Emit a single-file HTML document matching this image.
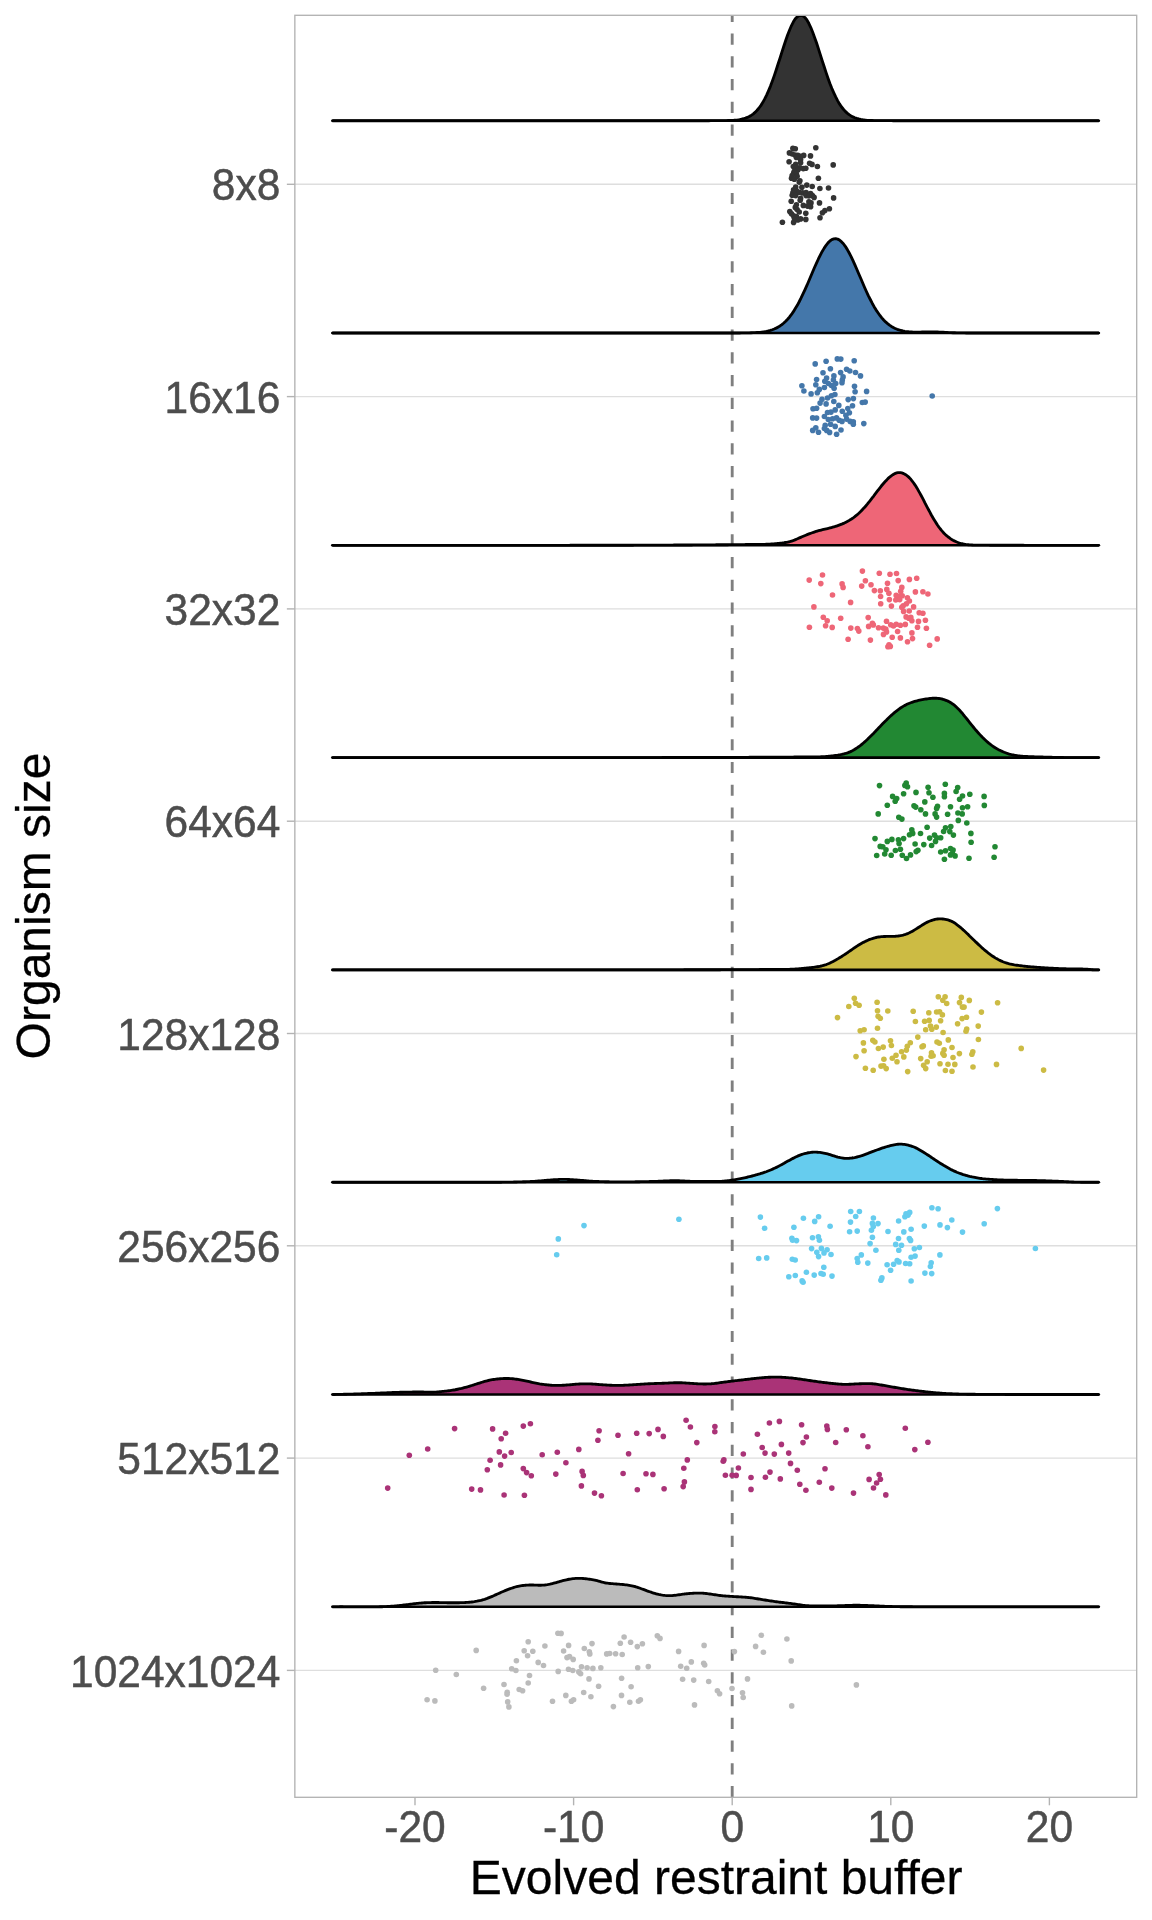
<!DOCTYPE html>
<html><head><meta charset="utf-8"><title>plot</title>
<style>
html,body{margin:0;padding:0;background:#fff;}
body{width:1152px;height:1920px;overflow:hidden;font-family:"Liberation Sans",sans-serif;}
svg{display:block;will-change:transform;}
text{font-family:"Liberation Sans",sans-serif;}
.tk{font-size:44.6px;fill:#4d4d4d;stroke:#4d4d4d;stroke-width:0.5px;}
.ti{font-size:48px;fill:#000;stroke:#000;stroke-width:0.3px;}
</style></head><body>
<svg width="1152" height="1920" viewBox="0 0 1152 1920">
<defs><clipPath id="pc"><rect x="294.85" y="15.3" width="841.85" height="1782.0"/></clipPath></defs>
<rect width="1152" height="1920" fill="#fff"/>

<g stroke="#dedede" stroke-width="1.4">
<line x1="294.85" x2="1136.7" y1="184.3" y2="184.3"/>
<line x1="294.85" x2="1136.7" y1="396.6" y2="396.6"/>
<line x1="294.85" x2="1136.7" y1="608.9" y2="608.9"/>
<line x1="294.85" x2="1136.7" y1="821.2" y2="821.2"/>
<line x1="294.85" x2="1136.7" y1="1033.5" y2="1033.5"/>
<line x1="294.85" x2="1136.7" y1="1245.8" y2="1245.8"/>
<line x1="294.85" x2="1136.7" y1="1458.1" y2="1458.1"/>
<line x1="294.85" x2="1136.7" y1="1670.4" y2="1670.4"/>
</g>
<g clip-path="url(#pc)">
<line x1="732.2" x2="732.2" y1="1797.3" y2="10.3" stroke="#7f7f7f" stroke-width="2.85" stroke-dasharray="11.2 11.56" stroke-dashoffset="0"/>
<path d="M332.3,120.70 L334.2,120.70 L336.1,120.70 L338.1,120.70 L340.0,120.70 L341.9,120.70 L343.8,120.70 L345.7,120.70 L347.7,120.70 L349.6,120.70 L351.5,120.70 L353.4,120.70 L355.4,120.70 L357.3,120.70 L359.2,120.70 L361.1,120.70 L363.0,120.70 L365.0,120.70 L366.9,120.70 L368.8,120.70 L370.7,120.70 L372.6,120.70 L374.6,120.70 L376.5,120.70 L378.4,120.70 L380.3,120.70 L382.3,120.70 L384.2,120.70 L386.1,120.70 L388.0,120.70 L389.9,120.70 L391.9,120.70 L393.8,120.70 L395.7,120.70 L397.6,120.70 L399.5,120.70 L401.5,120.70 L403.4,120.70 L405.3,120.70 L407.2,120.70 L409.2,120.70 L411.1,120.70 L413.0,120.70 L414.9,120.70 L416.8,120.70 L418.8,120.70 L420.7,120.70 L422.6,120.70 L424.5,120.70 L426.4,120.70 L428.4,120.70 L430.3,120.70 L432.2,120.70 L434.1,120.70 L436.1,120.70 L438.0,120.70 L439.9,120.70 L441.8,120.70 L443.7,120.70 L445.7,120.70 L447.6,120.70 L449.5,120.70 L451.4,120.70 L453.3,120.70 L455.3,120.70 L457.2,120.70 L459.1,120.70 L461.0,120.70 L462.9,120.70 L464.9,120.70 L466.8,120.70 L468.7,120.70 L470.6,120.70 L472.6,120.70 L474.5,120.70 L476.4,120.70 L478.3,120.70 L480.2,120.70 L482.2,120.70 L484.1,120.70 L486.0,120.70 L487.9,120.70 L489.8,120.70 L491.8,120.70 L493.7,120.70 L495.6,120.70 L497.5,120.70 L499.5,120.70 L501.4,120.70 L503.3,120.70 L505.2,120.70 L507.1,120.70 L509.1,120.70 L511.0,120.70 L512.9,120.70 L514.8,120.70 L516.7,120.70 L518.7,120.70 L520.6,120.70 L522.5,120.70 L524.4,120.70 L526.4,120.70 L528.3,120.70 L530.2,120.70 L532.1,120.70 L534.0,120.70 L536.0,120.70 L537.9,120.70 L539.8,120.70 L541.7,120.70 L543.6,120.70 L545.6,120.70 L547.5,120.70 L549.4,120.70 L551.3,120.70 L553.2,120.70 L555.2,120.70 L557.1,120.70 L559.0,120.70 L560.9,120.70 L562.9,120.70 L564.8,120.70 L566.7,120.70 L568.6,120.70 L570.5,120.70 L572.5,120.70 L574.4,120.70 L576.3,120.70 L578.2,120.70 L580.1,120.70 L582.1,120.70 L584.0,120.70 L585.9,120.70 L587.8,120.70 L589.8,120.70 L591.7,120.70 L593.6,120.70 L595.5,120.70 L597.4,120.70 L599.4,120.70 L601.3,120.70 L603.2,120.70 L605.1,120.70 L607.0,120.70 L609.0,120.70 L610.9,120.70 L612.8,120.70 L614.7,120.70 L616.7,120.70 L618.6,120.70 L620.5,120.70 L622.4,120.70 L624.3,120.70 L626.3,120.70 L628.2,120.70 L630.1,120.70 L632.0,120.70 L633.9,120.70 L635.9,120.70 L637.8,120.70 L639.7,120.70 L641.6,120.70 L643.6,120.70 L645.5,120.70 L647.4,120.70 L649.3,120.70 L651.2,120.70 L653.2,120.70 L655.1,120.70 L657.0,120.70 L658.9,120.70 L660.8,120.70 L662.8,120.70 L664.7,120.70 L666.6,120.70 L668.5,120.70 L670.4,120.70 L672.4,120.70 L674.3,120.70 L676.2,120.70 L678.1,120.70 L680.1,120.70 L682.0,120.70 L683.9,120.70 L685.8,120.70 L687.7,120.70 L689.7,120.70 L691.6,120.70 L693.5,120.70 L695.4,120.70 L697.3,120.70 L699.3,120.70 L701.2,120.70 L703.1,120.70 L705.0,120.70 L707.0,120.70 L708.9,120.70 L710.8,120.69 L712.7,120.69 L714.6,120.69 L716.6,120.68 L718.5,120.67 L720.4,120.66 L722.3,120.64 L724.2,120.62 L726.2,120.58 L728.1,120.53 L730.0,120.46 L731.9,120.37 L733.9,120.25 L735.8,120.08 L737.7,119.87 L739.6,119.58 L741.5,119.22 L743.5,118.76 L745.4,118.17 L747.3,117.44 L749.2,116.53 L751.1,115.42 L753.1,114.07 L755.0,112.45 L756.9,110.52 L758.8,108.26 L760.8,105.63 L762.7,102.61 L764.6,99.18 L766.5,95.33 L768.4,91.05 L770.4,86.37 L772.3,81.30 L774.2,75.89 L776.1,70.19 L778.0,64.28 L780.0,58.25 L781.9,52.18 L783.8,46.21 L785.7,40.43 L787.6,34.99 L789.6,29.99 L791.5,25.56 L793.4,21.81 L795.3,18.84 L797.3,16.72 L799.2,15.50 L801.1,15.22 L803.0,15.89 L804.9,17.49 L806.9,19.97 L808.8,23.28 L810.7,27.32 L812.6,32.00 L814.5,37.19 L816.5,42.79 L818.4,48.67 L820.3,54.69 L822.2,60.76 L824.2,66.75 L826.1,72.58 L828.0,78.17 L829.9,83.44 L831.8,88.36 L833.8,92.87 L835.7,96.97 L837.6,100.65 L839.5,103.91 L841.4,106.76 L843.4,109.24 L845.3,111.36 L847.2,113.15 L849.1,114.66 L851.1,115.91 L853.0,116.93 L854.9,117.76 L856.8,118.43 L858.7,118.96 L860.7,119.38 L862.6,119.71 L864.5,119.96 L866.4,120.16 L868.3,120.30 L870.3,120.41 L872.2,120.49 L874.1,120.55 L876.0,120.60 L878.0,120.63 L879.9,120.65 L881.8,120.67 L883.7,120.68 L885.6,120.68 L887.6,120.69 L889.5,120.69 L891.4,120.70 L893.3,120.70 L895.2,120.70 L897.2,120.70 L899.1,120.70 L901.0,120.70 L902.9,120.70 L904.8,120.70 L906.8,120.70 L908.7,120.70 L910.6,120.70 L912.5,120.70 L914.5,120.70 L916.4,120.70 L918.3,120.70 L920.2,120.70 L922.1,120.70 L924.1,120.70 L926.0,120.70 L927.9,120.70 L929.8,120.70 L931.7,120.70 L933.7,120.70 L935.6,120.70 L937.5,120.70 L939.4,120.70 L941.4,120.70 L943.3,120.70 L945.2,120.70 L947.1,120.70 L949.0,120.70 L951.0,120.70 L952.9,120.70 L954.8,120.70 L956.7,120.70 L958.6,120.70 L960.6,120.70 L962.5,120.70 L964.4,120.70 L966.3,120.70 L968.3,120.70 L970.2,120.70 L972.1,120.70 L974.0,120.70 L975.9,120.70 L977.9,120.70 L979.8,120.70 L981.7,120.70 L983.6,120.70 L985.5,120.70 L987.5,120.70 L989.4,120.70 L991.3,120.70 L993.2,120.70 L995.1,120.70 L997.1,120.70 L999.0,120.70 L1000.9,120.70 L1002.8,120.70 L1004.8,120.70 L1006.7,120.70 L1008.6,120.70 L1010.5,120.70 L1012.4,120.70 L1014.4,120.70 L1016.3,120.70 L1018.2,120.70 L1020.1,120.70 L1022.0,120.70 L1024.0,120.70 L1025.9,120.70 L1027.8,120.70 L1029.7,120.70 L1031.7,120.70 L1033.6,120.70 L1035.5,120.70 L1037.4,120.70 L1039.3,120.70 L1041.3,120.70 L1043.2,120.70 L1045.1,120.70 L1047.0,120.70 L1048.9,120.70 L1050.9,120.70 L1052.8,120.70 L1054.7,120.70 L1056.6,120.70 L1058.6,120.70 L1060.5,120.70 L1062.4,120.70 L1064.3,120.70 L1066.2,120.70 L1068.2,120.70 L1070.1,120.70 L1072.0,120.70 L1073.9,120.70 L1075.8,120.70 L1077.8,120.70 L1079.7,120.70 L1081.6,120.70 L1083.5,120.70 L1085.5,120.70 L1087.4,120.70 L1089.3,120.70 L1091.2,120.70 L1093.1,120.70 L1095.1,120.70 L1097.0,120.70 L1098.9,120.70 L1098.9,120.7 L332.3,120.7 Z" fill="#333333" stroke="none"/>
<path d="M332.3,120.70 L334.2,120.70 L336.1,120.70 L338.1,120.70 L340.0,120.70 L341.9,120.70 L343.8,120.70 L345.7,120.70 L347.7,120.70 L349.6,120.70 L351.5,120.70 L353.4,120.70 L355.4,120.70 L357.3,120.70 L359.2,120.70 L361.1,120.70 L363.0,120.70 L365.0,120.70 L366.9,120.70 L368.8,120.70 L370.7,120.70 L372.6,120.70 L374.6,120.70 L376.5,120.70 L378.4,120.70 L380.3,120.70 L382.3,120.70 L384.2,120.70 L386.1,120.70 L388.0,120.70 L389.9,120.70 L391.9,120.70 L393.8,120.70 L395.7,120.70 L397.6,120.70 L399.5,120.70 L401.5,120.70 L403.4,120.70 L405.3,120.70 L407.2,120.70 L409.2,120.70 L411.1,120.70 L413.0,120.70 L414.9,120.70 L416.8,120.70 L418.8,120.70 L420.7,120.70 L422.6,120.70 L424.5,120.70 L426.4,120.70 L428.4,120.70 L430.3,120.70 L432.2,120.70 L434.1,120.70 L436.1,120.70 L438.0,120.70 L439.9,120.70 L441.8,120.70 L443.7,120.70 L445.7,120.70 L447.6,120.70 L449.5,120.70 L451.4,120.70 L453.3,120.70 L455.3,120.70 L457.2,120.70 L459.1,120.70 L461.0,120.70 L462.9,120.70 L464.9,120.70 L466.8,120.70 L468.7,120.70 L470.6,120.70 L472.6,120.70 L474.5,120.70 L476.4,120.70 L478.3,120.70 L480.2,120.70 L482.2,120.70 L484.1,120.70 L486.0,120.70 L487.9,120.70 L489.8,120.70 L491.8,120.70 L493.7,120.70 L495.6,120.70 L497.5,120.70 L499.5,120.70 L501.4,120.70 L503.3,120.70 L505.2,120.70 L507.1,120.70 L509.1,120.70 L511.0,120.70 L512.9,120.70 L514.8,120.70 L516.7,120.70 L518.7,120.70 L520.6,120.70 L522.5,120.70 L524.4,120.70 L526.4,120.70 L528.3,120.70 L530.2,120.70 L532.1,120.70 L534.0,120.70 L536.0,120.70 L537.9,120.70 L539.8,120.70 L541.7,120.70 L543.6,120.70 L545.6,120.70 L547.5,120.70 L549.4,120.70 L551.3,120.70 L553.2,120.70 L555.2,120.70 L557.1,120.70 L559.0,120.70 L560.9,120.70 L562.9,120.70 L564.8,120.70 L566.7,120.70 L568.6,120.70 L570.5,120.70 L572.5,120.70 L574.4,120.70 L576.3,120.70 L578.2,120.70 L580.1,120.70 L582.1,120.70 L584.0,120.70 L585.9,120.70 L587.8,120.70 L589.8,120.70 L591.7,120.70 L593.6,120.70 L595.5,120.70 L597.4,120.70 L599.4,120.70 L601.3,120.70 L603.2,120.70 L605.1,120.70 L607.0,120.70 L609.0,120.70 L610.9,120.70 L612.8,120.70 L614.7,120.70 L616.7,120.70 L618.6,120.70 L620.5,120.70 L622.4,120.70 L624.3,120.70 L626.3,120.70 L628.2,120.70 L630.1,120.70 L632.0,120.70 L633.9,120.70 L635.9,120.70 L637.8,120.70 L639.7,120.70 L641.6,120.70 L643.6,120.70 L645.5,120.70 L647.4,120.70 L649.3,120.70 L651.2,120.70 L653.2,120.70 L655.1,120.70 L657.0,120.70 L658.9,120.70 L660.8,120.70 L662.8,120.70 L664.7,120.70 L666.6,120.70 L668.5,120.70 L670.4,120.70 L672.4,120.70 L674.3,120.70 L676.2,120.70 L678.1,120.70 L680.1,120.70 L682.0,120.70 L683.9,120.70 L685.8,120.70 L687.7,120.70 L689.7,120.70 L691.6,120.70 L693.5,120.70 L695.4,120.70 L697.3,120.70 L699.3,120.70 L701.2,120.70 L703.1,120.70 L705.0,120.70 L707.0,120.70 L708.9,120.70 L710.8,120.69 L712.7,120.69 L714.6,120.69 L716.6,120.68 L718.5,120.67 L720.4,120.66 L722.3,120.64 L724.2,120.62 L726.2,120.58 L728.1,120.53 L730.0,120.46 L731.9,120.37 L733.9,120.25 L735.8,120.08 L737.7,119.87 L739.6,119.58 L741.5,119.22 L743.5,118.76 L745.4,118.17 L747.3,117.44 L749.2,116.53 L751.1,115.42 L753.1,114.07 L755.0,112.45 L756.9,110.52 L758.8,108.26 L760.8,105.63 L762.7,102.61 L764.6,99.18 L766.5,95.33 L768.4,91.05 L770.4,86.37 L772.3,81.30 L774.2,75.89 L776.1,70.19 L778.0,64.28 L780.0,58.25 L781.9,52.18 L783.8,46.21 L785.7,40.43 L787.6,34.99 L789.6,29.99 L791.5,25.56 L793.4,21.81 L795.3,18.84 L797.3,16.72 L799.2,15.50 L801.1,15.22 L803.0,15.89 L804.9,17.49 L806.9,19.97 L808.8,23.28 L810.7,27.32 L812.6,32.00 L814.5,37.19 L816.5,42.79 L818.4,48.67 L820.3,54.69 L822.2,60.76 L824.2,66.75 L826.1,72.58 L828.0,78.17 L829.9,83.44 L831.8,88.36 L833.8,92.87 L835.7,96.97 L837.6,100.65 L839.5,103.91 L841.4,106.76 L843.4,109.24 L845.3,111.36 L847.2,113.15 L849.1,114.66 L851.1,115.91 L853.0,116.93 L854.9,117.76 L856.8,118.43 L858.7,118.96 L860.7,119.38 L862.6,119.71 L864.5,119.96 L866.4,120.16 L868.3,120.30 L870.3,120.41 L872.2,120.49 L874.1,120.55 L876.0,120.60 L878.0,120.63 L879.9,120.65 L881.8,120.67 L883.7,120.68 L885.6,120.68 L887.6,120.69 L889.5,120.69 L891.4,120.70 L893.3,120.70 L895.2,120.70 L897.2,120.70 L899.1,120.70 L901.0,120.70 L902.9,120.70 L904.8,120.70 L906.8,120.70 L908.7,120.70 L910.6,120.70 L912.5,120.70 L914.5,120.70 L916.4,120.70 L918.3,120.70 L920.2,120.70 L922.1,120.70 L924.1,120.70 L926.0,120.70 L927.9,120.70 L929.8,120.70 L931.7,120.70 L933.7,120.70 L935.6,120.70 L937.5,120.70 L939.4,120.70 L941.4,120.70 L943.3,120.70 L945.2,120.70 L947.1,120.70 L949.0,120.70 L951.0,120.70 L952.9,120.70 L954.8,120.70 L956.7,120.70 L958.6,120.70 L960.6,120.70 L962.5,120.70 L964.4,120.70 L966.3,120.70 L968.3,120.70 L970.2,120.70 L972.1,120.70 L974.0,120.70 L975.9,120.70 L977.9,120.70 L979.8,120.70 L981.7,120.70 L983.6,120.70 L985.5,120.70 L987.5,120.70 L989.4,120.70 L991.3,120.70 L993.2,120.70 L995.1,120.70 L997.1,120.70 L999.0,120.70 L1000.9,120.70 L1002.8,120.70 L1004.8,120.70 L1006.7,120.70 L1008.6,120.70 L1010.5,120.70 L1012.4,120.70 L1014.4,120.70 L1016.3,120.70 L1018.2,120.70 L1020.1,120.70 L1022.0,120.70 L1024.0,120.70 L1025.9,120.70 L1027.8,120.70 L1029.7,120.70 L1031.7,120.70 L1033.6,120.70 L1035.5,120.70 L1037.4,120.70 L1039.3,120.70 L1041.3,120.70 L1043.2,120.70 L1045.1,120.70 L1047.0,120.70 L1048.9,120.70 L1050.9,120.70 L1052.8,120.70 L1054.7,120.70 L1056.6,120.70 L1058.6,120.70 L1060.5,120.70 L1062.4,120.70 L1064.3,120.70 L1066.2,120.70 L1068.2,120.70 L1070.1,120.70 L1072.0,120.70 L1073.9,120.70 L1075.8,120.70 L1077.8,120.70 L1079.7,120.70 L1081.6,120.70 L1083.5,120.70 L1085.5,120.70 L1087.4,120.70 L1089.3,120.70 L1091.2,120.70 L1093.1,120.70 L1095.1,120.70 L1097.0,120.70 L1098.9,120.70" fill="none" stroke="#000" stroke-width="2.85" stroke-linejoin="round" stroke-linecap="butt"/>
<line x1="332.3" x2="1098.9" y1="120.7" y2="120.7" stroke="#000" stroke-width="2.6" stroke-linecap="round"/>
<g fill="#333333">
<circle cx="815.8" cy="147.7" r="2.8"/><circle cx="810.5" cy="155.9" r="2.8"/><circle cx="789.1" cy="161.8" r="2.8"/><circle cx="833.2" cy="164.9" r="2.8"/><circle cx="817.4" cy="166.5" r="2.8"/><circle cx="818.4" cy="178.3" r="2.8"/><circle cx="828.5" cy="188.0" r="2.8"/><circle cx="819.9" cy="188.5" r="2.8"/><circle cx="812.2" cy="186.5" r="2.8"/><circle cx="806.8" cy="185.1" r="2.8"/><circle cx="833.6" cy="197.9" r="2.8"/><circle cx="819.5" cy="202.9" r="2.8"/><circle cx="829.4" cy="208.7" r="2.8"/><circle cx="824.9" cy="210.6" r="2.8"/><circle cx="822.4" cy="212.7" r="2.8"/><circle cx="820.0" cy="217.7" r="2.8"/><circle cx="805.8" cy="213.3" r="2.8"/><circle cx="805.8" cy="219.4" r="2.8"/><circle cx="782.4" cy="222.2" r="2.8"/><circle cx="793.6" cy="222.4" r="2.8"/><circle cx="792.9" cy="148.4" r="2.8"/><circle cx="795.3" cy="148.8" r="2.8"/><circle cx="789.4" cy="152.9" r="2.8"/><circle cx="792.2" cy="154.0" r="2.8"/><circle cx="795.0" cy="155.0" r="2.8"/><circle cx="797.8" cy="155.4" r="2.8"/><circle cx="800.6" cy="156.4" r="2.8"/><circle cx="803.7" cy="155.4" r="2.8"/><circle cx="796.4" cy="157.4" r="2.8"/><circle cx="800.6" cy="159.5" r="2.8"/><circle cx="800.6" cy="162.7" r="2.8"/><circle cx="809.6" cy="163.3" r="2.8"/><circle cx="812.0" cy="164.4" r="2.8"/><circle cx="795.7" cy="164.4" r="2.8"/><circle cx="793.3" cy="166.5" r="2.8"/><circle cx="796.4" cy="167.2" r="2.8"/><circle cx="799.9" cy="167.9" r="2.8"/><circle cx="803.3" cy="168.6" r="2.8"/><circle cx="805.8" cy="168.2" r="2.8"/><circle cx="797.8" cy="169.9" r="2.8"/><circle cx="794.3" cy="171.3" r="2.8"/><circle cx="793.6" cy="173.4" r="2.8"/><circle cx="796.4" cy="174.1" r="2.8"/><circle cx="792.2" cy="175.5" r="2.8"/><circle cx="797.1" cy="176.2" r="2.8"/><circle cx="791.5" cy="178.3" r="2.8"/><circle cx="794.3" cy="179.3" r="2.8"/><circle cx="799.9" cy="180.7" r="2.8"/><circle cx="799.2" cy="182.1" r="2.8"/><circle cx="795.7" cy="187.0" r="2.8"/><circle cx="801.9" cy="187.3" r="2.8"/><circle cx="793.6" cy="189.7" r="2.8"/><circle cx="796.4" cy="190.8" r="2.8"/><circle cx="799.2" cy="192.2" r="2.8"/><circle cx="792.9" cy="192.9" r="2.8"/><circle cx="802.6" cy="192.9" r="2.8"/><circle cx="806.1" cy="192.5" r="2.8"/><circle cx="810.6" cy="193.6" r="2.8"/><circle cx="792.2" cy="195.3" r="2.8"/><circle cx="795.7" cy="195.6" r="2.8"/><circle cx="806.1" cy="195.6" r="2.8"/><circle cx="808.9" cy="196.0" r="2.8"/><circle cx="812.4" cy="195.6" r="2.8"/><circle cx="814.1" cy="197.4" r="2.8"/><circle cx="800.6" cy="198.4" r="2.8"/><circle cx="800.2" cy="200.2" r="2.8"/><circle cx="791.2" cy="201.2" r="2.8"/><circle cx="808.9" cy="201.9" r="2.8"/><circle cx="811.0" cy="202.9" r="2.8"/><circle cx="796.4" cy="204.7" r="2.8"/><circle cx="803.3" cy="205.4" r="2.8"/><circle cx="807.5" cy="206.1" r="2.8"/><circle cx="810.6" cy="206.8" r="2.8"/><circle cx="795.3" cy="207.4" r="2.8"/><circle cx="797.1" cy="209.5" r="2.8"/><circle cx="789.8" cy="211.6" r="2.8"/><circle cx="799.2" cy="212.0" r="2.8"/><circle cx="791.5" cy="213.7" r="2.8"/><circle cx="793.6" cy="215.8" r="2.8"/><circle cx="796.4" cy="216.5" r="2.8"/><circle cx="794.3" cy="217.9" r="2.8"/><circle cx="800.6" cy="218.9" r="2.8"/><circle cx="797.8" cy="219.9" r="2.8"/>
</g>
<path d="M332.3,333.00 L334.2,333.00 L336.1,333.00 L338.1,333.00 L340.0,333.00 L341.9,333.00 L343.8,333.00 L345.7,333.00 L347.7,333.00 L349.6,333.00 L351.5,333.00 L353.4,333.00 L355.4,333.00 L357.3,333.00 L359.2,333.00 L361.1,333.00 L363.0,333.00 L365.0,333.00 L366.9,333.00 L368.8,333.00 L370.7,333.00 L372.6,333.00 L374.6,333.00 L376.5,333.00 L378.4,333.00 L380.3,333.00 L382.3,333.00 L384.2,333.00 L386.1,333.00 L388.0,333.00 L389.9,333.00 L391.9,333.00 L393.8,333.00 L395.7,333.00 L397.6,333.00 L399.5,333.00 L401.5,333.00 L403.4,333.00 L405.3,333.00 L407.2,333.00 L409.2,333.00 L411.1,333.00 L413.0,333.00 L414.9,333.00 L416.8,333.00 L418.8,333.00 L420.7,333.00 L422.6,333.00 L424.5,333.00 L426.4,333.00 L428.4,333.00 L430.3,333.00 L432.2,333.00 L434.1,333.00 L436.1,333.00 L438.0,333.00 L439.9,333.00 L441.8,333.00 L443.7,333.00 L445.7,333.00 L447.6,333.00 L449.5,333.00 L451.4,333.00 L453.3,333.00 L455.3,333.00 L457.2,333.00 L459.1,333.00 L461.0,333.00 L462.9,333.00 L464.9,333.00 L466.8,333.00 L468.7,333.00 L470.6,333.00 L472.6,333.00 L474.5,333.00 L476.4,333.00 L478.3,333.00 L480.2,333.00 L482.2,333.00 L484.1,333.00 L486.0,333.00 L487.9,333.00 L489.8,333.00 L491.8,333.00 L493.7,333.00 L495.6,333.00 L497.5,333.00 L499.5,333.00 L501.4,333.00 L503.3,333.00 L505.2,333.00 L507.1,333.00 L509.1,333.00 L511.0,333.00 L512.9,333.00 L514.8,333.00 L516.7,333.00 L518.7,333.00 L520.6,333.00 L522.5,333.00 L524.4,333.00 L526.4,333.00 L528.3,333.00 L530.2,333.00 L532.1,333.00 L534.0,333.00 L536.0,333.00 L537.9,333.00 L539.8,333.00 L541.7,333.00 L543.6,333.00 L545.6,333.00 L547.5,333.00 L549.4,333.00 L551.3,333.00 L553.2,333.00 L555.2,333.00 L557.1,333.00 L559.0,333.00 L560.9,333.00 L562.9,333.00 L564.8,333.00 L566.7,333.00 L568.6,333.00 L570.5,333.00 L572.5,333.00 L574.4,333.00 L576.3,333.00 L578.2,333.00 L580.1,333.00 L582.1,333.00 L584.0,333.00 L585.9,333.00 L587.8,333.00 L589.8,333.00 L591.7,333.00 L593.6,333.00 L595.5,333.00 L597.4,333.00 L599.4,333.00 L601.3,333.00 L603.2,333.00 L605.1,333.00 L607.0,333.00 L609.0,333.00 L610.9,333.00 L612.8,333.00 L614.7,333.00 L616.7,333.00 L618.6,333.00 L620.5,333.00 L622.4,333.00 L624.3,333.00 L626.3,333.00 L628.2,333.00 L630.1,333.00 L632.0,333.00 L633.9,333.00 L635.9,333.00 L637.8,333.00 L639.7,333.00 L641.6,333.00 L643.6,333.00 L645.5,333.00 L647.4,333.00 L649.3,333.00 L651.2,333.00 L653.2,333.00 L655.1,333.00 L657.0,333.00 L658.9,333.00 L660.8,333.00 L662.8,333.00 L664.7,333.00 L666.6,333.00 L668.5,333.00 L670.4,333.00 L672.4,333.00 L674.3,333.00 L676.2,333.00 L678.1,333.00 L680.1,333.00 L682.0,333.00 L683.9,333.00 L685.8,333.00 L687.7,333.00 L689.7,333.00 L691.6,333.00 L693.5,333.00 L695.4,333.00 L697.3,333.00 L699.3,333.00 L701.2,333.00 L703.1,333.00 L705.0,333.00 L707.0,333.00 L708.9,333.00 L710.8,333.00 L712.7,333.00 L714.6,333.00 L716.6,333.00 L718.5,333.00 L720.4,333.00 L722.3,333.00 L724.2,333.00 L726.2,333.00 L728.1,332.99 L730.0,332.99 L731.9,332.99 L733.9,332.98 L735.8,332.98 L737.7,332.97 L739.6,332.96 L741.5,332.94 L743.5,332.93 L745.4,332.90 L747.3,332.87 L749.2,332.82 L751.1,332.77 L753.1,332.69 L755.0,332.60 L756.9,332.48 L758.8,332.33 L760.8,332.15 L762.7,331.92 L764.6,331.63 L766.5,331.28 L768.4,330.86 L770.4,330.35 L772.3,329.73 L774.2,329.00 L776.1,328.14 L778.0,327.13 L780.0,325.95 L781.9,324.58 L783.8,323.01 L785.7,321.23 L787.6,319.21 L789.6,316.95 L791.5,314.43 L793.4,311.65 L795.3,308.61 L797.3,305.31 L799.2,301.76 L801.1,297.98 L803.0,293.98 L804.9,289.79 L806.9,285.45 L808.8,281.01 L810.7,276.50 L812.6,271.98 L814.5,267.52 L816.5,263.16 L818.4,258.98 L820.3,255.04 L822.2,251.40 L824.2,248.12 L826.1,245.26 L828.0,242.86 L829.9,240.99 L831.8,239.65 L833.8,238.89 L835.7,238.71 L837.6,239.12 L839.5,240.11 L841.4,241.67 L843.4,243.76 L845.3,246.34 L847.2,249.37 L849.1,252.80 L851.1,256.57 L853.0,260.61 L854.9,264.87 L856.8,269.28 L858.7,273.77 L860.7,278.29 L862.6,282.78 L864.5,287.19 L866.4,291.47 L868.3,295.59 L870.3,299.51 L872.2,303.20 L874.1,306.66 L876.0,309.85 L878.0,312.79 L879.9,315.46 L881.8,317.88 L883.7,320.04 L885.6,321.96 L887.6,323.66 L889.5,325.14 L891.4,326.43 L893.3,327.53 L895.2,328.48 L897.2,329.28 L899.1,329.94 L901.0,330.50 L902.9,330.94 L904.8,331.30 L906.8,331.58 L908.7,331.78 L910.6,331.93 L912.5,332.03 L914.5,332.08 L916.4,332.09 L918.3,332.08 L920.2,332.05 L922.1,332.00 L924.1,331.95 L926.0,331.91 L927.9,331.88 L929.8,331.86 L931.7,331.86 L933.7,331.89 L935.6,331.93 L937.5,331.99 L939.4,332.07 L941.4,332.16 L943.3,332.26 L945.2,332.35 L947.1,332.45 L949.0,332.55 L951.0,332.63 L952.9,332.71 L954.8,332.77 L956.7,332.83 L958.6,332.87 L960.6,332.91 L962.5,332.93 L964.4,332.95 L966.3,332.97 L968.3,332.98 L970.2,332.99 L972.1,332.99 L974.0,332.99 L975.9,333.00 L977.9,333.00 L979.8,333.00 L981.7,333.00 L983.6,333.00 L985.5,333.00 L987.5,333.00 L989.4,333.00 L991.3,333.00 L993.2,333.00 L995.1,333.00 L997.1,333.00 L999.0,333.00 L1000.9,333.00 L1002.8,333.00 L1004.8,333.00 L1006.7,333.00 L1008.6,333.00 L1010.5,333.00 L1012.4,333.00 L1014.4,333.00 L1016.3,333.00 L1018.2,333.00 L1020.1,333.00 L1022.0,333.00 L1024.0,333.00 L1025.9,333.00 L1027.8,333.00 L1029.7,333.00 L1031.7,333.00 L1033.6,333.00 L1035.5,333.00 L1037.4,333.00 L1039.3,333.00 L1041.3,333.00 L1043.2,333.00 L1045.1,333.00 L1047.0,333.00 L1048.9,333.00 L1050.9,333.00 L1052.8,333.00 L1054.7,333.00 L1056.6,333.00 L1058.6,333.00 L1060.5,333.00 L1062.4,333.00 L1064.3,333.00 L1066.2,333.00 L1068.2,333.00 L1070.1,333.00 L1072.0,333.00 L1073.9,333.00 L1075.8,333.00 L1077.8,333.00 L1079.7,333.00 L1081.6,333.00 L1083.5,333.00 L1085.5,333.00 L1087.4,333.00 L1089.3,333.00 L1091.2,333.00 L1093.1,333.00 L1095.1,333.00 L1097.0,333.00 L1098.9,333.00 L1098.9,333.0 L332.3,333.0 Z" fill="#4477AA" stroke="none"/>
<path d="M332.3,333.00 L334.2,333.00 L336.1,333.00 L338.1,333.00 L340.0,333.00 L341.9,333.00 L343.8,333.00 L345.7,333.00 L347.7,333.00 L349.6,333.00 L351.5,333.00 L353.4,333.00 L355.4,333.00 L357.3,333.00 L359.2,333.00 L361.1,333.00 L363.0,333.00 L365.0,333.00 L366.9,333.00 L368.8,333.00 L370.7,333.00 L372.6,333.00 L374.6,333.00 L376.5,333.00 L378.4,333.00 L380.3,333.00 L382.3,333.00 L384.2,333.00 L386.1,333.00 L388.0,333.00 L389.9,333.00 L391.9,333.00 L393.8,333.00 L395.7,333.00 L397.6,333.00 L399.5,333.00 L401.5,333.00 L403.4,333.00 L405.3,333.00 L407.2,333.00 L409.2,333.00 L411.1,333.00 L413.0,333.00 L414.9,333.00 L416.8,333.00 L418.8,333.00 L420.7,333.00 L422.6,333.00 L424.5,333.00 L426.4,333.00 L428.4,333.00 L430.3,333.00 L432.2,333.00 L434.1,333.00 L436.1,333.00 L438.0,333.00 L439.9,333.00 L441.8,333.00 L443.7,333.00 L445.7,333.00 L447.6,333.00 L449.5,333.00 L451.4,333.00 L453.3,333.00 L455.3,333.00 L457.2,333.00 L459.1,333.00 L461.0,333.00 L462.9,333.00 L464.9,333.00 L466.8,333.00 L468.7,333.00 L470.6,333.00 L472.6,333.00 L474.5,333.00 L476.4,333.00 L478.3,333.00 L480.2,333.00 L482.2,333.00 L484.1,333.00 L486.0,333.00 L487.9,333.00 L489.8,333.00 L491.8,333.00 L493.7,333.00 L495.6,333.00 L497.5,333.00 L499.5,333.00 L501.4,333.00 L503.3,333.00 L505.2,333.00 L507.1,333.00 L509.1,333.00 L511.0,333.00 L512.9,333.00 L514.8,333.00 L516.7,333.00 L518.7,333.00 L520.6,333.00 L522.5,333.00 L524.4,333.00 L526.4,333.00 L528.3,333.00 L530.2,333.00 L532.1,333.00 L534.0,333.00 L536.0,333.00 L537.9,333.00 L539.8,333.00 L541.7,333.00 L543.6,333.00 L545.6,333.00 L547.5,333.00 L549.4,333.00 L551.3,333.00 L553.2,333.00 L555.2,333.00 L557.1,333.00 L559.0,333.00 L560.9,333.00 L562.9,333.00 L564.8,333.00 L566.7,333.00 L568.6,333.00 L570.5,333.00 L572.5,333.00 L574.4,333.00 L576.3,333.00 L578.2,333.00 L580.1,333.00 L582.1,333.00 L584.0,333.00 L585.9,333.00 L587.8,333.00 L589.8,333.00 L591.7,333.00 L593.6,333.00 L595.5,333.00 L597.4,333.00 L599.4,333.00 L601.3,333.00 L603.2,333.00 L605.1,333.00 L607.0,333.00 L609.0,333.00 L610.9,333.00 L612.8,333.00 L614.7,333.00 L616.7,333.00 L618.6,333.00 L620.5,333.00 L622.4,333.00 L624.3,333.00 L626.3,333.00 L628.2,333.00 L630.1,333.00 L632.0,333.00 L633.9,333.00 L635.9,333.00 L637.8,333.00 L639.7,333.00 L641.6,333.00 L643.6,333.00 L645.5,333.00 L647.4,333.00 L649.3,333.00 L651.2,333.00 L653.2,333.00 L655.1,333.00 L657.0,333.00 L658.9,333.00 L660.8,333.00 L662.8,333.00 L664.7,333.00 L666.6,333.00 L668.5,333.00 L670.4,333.00 L672.4,333.00 L674.3,333.00 L676.2,333.00 L678.1,333.00 L680.1,333.00 L682.0,333.00 L683.9,333.00 L685.8,333.00 L687.7,333.00 L689.7,333.00 L691.6,333.00 L693.5,333.00 L695.4,333.00 L697.3,333.00 L699.3,333.00 L701.2,333.00 L703.1,333.00 L705.0,333.00 L707.0,333.00 L708.9,333.00 L710.8,333.00 L712.7,333.00 L714.6,333.00 L716.6,333.00 L718.5,333.00 L720.4,333.00 L722.3,333.00 L724.2,333.00 L726.2,333.00 L728.1,332.99 L730.0,332.99 L731.9,332.99 L733.9,332.98 L735.8,332.98 L737.7,332.97 L739.6,332.96 L741.5,332.94 L743.5,332.93 L745.4,332.90 L747.3,332.87 L749.2,332.82 L751.1,332.77 L753.1,332.69 L755.0,332.60 L756.9,332.48 L758.8,332.33 L760.8,332.15 L762.7,331.92 L764.6,331.63 L766.5,331.28 L768.4,330.86 L770.4,330.35 L772.3,329.73 L774.2,329.00 L776.1,328.14 L778.0,327.13 L780.0,325.95 L781.9,324.58 L783.8,323.01 L785.7,321.23 L787.6,319.21 L789.6,316.95 L791.5,314.43 L793.4,311.65 L795.3,308.61 L797.3,305.31 L799.2,301.76 L801.1,297.98 L803.0,293.98 L804.9,289.79 L806.9,285.45 L808.8,281.01 L810.7,276.50 L812.6,271.98 L814.5,267.52 L816.5,263.16 L818.4,258.98 L820.3,255.04 L822.2,251.40 L824.2,248.12 L826.1,245.26 L828.0,242.86 L829.9,240.99 L831.8,239.65 L833.8,238.89 L835.7,238.71 L837.6,239.12 L839.5,240.11 L841.4,241.67 L843.4,243.76 L845.3,246.34 L847.2,249.37 L849.1,252.80 L851.1,256.57 L853.0,260.61 L854.9,264.87 L856.8,269.28 L858.7,273.77 L860.7,278.29 L862.6,282.78 L864.5,287.19 L866.4,291.47 L868.3,295.59 L870.3,299.51 L872.2,303.20 L874.1,306.66 L876.0,309.85 L878.0,312.79 L879.9,315.46 L881.8,317.88 L883.7,320.04 L885.6,321.96 L887.6,323.66 L889.5,325.14 L891.4,326.43 L893.3,327.53 L895.2,328.48 L897.2,329.28 L899.1,329.94 L901.0,330.50 L902.9,330.94 L904.8,331.30 L906.8,331.58 L908.7,331.78 L910.6,331.93 L912.5,332.03 L914.5,332.08 L916.4,332.09 L918.3,332.08 L920.2,332.05 L922.1,332.00 L924.1,331.95 L926.0,331.91 L927.9,331.88 L929.8,331.86 L931.7,331.86 L933.7,331.89 L935.6,331.93 L937.5,331.99 L939.4,332.07 L941.4,332.16 L943.3,332.26 L945.2,332.35 L947.1,332.45 L949.0,332.55 L951.0,332.63 L952.9,332.71 L954.8,332.77 L956.7,332.83 L958.6,332.87 L960.6,332.91 L962.5,332.93 L964.4,332.95 L966.3,332.97 L968.3,332.98 L970.2,332.99 L972.1,332.99 L974.0,332.99 L975.9,333.00 L977.9,333.00 L979.8,333.00 L981.7,333.00 L983.6,333.00 L985.5,333.00 L987.5,333.00 L989.4,333.00 L991.3,333.00 L993.2,333.00 L995.1,333.00 L997.1,333.00 L999.0,333.00 L1000.9,333.00 L1002.8,333.00 L1004.8,333.00 L1006.7,333.00 L1008.6,333.00 L1010.5,333.00 L1012.4,333.00 L1014.4,333.00 L1016.3,333.00 L1018.2,333.00 L1020.1,333.00 L1022.0,333.00 L1024.0,333.00 L1025.9,333.00 L1027.8,333.00 L1029.7,333.00 L1031.7,333.00 L1033.6,333.00 L1035.5,333.00 L1037.4,333.00 L1039.3,333.00 L1041.3,333.00 L1043.2,333.00 L1045.1,333.00 L1047.0,333.00 L1048.9,333.00 L1050.9,333.00 L1052.8,333.00 L1054.7,333.00 L1056.6,333.00 L1058.6,333.00 L1060.5,333.00 L1062.4,333.00 L1064.3,333.00 L1066.2,333.00 L1068.2,333.00 L1070.1,333.00 L1072.0,333.00 L1073.9,333.00 L1075.8,333.00 L1077.8,333.00 L1079.7,333.00 L1081.6,333.00 L1083.5,333.00 L1085.5,333.00 L1087.4,333.00 L1089.3,333.00 L1091.2,333.00 L1093.1,333.00 L1095.1,333.00 L1097.0,333.00 L1098.9,333.00" fill="none" stroke="#000" stroke-width="2.85" stroke-linejoin="round" stroke-linecap="butt"/>
<line x1="332.3" x2="1098.9" y1="333.0" y2="333.0" stroke="#000" stroke-width="2.6" stroke-linecap="round"/>
<g fill="#4477AA">
<circle cx="815.2" cy="363.9" r="2.8"/><circle cx="826.1" cy="361.3" r="2.8"/><circle cx="837.3" cy="358.9" r="2.8"/><circle cx="840.8" cy="359.1" r="2.8"/><circle cx="854.2" cy="360.7" r="2.8"/><circle cx="830.4" cy="368.7" r="2.8"/><circle cx="823.0" cy="372.8" r="2.8"/><circle cx="846.6" cy="369.2" r="2.8"/><circle cx="849.8" cy="371.0" r="2.8"/><circle cx="840.6" cy="372.6" r="2.8"/><circle cx="855.5" cy="372.5" r="2.8"/><circle cx="860.5" cy="375.9" r="2.8"/><circle cx="833.9" cy="375.9" r="2.8"/><circle cx="816.6" cy="379.5" r="2.8"/><circle cx="826.6" cy="378.1" r="2.8"/><circle cx="824.8" cy="381.2" r="2.8"/><circle cx="833.4" cy="380.0" r="2.8"/><circle cx="843.1" cy="376.9" r="2.8"/><circle cx="842.3" cy="380.0" r="2.8"/><circle cx="842.0" cy="382.8" r="2.8"/><circle cx="815.8" cy="384.7" r="2.8"/><circle cx="801.9" cy="385.7" r="2.8"/><circle cx="803.9" cy="391.0" r="2.8"/><circle cx="811.1" cy="393.9" r="2.8"/><circle cx="828.3" cy="383.5" r="2.8"/><circle cx="831.4" cy="385.5" r="2.8"/><circle cx="835.7" cy="383.5" r="2.8"/><circle cx="824.4" cy="387.5" r="2.8"/><circle cx="819.3" cy="389.4" r="2.8"/><circle cx="817.3" cy="392.7" r="2.8"/><circle cx="834.1" cy="388.2" r="2.8"/><circle cx="854.5" cy="386.3" r="2.8"/><circle cx="855.1" cy="391.8" r="2.8"/><circle cx="866.6" cy="391.4" r="2.8"/><circle cx="834.9" cy="394.5" r="2.8"/><circle cx="831.4" cy="395.7" r="2.8"/><circle cx="827.5" cy="398.0" r="2.8"/><circle cx="822.0" cy="399.2" r="2.8"/><circle cx="820.1" cy="403.1" r="2.8"/><circle cx="826.1" cy="403.9" r="2.8"/><circle cx="833.8" cy="401.5" r="2.8"/><circle cx="838.8" cy="405.4" r="2.8"/><circle cx="848.2" cy="399.6" r="2.8"/><circle cx="853.4" cy="398.6" r="2.8"/><circle cx="862.3" cy="402.5" r="2.8"/><circle cx="865.2" cy="402.1" r="2.8"/><circle cx="813.0" cy="408.8" r="2.8"/><circle cx="816.6" cy="408.2" r="2.8"/><circle cx="852.5" cy="405.8" r="2.8"/><circle cx="847.8" cy="408.5" r="2.8"/><circle cx="835.2" cy="409.9" r="2.8"/><circle cx="827.5" cy="412.5" r="2.8"/><circle cx="831.0" cy="412.1" r="2.8"/><circle cx="842.3" cy="411.3" r="2.8"/><circle cx="849.4" cy="412.8" r="2.8"/><circle cx="845.9" cy="415.2" r="2.8"/><circle cx="824.4" cy="416.5" r="2.8"/><circle cx="812.7" cy="417.9" r="2.8"/><circle cx="816.6" cy="418.1" r="2.8"/><circle cx="828.3" cy="419.5" r="2.8"/><circle cx="832.6" cy="418.7" r="2.8"/><circle cx="836.5" cy="417.9" r="2.8"/><circle cx="839.2" cy="420.3" r="2.8"/><circle cx="842.0" cy="421.4" r="2.8"/><circle cx="846.6" cy="419.1" r="2.8"/><circle cx="850.2" cy="421.4" r="2.8"/><circle cx="853.3" cy="421.8" r="2.8"/><circle cx="853.3" cy="424.2" r="2.8"/><circle cx="863.8" cy="423.6" r="2.8"/><circle cx="825.2" cy="425.3" r="2.8"/><circle cx="830.6" cy="424.2" r="2.8"/><circle cx="835.2" cy="426.4" r="2.8"/><circle cx="815.8" cy="427.7" r="2.8"/><circle cx="812.7" cy="430.4" r="2.8"/><circle cx="818.5" cy="432.2" r="2.8"/><circle cx="824.4" cy="428.5" r="2.8"/><circle cx="826.7" cy="430.4" r="2.8"/><circle cx="829.6" cy="432.4" r="2.8"/><circle cx="841.0" cy="430.0" r="2.8"/><circle cx="836.6" cy="434.3" r="2.8"/><circle cx="932.2" cy="396.0" r="2.8"/>
</g>
<path d="M332.3,545.30 L333.6,545.30 L334.9,545.30 L336.1,545.30 L337.4,545.30 L338.7,545.30 L340.0,545.30 L341.3,545.30 L342.5,545.30 L343.8,545.30 L345.1,545.30 L346.4,545.30 L347.7,545.30 L348.9,545.30 L350.2,545.30 L351.5,545.30 L352.8,545.30 L354.1,545.30 L355.3,545.30 L356.6,545.30 L357.9,545.30 L359.2,545.30 L360.5,545.30 L361.7,545.30 L363.0,545.30 L364.3,545.30 L365.6,545.30 L366.9,545.30 L368.1,545.30 L369.4,545.30 L370.7,545.30 L372.0,545.30 L373.3,545.30 L374.5,545.30 L375.8,545.30 L377.1,545.30 L378.4,545.30 L379.7,545.30 L380.9,545.30 L382.2,545.30 L383.5,545.30 L384.8,545.30 L386.1,545.30 L387.3,545.30 L388.6,545.30 L389.9,545.30 L391.2,545.30 L392.5,545.30 L393.7,545.30 L395.0,545.30 L396.3,545.30 L397.6,545.30 L398.8,545.30 L400.1,545.30 L401.4,545.30 L402.7,545.30 L404.0,545.30 L405.2,545.30 L406.5,545.30 L407.8,545.30 L409.1,545.30 L410.4,545.30 L411.6,545.30 L412.9,545.30 L414.2,545.30 L415.5,545.30 L416.8,545.30 L418.0,545.30 L419.3,545.30 L420.6,545.30 L421.9,545.30 L423.2,545.30 L424.4,545.30 L425.7,545.30 L427.0,545.30 L428.3,545.30 L429.6,545.30 L430.8,545.30 L432.1,545.30 L433.4,545.30 L434.7,545.30 L436.0,545.30 L437.2,545.30 L438.5,545.30 L439.8,545.30 L441.1,545.30 L442.4,545.30 L443.6,545.30 L444.9,545.30 L446.2,545.30 L447.5,545.30 L448.8,545.30 L450.0,545.30 L451.3,545.30 L452.6,545.30 L453.9,545.30 L455.2,545.30 L456.4,545.30 L457.7,545.30 L459.0,545.30 L460.3,545.30 L461.6,545.30 L462.8,545.30 L464.1,545.30 L465.4,545.30 L466.7,545.30 L468.0,545.30 L469.2,545.30 L470.5,545.30 L471.8,545.30 L473.1,545.30 L474.4,545.30 L475.6,545.30 L476.9,545.30 L478.2,545.30 L479.5,545.30 L480.8,545.30 L482.0,545.30 L483.3,545.30 L484.6,545.30 L485.9,545.30 L487.2,545.30 L488.4,545.30 L489.7,545.30 L491.0,545.30 L492.3,545.30 L493.6,545.30 L494.8,545.30 L496.1,545.30 L497.4,545.30 L498.7,545.30 L500.0,545.30 L501.2,545.30 L502.5,545.30 L503.8,545.30 L505.1,545.30 L506.4,545.30 L507.6,545.30 L508.9,545.30 L510.2,545.30 L511.5,545.30 L512.8,545.30 L514.0,545.30 L515.3,545.30 L516.6,545.30 L517.9,545.30 L519.2,545.30 L520.4,545.30 L521.7,545.30 L523.0,545.30 L524.3,545.30 L525.5,545.30 L526.8,545.30 L528.1,545.30 L529.4,545.30 L530.7,545.30 L531.9,545.30 L533.2,545.30 L534.5,545.30 L535.8,545.30 L537.1,545.30 L538.3,545.30 L539.6,545.30 L540.9,545.30 L542.2,545.30 L543.5,545.30 L544.7,545.30 L546.0,545.30 L547.3,545.30 L548.6,545.30 L549.9,545.30 L551.1,545.30 L552.4,545.30 L553.7,545.30 L555.0,545.30 L556.3,545.30 L557.5,545.30 L558.8,545.30 L560.1,545.30 L561.4,545.30 L562.7,545.30 L563.9,545.30 L565.2,545.30 L566.5,545.30 L567.8,545.30 L569.1,545.30 L570.3,545.29 L571.6,545.29 L572.9,545.29 L574.2,545.29 L575.5,545.29 L576.7,545.29 L578.0,545.29 L579.3,545.29 L580.6,545.29 L581.9,545.29 L583.1,545.29 L584.4,545.28 L585.7,545.28 L587.0,545.28 L588.3,545.28 L589.5,545.28 L590.8,545.28 L592.1,545.28 L593.4,545.28 L594.7,545.27 L595.9,545.27 L597.2,545.27 L598.5,545.27 L599.8,545.27 L601.1,545.26 L602.3,545.26 L603.6,545.26 L604.9,545.26 L606.2,545.26 L607.5,545.25 L608.7,545.25 L610.0,545.25 L611.3,545.25 L612.6,545.25 L613.9,545.24 L615.1,545.24 L616.4,545.24 L617.7,545.24 L619.0,545.23 L620.3,545.23 L621.5,545.23 L622.8,545.22 L624.1,545.22 L625.4,545.22 L626.7,545.21 L627.9,545.21 L629.2,545.21 L630.5,545.21 L631.8,545.20 L633.1,545.20 L634.3,545.19 L635.6,545.19 L636.9,545.19 L638.2,545.18 L639.5,545.18 L640.7,545.18 L642.0,545.17 L643.3,545.17 L644.6,545.16 L645.9,545.16 L647.1,545.16 L648.4,545.15 L649.7,545.15 L651.0,545.14 L652.2,545.14 L653.5,545.13 L654.8,545.13 L656.1,545.12 L657.4,545.12 L658.6,545.11 L659.9,545.11 L661.2,545.10 L662.5,545.10 L663.8,545.09 L665.0,545.09 L666.3,545.08 L667.6,545.07 L668.9,545.07 L670.2,545.06 L671.4,545.06 L672.7,545.05 L674.0,545.04 L675.3,545.04 L676.6,545.03 L677.8,545.03 L679.1,545.02 L680.4,545.01 L681.7,545.01 L683.0,545.00 L684.2,544.99 L685.5,544.99 L686.8,544.98 L688.1,544.97 L689.4,544.96 L690.6,544.96 L691.9,544.95 L693.2,544.94 L694.5,544.93 L695.8,544.93 L697.0,544.92 L698.3,544.91 L699.6,544.90 L700.9,544.89 L702.2,544.89 L703.4,544.88 L704.7,544.87 L706.0,544.86 L707.3,544.85 L708.6,544.84 L709.8,544.83 L711.1,544.82 L712.4,544.81 L713.7,544.81 L715.0,544.80 L716.2,544.79 L717.5,544.78 L718.8,544.77 L720.1,544.76 L721.4,544.75 L722.6,544.74 L723.9,544.73 L725.2,544.72 L726.5,544.71 L727.8,544.70 L729.0,544.68 L730.3,544.67 L731.6,544.66 L732.9,544.65 L734.2,544.64 L735.4,544.63 L736.7,544.62 L738.0,544.61 L739.3,544.59 L740.6,544.58 L741.8,544.57 L743.1,544.56 L744.4,544.55 L745.7,544.53 L747.0,544.52 L748.2,544.51 L749.5,544.50 L750.8,544.48 L752.1,544.47 L753.4,544.46 L754.6,544.44 L755.9,544.43 L757.2,544.42 L758.5,544.40 L759.8,544.39 L761.0,544.37 L762.3,544.35 L763.6,544.33 L764.9,544.30 L766.2,544.26 L767.4,544.22 L768.7,544.17 L770.0,544.10 L771.3,544.03 L772.6,543.95 L773.8,543.85 L775.1,543.75 L776.4,543.63 L777.7,543.51 L779.0,543.37 L780.2,543.23 L781.5,543.07 L782.8,542.90 L784.1,542.72 L785.3,542.52 L786.6,542.30 L787.9,542.04 L789.2,541.75 L790.5,541.41 L791.7,541.03 L793.0,540.59 L794.3,540.11 L795.6,539.59 L796.9,539.05 L798.1,538.49 L799.4,537.93 L800.7,537.36 L802.0,536.81 L803.3,536.26 L804.5,535.73 L805.8,535.21 L807.1,534.70 L808.4,534.20 L809.7,533.70 L810.9,533.22 L812.2,532.76 L813.5,532.30 L814.8,531.87 L816.1,531.46 L817.3,531.07 L818.6,530.70 L819.9,530.35 L821.2,530.02 L822.5,529.71 L823.7,529.41 L825.0,529.11 L826.3,528.82 L827.6,528.52 L828.9,528.21 L830.1,527.89 L831.4,527.56 L832.7,527.21 L834.0,526.84 L835.3,526.45 L836.5,526.04 L837.8,525.61 L839.1,525.16 L840.4,524.68 L841.7,524.18 L842.9,523.64 L844.2,523.07 L845.5,522.45 L846.8,521.80 L848.1,521.11 L849.3,520.37 L850.6,519.58 L851.9,518.74 L853.2,517.86 L854.5,516.92 L855.7,515.92 L857.0,514.86 L858.3,513.74 L859.6,512.55 L860.9,511.29 L862.1,509.97 L863.4,508.60 L864.7,507.17 L866.0,505.70 L867.3,504.18 L868.5,502.62 L869.8,501.03 L871.1,499.39 L872.4,497.72 L873.7,496.03 L874.9,494.33 L876.2,492.62 L877.5,490.93 L878.8,489.26 L880.1,487.62 L881.3,486.02 L882.6,484.47 L883.9,482.97 L885.2,481.53 L886.5,480.16 L887.7,478.87 L889.0,477.67 L890.3,476.57 L891.6,475.57 L892.9,474.69 L894.1,473.94 L895.4,473.34 L896.7,472.90 L898.0,472.64 L899.3,472.56 L900.5,472.67 L901.8,472.94 L903.1,473.38 L904.4,473.97 L905.7,474.71 L906.9,475.60 L908.2,476.65 L909.5,477.87 L910.8,479.25 L912.0,480.80 L913.3,482.51 L914.6,484.36 L915.9,486.33 L917.2,488.42 L918.4,490.62 L919.7,492.90 L921.0,495.26 L922.3,497.68 L923.6,500.15 L924.8,502.63 L926.1,505.12 L927.4,507.59 L928.7,510.03 L930.0,512.43 L931.2,514.77 L932.5,517.05 L933.8,519.25 L935.1,521.35 L936.4,523.36 L937.6,525.26 L938.9,527.06 L940.2,528.75 L941.5,530.34 L942.8,531.83 L944.0,533.21 L945.3,534.49 L946.6,535.67 L947.9,536.75 L949.2,537.73 L950.4,538.63 L951.7,539.45 L953.0,540.19 L954.3,540.87 L955.6,541.48 L956.8,542.04 L958.1,542.54 L959.4,542.99 L960.7,543.38 L962.0,543.72 L963.2,544.01 L964.5,544.26 L965.8,544.46 L967.1,544.63 L968.4,544.76 L969.6,544.86 L970.9,544.94 L972.2,545.00 L973.5,545.05 L974.8,545.08 L976.0,545.10 L977.3,545.12 L978.6,545.13 L979.9,545.15 L981.2,545.15 L982.4,545.16 L983.7,545.17 L985.0,545.18 L986.3,545.19 L987.6,545.19 L988.8,545.20 L990.1,545.21 L991.4,545.21 L992.7,545.22 L994.0,545.22 L995.2,545.23 L996.5,545.23 L997.8,545.24 L999.1,545.24 L1000.4,545.25 L1001.6,545.25 L1002.9,545.26 L1004.2,545.26 L1005.5,545.26 L1006.8,545.27 L1008.0,545.27 L1009.3,545.27 L1010.6,545.28 L1011.9,545.28 L1013.2,545.28 L1014.4,545.28 L1015.7,545.29 L1017.0,545.29 L1018.3,545.29 L1019.6,545.29 L1020.8,545.29 L1022.1,545.29 L1023.4,545.29 L1024.7,545.30 L1026.0,545.30 L1027.2,545.30 L1028.5,545.30 L1029.8,545.30 L1031.1,545.30 L1032.4,545.30 L1033.6,545.30 L1034.9,545.30 L1036.2,545.30 L1037.5,545.30 L1038.7,545.30 L1040.0,545.30 L1041.3,545.30 L1042.6,545.30 L1043.9,545.30 L1045.1,545.30 L1046.4,545.30 L1047.7,545.30 L1049.0,545.30 L1050.3,545.30 L1051.5,545.30 L1052.8,545.30 L1054.1,545.30 L1055.4,545.30 L1056.7,545.30 L1057.9,545.30 L1059.2,545.30 L1060.5,545.30 L1061.8,545.30 L1063.1,545.30 L1064.3,545.30 L1065.6,545.30 L1066.9,545.30 L1068.2,545.30 L1069.5,545.30 L1070.7,545.30 L1072.0,545.30 L1073.3,545.30 L1074.6,545.30 L1075.9,545.30 L1077.1,545.30 L1078.4,545.30 L1079.7,545.30 L1081.0,545.30 L1082.3,545.30 L1083.5,545.30 L1084.8,545.30 L1086.1,545.30 L1087.4,545.30 L1088.7,545.30 L1089.9,545.30 L1091.2,545.30 L1092.5,545.30 L1093.8,545.30 L1095.1,545.30 L1096.3,545.30 L1097.6,545.30 L1098.9,545.30 L1098.9,545.3 L332.3,545.3 Z" fill="#EE6677" stroke="none"/>
<path d="M332.3,545.30 L333.6,545.30 L334.9,545.30 L336.1,545.30 L337.4,545.30 L338.7,545.30 L340.0,545.30 L341.3,545.30 L342.5,545.30 L343.8,545.30 L345.1,545.30 L346.4,545.30 L347.7,545.30 L348.9,545.30 L350.2,545.30 L351.5,545.30 L352.8,545.30 L354.1,545.30 L355.3,545.30 L356.6,545.30 L357.9,545.30 L359.2,545.30 L360.5,545.30 L361.7,545.30 L363.0,545.30 L364.3,545.30 L365.6,545.30 L366.9,545.30 L368.1,545.30 L369.4,545.30 L370.7,545.30 L372.0,545.30 L373.3,545.30 L374.5,545.30 L375.8,545.30 L377.1,545.30 L378.4,545.30 L379.7,545.30 L380.9,545.30 L382.2,545.30 L383.5,545.30 L384.8,545.30 L386.1,545.30 L387.3,545.30 L388.6,545.30 L389.9,545.30 L391.2,545.30 L392.5,545.30 L393.7,545.30 L395.0,545.30 L396.3,545.30 L397.6,545.30 L398.8,545.30 L400.1,545.30 L401.4,545.30 L402.7,545.30 L404.0,545.30 L405.2,545.30 L406.5,545.30 L407.8,545.30 L409.1,545.30 L410.4,545.30 L411.6,545.30 L412.9,545.30 L414.2,545.30 L415.5,545.30 L416.8,545.30 L418.0,545.30 L419.3,545.30 L420.6,545.30 L421.9,545.30 L423.2,545.30 L424.4,545.30 L425.7,545.30 L427.0,545.30 L428.3,545.30 L429.6,545.30 L430.8,545.30 L432.1,545.30 L433.4,545.30 L434.7,545.30 L436.0,545.30 L437.2,545.30 L438.5,545.30 L439.8,545.30 L441.1,545.30 L442.4,545.30 L443.6,545.30 L444.9,545.30 L446.2,545.30 L447.5,545.30 L448.8,545.30 L450.0,545.30 L451.3,545.30 L452.6,545.30 L453.9,545.30 L455.2,545.30 L456.4,545.30 L457.7,545.30 L459.0,545.30 L460.3,545.30 L461.6,545.30 L462.8,545.30 L464.1,545.30 L465.4,545.30 L466.7,545.30 L468.0,545.30 L469.2,545.30 L470.5,545.30 L471.8,545.30 L473.1,545.30 L474.4,545.30 L475.6,545.30 L476.9,545.30 L478.2,545.30 L479.5,545.30 L480.8,545.30 L482.0,545.30 L483.3,545.30 L484.6,545.30 L485.9,545.30 L487.2,545.30 L488.4,545.30 L489.7,545.30 L491.0,545.30 L492.3,545.30 L493.6,545.30 L494.8,545.30 L496.1,545.30 L497.4,545.30 L498.7,545.30 L500.0,545.30 L501.2,545.30 L502.5,545.30 L503.8,545.30 L505.1,545.30 L506.4,545.30 L507.6,545.30 L508.9,545.30 L510.2,545.30 L511.5,545.30 L512.8,545.30 L514.0,545.30 L515.3,545.30 L516.6,545.30 L517.9,545.30 L519.2,545.30 L520.4,545.30 L521.7,545.30 L523.0,545.30 L524.3,545.30 L525.5,545.30 L526.8,545.30 L528.1,545.30 L529.4,545.30 L530.7,545.30 L531.9,545.30 L533.2,545.30 L534.5,545.30 L535.8,545.30 L537.1,545.30 L538.3,545.30 L539.6,545.30 L540.9,545.30 L542.2,545.30 L543.5,545.30 L544.7,545.30 L546.0,545.30 L547.3,545.30 L548.6,545.30 L549.9,545.30 L551.1,545.30 L552.4,545.30 L553.7,545.30 L555.0,545.30 L556.3,545.30 L557.5,545.30 L558.8,545.30 L560.1,545.30 L561.4,545.30 L562.7,545.30 L563.9,545.30 L565.2,545.30 L566.5,545.30 L567.8,545.30 L569.1,545.30 L570.3,545.29 L571.6,545.29 L572.9,545.29 L574.2,545.29 L575.5,545.29 L576.7,545.29 L578.0,545.29 L579.3,545.29 L580.6,545.29 L581.9,545.29 L583.1,545.29 L584.4,545.28 L585.7,545.28 L587.0,545.28 L588.3,545.28 L589.5,545.28 L590.8,545.28 L592.1,545.28 L593.4,545.28 L594.7,545.27 L595.9,545.27 L597.2,545.27 L598.5,545.27 L599.8,545.27 L601.1,545.26 L602.3,545.26 L603.6,545.26 L604.9,545.26 L606.2,545.26 L607.5,545.25 L608.7,545.25 L610.0,545.25 L611.3,545.25 L612.6,545.25 L613.9,545.24 L615.1,545.24 L616.4,545.24 L617.7,545.24 L619.0,545.23 L620.3,545.23 L621.5,545.23 L622.8,545.22 L624.1,545.22 L625.4,545.22 L626.7,545.21 L627.9,545.21 L629.2,545.21 L630.5,545.21 L631.8,545.20 L633.1,545.20 L634.3,545.19 L635.6,545.19 L636.9,545.19 L638.2,545.18 L639.5,545.18 L640.7,545.18 L642.0,545.17 L643.3,545.17 L644.6,545.16 L645.9,545.16 L647.1,545.16 L648.4,545.15 L649.7,545.15 L651.0,545.14 L652.2,545.14 L653.5,545.13 L654.8,545.13 L656.1,545.12 L657.4,545.12 L658.6,545.11 L659.9,545.11 L661.2,545.10 L662.5,545.10 L663.8,545.09 L665.0,545.09 L666.3,545.08 L667.6,545.07 L668.9,545.07 L670.2,545.06 L671.4,545.06 L672.7,545.05 L674.0,545.04 L675.3,545.04 L676.6,545.03 L677.8,545.03 L679.1,545.02 L680.4,545.01 L681.7,545.01 L683.0,545.00 L684.2,544.99 L685.5,544.99 L686.8,544.98 L688.1,544.97 L689.4,544.96 L690.6,544.96 L691.9,544.95 L693.2,544.94 L694.5,544.93 L695.8,544.93 L697.0,544.92 L698.3,544.91 L699.6,544.90 L700.9,544.89 L702.2,544.89 L703.4,544.88 L704.7,544.87 L706.0,544.86 L707.3,544.85 L708.6,544.84 L709.8,544.83 L711.1,544.82 L712.4,544.81 L713.7,544.81 L715.0,544.80 L716.2,544.79 L717.5,544.78 L718.8,544.77 L720.1,544.76 L721.4,544.75 L722.6,544.74 L723.9,544.73 L725.2,544.72 L726.5,544.71 L727.8,544.70 L729.0,544.68 L730.3,544.67 L731.6,544.66 L732.9,544.65 L734.2,544.64 L735.4,544.63 L736.7,544.62 L738.0,544.61 L739.3,544.59 L740.6,544.58 L741.8,544.57 L743.1,544.56 L744.4,544.55 L745.7,544.53 L747.0,544.52 L748.2,544.51 L749.5,544.50 L750.8,544.48 L752.1,544.47 L753.4,544.46 L754.6,544.44 L755.9,544.43 L757.2,544.42 L758.5,544.40 L759.8,544.39 L761.0,544.37 L762.3,544.35 L763.6,544.33 L764.9,544.30 L766.2,544.26 L767.4,544.22 L768.7,544.17 L770.0,544.10 L771.3,544.03 L772.6,543.95 L773.8,543.85 L775.1,543.75 L776.4,543.63 L777.7,543.51 L779.0,543.37 L780.2,543.23 L781.5,543.07 L782.8,542.90 L784.1,542.72 L785.3,542.52 L786.6,542.30 L787.9,542.04 L789.2,541.75 L790.5,541.41 L791.7,541.03 L793.0,540.59 L794.3,540.11 L795.6,539.59 L796.9,539.05 L798.1,538.49 L799.4,537.93 L800.7,537.36 L802.0,536.81 L803.3,536.26 L804.5,535.73 L805.8,535.21 L807.1,534.70 L808.4,534.20 L809.7,533.70 L810.9,533.22 L812.2,532.76 L813.5,532.30 L814.8,531.87 L816.1,531.46 L817.3,531.07 L818.6,530.70 L819.9,530.35 L821.2,530.02 L822.5,529.71 L823.7,529.41 L825.0,529.11 L826.3,528.82 L827.6,528.52 L828.9,528.21 L830.1,527.89 L831.4,527.56 L832.7,527.21 L834.0,526.84 L835.3,526.45 L836.5,526.04 L837.8,525.61 L839.1,525.16 L840.4,524.68 L841.7,524.18 L842.9,523.64 L844.2,523.07 L845.5,522.45 L846.8,521.80 L848.1,521.11 L849.3,520.37 L850.6,519.58 L851.9,518.74 L853.2,517.86 L854.5,516.92 L855.7,515.92 L857.0,514.86 L858.3,513.74 L859.6,512.55 L860.9,511.29 L862.1,509.97 L863.4,508.60 L864.7,507.17 L866.0,505.70 L867.3,504.18 L868.5,502.62 L869.8,501.03 L871.1,499.39 L872.4,497.72 L873.7,496.03 L874.9,494.33 L876.2,492.62 L877.5,490.93 L878.8,489.26 L880.1,487.62 L881.3,486.02 L882.6,484.47 L883.9,482.97 L885.2,481.53 L886.5,480.16 L887.7,478.87 L889.0,477.67 L890.3,476.57 L891.6,475.57 L892.9,474.69 L894.1,473.94 L895.4,473.34 L896.7,472.90 L898.0,472.64 L899.3,472.56 L900.5,472.67 L901.8,472.94 L903.1,473.38 L904.4,473.97 L905.7,474.71 L906.9,475.60 L908.2,476.65 L909.5,477.87 L910.8,479.25 L912.0,480.80 L913.3,482.51 L914.6,484.36 L915.9,486.33 L917.2,488.42 L918.4,490.62 L919.7,492.90 L921.0,495.26 L922.3,497.68 L923.6,500.15 L924.8,502.63 L926.1,505.12 L927.4,507.59 L928.7,510.03 L930.0,512.43 L931.2,514.77 L932.5,517.05 L933.8,519.25 L935.1,521.35 L936.4,523.36 L937.6,525.26 L938.9,527.06 L940.2,528.75 L941.5,530.34 L942.8,531.83 L944.0,533.21 L945.3,534.49 L946.6,535.67 L947.9,536.75 L949.2,537.73 L950.4,538.63 L951.7,539.45 L953.0,540.19 L954.3,540.87 L955.6,541.48 L956.8,542.04 L958.1,542.54 L959.4,542.99 L960.7,543.38 L962.0,543.72 L963.2,544.01 L964.5,544.26 L965.8,544.46 L967.1,544.63 L968.4,544.76 L969.6,544.86 L970.9,544.94 L972.2,545.00 L973.5,545.05 L974.8,545.08 L976.0,545.10 L977.3,545.12 L978.6,545.13 L979.9,545.15 L981.2,545.15 L982.4,545.16 L983.7,545.17 L985.0,545.18 L986.3,545.19 L987.6,545.19 L988.8,545.20 L990.1,545.21 L991.4,545.21 L992.7,545.22 L994.0,545.22 L995.2,545.23 L996.5,545.23 L997.8,545.24 L999.1,545.24 L1000.4,545.25 L1001.6,545.25 L1002.9,545.26 L1004.2,545.26 L1005.5,545.26 L1006.8,545.27 L1008.0,545.27 L1009.3,545.27 L1010.6,545.28 L1011.9,545.28 L1013.2,545.28 L1014.4,545.28 L1015.7,545.29 L1017.0,545.29 L1018.3,545.29 L1019.6,545.29 L1020.8,545.29 L1022.1,545.29 L1023.4,545.29 L1024.7,545.30 L1026.0,545.30 L1027.2,545.30 L1028.5,545.30 L1029.8,545.30 L1031.1,545.30 L1032.4,545.30 L1033.6,545.30 L1034.9,545.30 L1036.2,545.30 L1037.5,545.30 L1038.7,545.30 L1040.0,545.30 L1041.3,545.30 L1042.6,545.30 L1043.9,545.30 L1045.1,545.30 L1046.4,545.30 L1047.7,545.30 L1049.0,545.30 L1050.3,545.30 L1051.5,545.30 L1052.8,545.30 L1054.1,545.30 L1055.4,545.30 L1056.7,545.30 L1057.9,545.30 L1059.2,545.30 L1060.5,545.30 L1061.8,545.30 L1063.1,545.30 L1064.3,545.30 L1065.6,545.30 L1066.9,545.30 L1068.2,545.30 L1069.5,545.30 L1070.7,545.30 L1072.0,545.30 L1073.3,545.30 L1074.6,545.30 L1075.9,545.30 L1077.1,545.30 L1078.4,545.30 L1079.7,545.30 L1081.0,545.30 L1082.3,545.30 L1083.5,545.30 L1084.8,545.30 L1086.1,545.30 L1087.4,545.30 L1088.7,545.30 L1089.9,545.30 L1091.2,545.30 L1092.5,545.30 L1093.8,545.30 L1095.1,545.30 L1096.3,545.30 L1097.6,545.30 L1098.9,545.30" fill="none" stroke="#000" stroke-width="2.85" stroke-linejoin="round" stroke-linecap="butt"/>
<line x1="332.3" x2="1098.9" y1="545.3" y2="545.3" stroke="#000" stroke-width="2.6" stroke-linecap="round"/>
<g fill="#EE6677">
<circle cx="809.2" cy="580.1" r="2.8"/><circle cx="822.5" cy="575.0" r="2.8"/><circle cx="820.8" cy="583.6" r="2.8"/><circle cx="842.1" cy="583.9" r="2.8"/><circle cx="843.1" cy="587.4" r="2.8"/><circle cx="832.5" cy="595.0" r="2.8"/><circle cx="813.9" cy="606.9" r="2.8"/><circle cx="850.6" cy="602.4" r="2.8"/><circle cx="862.4" cy="571.1" r="2.8"/><circle cx="865.4" cy="580.8" r="2.8"/><circle cx="861.7" cy="586.1" r="2.8"/><circle cx="871.0" cy="584.7" r="2.8"/><circle cx="874.4" cy="590.6" r="2.8"/><circle cx="879.3" cy="573.2" r="2.8"/><circle cx="880.3" cy="590.8" r="2.8"/><circle cx="880.6" cy="596.5" r="2.8"/><circle cx="880.7" cy="603.8" r="2.8"/><circle cx="890.0" cy="574.2" r="2.8"/><circle cx="896.5" cy="573.5" r="2.8"/><circle cx="887.5" cy="583.2" r="2.8"/><circle cx="886.8" cy="589.4" r="2.8"/><circle cx="888.9" cy="593.3" r="2.8"/><circle cx="889.4" cy="599.6" r="2.8"/><circle cx="891.4" cy="606.1" r="2.8"/><circle cx="898.2" cy="580.6" r="2.8"/><circle cx="901.8" cy="587.4" r="2.8"/><circle cx="900.7" cy="591.2" r="2.8"/><circle cx="896.2" cy="595.4" r="2.8"/><circle cx="899.7" cy="596.4" r="2.8"/><circle cx="902.2" cy="595.8" r="2.8"/><circle cx="895.8" cy="600.0" r="2.8"/><circle cx="899.7" cy="599.6" r="2.8"/><circle cx="907.4" cy="597.8" r="2.8"/><circle cx="909.4" cy="601.0" r="2.8"/><circle cx="906.4" cy="603.8" r="2.8"/><circle cx="903.2" cy="605.8" r="2.8"/><circle cx="901.8" cy="607.2" r="2.8"/><circle cx="903.6" cy="611.4" r="2.8"/><circle cx="909.2" cy="611.0" r="2.8"/><circle cx="913.6" cy="606.9" r="2.8"/><circle cx="909.4" cy="579.4" r="2.8"/><circle cx="916.7" cy="578.3" r="2.8"/><circle cx="915.4" cy="591.9" r="2.8"/><circle cx="922.9" cy="591.7" r="2.8"/><circle cx="927.9" cy="594.0" r="2.8"/><circle cx="919.2" cy="612.8" r="2.8"/><circle cx="922.9" cy="613.2" r="2.8"/><circle cx="809.4" cy="627.2" r="2.8"/><circle cx="823.3" cy="617.2" r="2.8"/><circle cx="827.2" cy="620.8" r="2.8"/><circle cx="825.6" cy="625.8" r="2.8"/><circle cx="832.2" cy="627.4" r="2.8"/><circle cx="840.7" cy="618.3" r="2.8"/><circle cx="850.8" cy="628.1" r="2.8"/><circle cx="848.1" cy="639.3" r="2.8"/><circle cx="857.4" cy="628.5" r="2.8"/><circle cx="858.8" cy="631.1" r="2.8"/><circle cx="868.2" cy="617.6" r="2.8"/><circle cx="872.4" cy="623.2" r="2.8"/><circle cx="873.3" cy="624.9" r="2.8"/><circle cx="868.6" cy="626.4" r="2.8"/><circle cx="870.4" cy="640.1" r="2.8"/><circle cx="878.5" cy="627.8" r="2.8"/><circle cx="883.3" cy="628.1" r="2.8"/><circle cx="886.5" cy="621.2" r="2.8"/><circle cx="885.8" cy="629.0" r="2.8"/><circle cx="886.5" cy="631.9" r="2.8"/><circle cx="883.5" cy="634.4" r="2.8"/><circle cx="890.7" cy="624.7" r="2.8"/><circle cx="893.5" cy="626.0" r="2.8"/><circle cx="896.2" cy="624.2" r="2.8"/><circle cx="897.6" cy="631.5" r="2.8"/><circle cx="900.4" cy="625.3" r="2.8"/><circle cx="905.3" cy="624.4" r="2.8"/><circle cx="906.1" cy="616.9" r="2.8"/><circle cx="908.8" cy="618.3" r="2.8"/><circle cx="910.8" cy="617.2" r="2.8"/><circle cx="911.9" cy="620.7" r="2.8"/><circle cx="918.5" cy="621.4" r="2.8"/><circle cx="925.4" cy="620.3" r="2.8"/><circle cx="917.5" cy="627.2" r="2.8"/><circle cx="926.4" cy="628.2" r="2.8"/><circle cx="911.9" cy="632.9" r="2.8"/><circle cx="912.5" cy="638.6" r="2.8"/><circle cx="907.5" cy="641.8" r="2.8"/><circle cx="900.4" cy="637.9" r="2.8"/><circle cx="892.2" cy="637.2" r="2.8"/><circle cx="889.0" cy="644.7" r="2.8"/><circle cx="887.9" cy="646.8" r="2.8"/><circle cx="890.3" cy="646.4" r="2.8"/><circle cx="929.6" cy="645.3" r="2.8"/><circle cx="937.2" cy="638.9" r="2.8"/>
</g>
<path d="M332.3,757.60 L333.6,757.60 L334.9,757.60 L336.1,757.60 L337.4,757.60 L338.7,757.60 L340.0,757.60 L341.3,757.60 L342.5,757.60 L343.8,757.60 L345.1,757.60 L346.4,757.60 L347.7,757.60 L348.9,757.60 L350.2,757.60 L351.5,757.60 L352.8,757.60 L354.1,757.60 L355.3,757.60 L356.6,757.60 L357.9,757.60 L359.2,757.60 L360.5,757.60 L361.7,757.60 L363.0,757.60 L364.3,757.60 L365.6,757.60 L366.9,757.60 L368.1,757.60 L369.4,757.60 L370.7,757.60 L372.0,757.60 L373.3,757.60 L374.5,757.60 L375.8,757.60 L377.1,757.60 L378.4,757.60 L379.7,757.60 L380.9,757.60 L382.2,757.60 L383.5,757.60 L384.8,757.60 L386.1,757.60 L387.3,757.60 L388.6,757.60 L389.9,757.60 L391.2,757.60 L392.5,757.60 L393.7,757.60 L395.0,757.60 L396.3,757.60 L397.6,757.60 L398.8,757.60 L400.1,757.60 L401.4,757.60 L402.7,757.60 L404.0,757.60 L405.2,757.60 L406.5,757.60 L407.8,757.60 L409.1,757.60 L410.4,757.60 L411.6,757.60 L412.9,757.60 L414.2,757.60 L415.5,757.60 L416.8,757.60 L418.0,757.60 L419.3,757.60 L420.6,757.60 L421.9,757.60 L423.2,757.60 L424.4,757.60 L425.7,757.60 L427.0,757.60 L428.3,757.60 L429.6,757.60 L430.8,757.60 L432.1,757.60 L433.4,757.60 L434.7,757.60 L436.0,757.60 L437.2,757.60 L438.5,757.60 L439.8,757.60 L441.1,757.60 L442.4,757.60 L443.6,757.60 L444.9,757.60 L446.2,757.60 L447.5,757.60 L448.8,757.60 L450.0,757.60 L451.3,757.60 L452.6,757.60 L453.9,757.60 L455.2,757.60 L456.4,757.60 L457.7,757.60 L459.0,757.60 L460.3,757.60 L461.6,757.60 L462.8,757.60 L464.1,757.60 L465.4,757.60 L466.7,757.60 L468.0,757.60 L469.2,757.60 L470.5,757.60 L471.8,757.60 L473.1,757.60 L474.4,757.60 L475.6,757.60 L476.9,757.60 L478.2,757.60 L479.5,757.60 L480.8,757.60 L482.0,757.60 L483.3,757.60 L484.6,757.60 L485.9,757.60 L487.2,757.60 L488.4,757.60 L489.7,757.60 L491.0,757.60 L492.3,757.60 L493.6,757.60 L494.8,757.60 L496.1,757.60 L497.4,757.60 L498.7,757.60 L500.0,757.60 L501.2,757.60 L502.5,757.60 L503.8,757.60 L505.1,757.60 L506.4,757.60 L507.6,757.60 L508.9,757.60 L510.2,757.60 L511.5,757.60 L512.8,757.60 L514.0,757.60 L515.3,757.60 L516.6,757.60 L517.9,757.60 L519.2,757.60 L520.4,757.60 L521.7,757.60 L523.0,757.60 L524.3,757.60 L525.5,757.60 L526.8,757.60 L528.1,757.60 L529.4,757.60 L530.7,757.60 L531.9,757.60 L533.2,757.60 L534.5,757.60 L535.8,757.60 L537.1,757.60 L538.3,757.60 L539.6,757.60 L540.9,757.60 L542.2,757.60 L543.5,757.60 L544.7,757.60 L546.0,757.60 L547.3,757.60 L548.6,757.60 L549.9,757.60 L551.1,757.60 L552.4,757.60 L553.7,757.60 L555.0,757.60 L556.3,757.60 L557.5,757.60 L558.8,757.60 L560.1,757.60 L561.4,757.60 L562.7,757.60 L563.9,757.60 L565.2,757.60 L566.5,757.60 L567.8,757.60 L569.1,757.60 L570.3,757.60 L571.6,757.60 L572.9,757.60 L574.2,757.60 L575.5,757.60 L576.7,757.60 L578.0,757.60 L579.3,757.60 L580.6,757.60 L581.9,757.60 L583.1,757.60 L584.4,757.60 L585.7,757.60 L587.0,757.60 L588.3,757.60 L589.5,757.60 L590.8,757.60 L592.1,757.60 L593.4,757.60 L594.7,757.60 L595.9,757.60 L597.2,757.60 L598.5,757.60 L599.8,757.60 L601.1,757.60 L602.3,757.60 L603.6,757.60 L604.9,757.60 L606.2,757.59 L607.5,757.59 L608.7,757.59 L610.0,757.59 L611.3,757.59 L612.6,757.59 L613.9,757.59 L615.1,757.59 L616.4,757.59 L617.7,757.59 L619.0,757.59 L620.3,757.59 L621.5,757.59 L622.8,757.59 L624.1,757.59 L625.4,757.58 L626.7,757.58 L627.9,757.58 L629.2,757.58 L630.5,757.58 L631.8,757.58 L633.1,757.58 L634.3,757.58 L635.6,757.58 L636.9,757.58 L638.2,757.57 L639.5,757.57 L640.7,757.57 L642.0,757.57 L643.3,757.57 L644.6,757.57 L645.9,757.57 L647.1,757.57 L648.4,757.56 L649.7,757.56 L651.0,757.56 L652.2,757.56 L653.5,757.56 L654.8,757.56 L656.1,757.55 L657.4,757.55 L658.6,757.55 L659.9,757.55 L661.2,757.55 L662.5,757.54 L663.8,757.54 L665.0,757.54 L666.3,757.54 L667.6,757.54 L668.9,757.53 L670.2,757.53 L671.4,757.53 L672.7,757.53 L674.0,757.53 L675.3,757.52 L676.6,757.52 L677.8,757.52 L679.1,757.52 L680.4,757.51 L681.7,757.51 L683.0,757.51 L684.2,757.50 L685.5,757.50 L686.8,757.50 L688.1,757.50 L689.4,757.49 L690.6,757.49 L691.9,757.49 L693.2,757.48 L694.5,757.48 L695.8,757.48 L697.0,757.47 L698.3,757.47 L699.6,757.47 L700.9,757.46 L702.2,757.46 L703.4,757.46 L704.7,757.45 L706.0,757.45 L707.3,757.45 L708.6,757.44 L709.8,757.44 L711.1,757.44 L712.4,757.43 L713.7,757.43 L715.0,757.42 L716.2,757.42 L717.5,757.42 L718.8,757.41 L720.1,757.41 L721.4,757.40 L722.6,757.40 L723.9,757.39 L725.2,757.39 L726.5,757.38 L727.8,757.38 L729.0,757.38 L730.3,757.37 L731.6,757.37 L732.9,757.36 L734.2,757.36 L735.4,757.35 L736.7,757.35 L738.0,757.34 L739.3,757.34 L740.6,757.33 L741.8,757.32 L743.1,757.32 L744.4,757.31 L745.7,757.31 L747.0,757.30 L748.2,757.30 L749.5,757.29 L750.8,757.29 L752.1,757.28 L753.4,757.27 L754.6,757.27 L755.9,757.26 L757.2,757.25 L758.5,757.25 L759.8,757.24 L761.0,757.24 L762.3,757.23 L763.6,757.22 L764.9,757.22 L766.2,757.21 L767.4,757.20 L768.7,757.20 L770.0,757.19 L771.3,757.18 L772.6,757.17 L773.8,757.17 L775.1,757.16 L776.4,757.15 L777.7,757.14 L779.0,757.14 L780.2,757.13 L781.5,757.12 L782.8,757.11 L784.1,757.11 L785.3,757.10 L786.6,757.09 L787.9,757.08 L789.2,757.07 L790.5,757.07 L791.7,757.06 L793.0,757.05 L794.3,757.04 L795.6,757.03 L796.9,757.02 L798.1,757.01 L799.4,757.01 L800.7,757.00 L802.0,756.99 L803.3,756.98 L804.5,756.97 L805.8,756.96 L807.1,756.95 L808.4,756.94 L809.7,756.93 L810.9,756.92 L812.2,756.91 L813.5,756.90 L814.8,756.89 L816.1,756.87 L817.3,756.85 L818.6,756.83 L819.9,756.80 L821.2,756.76 L822.5,756.71 L823.7,756.64 L825.0,756.56 L826.3,756.47 L827.6,756.37 L828.9,756.25 L830.1,756.13 L831.4,755.99 L832.7,755.84 L834.0,755.69 L835.3,755.52 L836.5,755.34 L837.8,755.15 L839.1,754.93 L840.4,754.70 L841.7,754.44 L842.9,754.16 L844.2,753.84 L845.5,753.49 L846.8,753.09 L848.1,752.65 L849.3,752.15 L850.6,751.60 L851.9,750.97 L853.2,750.29 L854.5,749.55 L855.7,748.75 L857.0,747.90 L858.3,747.00 L859.6,746.06 L860.9,745.08 L862.1,744.05 L863.4,742.98 L864.7,741.87 L866.0,740.72 L867.3,739.54 L868.5,738.32 L869.8,737.07 L871.1,735.81 L872.4,734.52 L873.7,733.21 L874.9,731.89 L876.2,730.56 L877.5,729.21 L878.8,727.86 L880.1,726.51 L881.3,725.16 L882.6,723.83 L883.9,722.52 L885.2,721.22 L886.5,719.95 L887.7,718.70 L889.0,717.48 L890.3,716.28 L891.6,715.11 L892.9,713.97 L894.1,712.87 L895.4,711.81 L896.7,710.79 L898.0,709.82 L899.3,708.89 L900.5,708.00 L901.8,707.16 L903.1,706.37 L904.4,705.63 L905.7,704.95 L906.9,704.32 L908.2,703.74 L909.5,703.21 L910.8,702.72 L912.0,702.27 L913.3,701.85 L914.6,701.47 L915.9,701.11 L917.2,700.78 L918.4,700.47 L919.7,700.18 L921.0,699.91 L922.3,699.66 L923.6,699.42 L924.8,699.20 L926.1,699.00 L927.4,698.81 L928.7,698.64 L930.0,698.49 L931.2,698.37 L932.5,698.28 L933.8,698.24 L935.1,698.23 L936.4,698.28 L937.6,698.37 L938.9,698.51 L940.2,698.71 L941.5,698.96 L942.8,699.26 L944.0,699.62 L945.3,700.05 L946.6,700.55 L947.9,701.12 L949.2,701.76 L950.4,702.49 L951.7,703.30 L953.0,704.21 L954.3,705.20 L955.6,706.29 L956.8,707.47 L958.1,708.74 L959.4,710.08 L960.7,711.50 L962.0,712.97 L963.2,714.48 L964.5,716.04 L965.8,717.63 L967.1,719.25 L968.4,720.88 L969.6,722.50 L970.9,724.12 L972.2,725.72 L973.5,727.28 L974.8,728.82 L976.0,730.32 L977.3,731.78 L978.6,733.21 L979.9,734.60 L981.2,735.95 L982.4,737.26 L983.7,738.53 L985.0,739.76 L986.3,740.95 L987.6,742.09 L988.8,743.17 L990.1,744.20 L991.4,745.18 L992.7,746.09 L994.0,746.96 L995.2,747.77 L996.5,748.53 L997.8,749.25 L999.1,749.93 L1000.4,750.57 L1001.6,751.17 L1002.9,751.74 L1004.2,752.28 L1005.5,752.78 L1006.8,753.25 L1008.0,753.67 L1009.3,754.06 L1010.6,754.41 L1011.9,754.72 L1013.2,754.99 L1014.4,755.24 L1015.7,755.45 L1017.0,755.64 L1018.3,755.81 L1019.6,755.96 L1020.8,756.09 L1022.1,756.21 L1023.4,756.31 L1024.7,756.40 L1026.0,756.47 L1027.2,756.54 L1028.5,756.60 L1029.8,756.65 L1031.1,756.70 L1032.4,756.75 L1033.6,756.79 L1034.9,756.83 L1036.2,756.87 L1037.5,756.91 L1038.7,756.94 L1040.0,756.97 L1041.3,757.01 L1042.6,757.04 L1043.9,757.07 L1045.1,757.11 L1046.4,757.14 L1047.7,757.18 L1049.0,757.21 L1050.3,757.24 L1051.5,757.28 L1052.8,757.31 L1054.1,757.34 L1055.4,757.37 L1056.7,757.40 L1057.9,757.43 L1059.2,757.46 L1060.5,757.49 L1061.8,757.51 L1063.1,757.53 L1064.3,757.55 L1065.6,757.56 L1066.9,757.58 L1068.2,757.59 L1069.5,757.59 L1070.7,757.60 L1072.0,757.60 L1073.3,757.60 L1074.6,757.60 L1075.9,757.60 L1077.1,757.60 L1078.4,757.60 L1079.7,757.60 L1081.0,757.60 L1082.3,757.60 L1083.5,757.60 L1084.8,757.60 L1086.1,757.60 L1087.4,757.60 L1088.7,757.60 L1089.9,757.60 L1091.2,757.60 L1092.5,757.60 L1093.8,757.60 L1095.1,757.60 L1096.3,757.60 L1097.6,757.60 L1098.9,757.60 L1098.9,757.6 L332.3,757.6 Z" fill="#228833" stroke="none"/>
<path d="M332.3,757.60 L333.6,757.60 L334.9,757.60 L336.1,757.60 L337.4,757.60 L338.7,757.60 L340.0,757.60 L341.3,757.60 L342.5,757.60 L343.8,757.60 L345.1,757.60 L346.4,757.60 L347.7,757.60 L348.9,757.60 L350.2,757.60 L351.5,757.60 L352.8,757.60 L354.1,757.60 L355.3,757.60 L356.6,757.60 L357.9,757.60 L359.2,757.60 L360.5,757.60 L361.7,757.60 L363.0,757.60 L364.3,757.60 L365.6,757.60 L366.9,757.60 L368.1,757.60 L369.4,757.60 L370.7,757.60 L372.0,757.60 L373.3,757.60 L374.5,757.60 L375.8,757.60 L377.1,757.60 L378.4,757.60 L379.7,757.60 L380.9,757.60 L382.2,757.60 L383.5,757.60 L384.8,757.60 L386.1,757.60 L387.3,757.60 L388.6,757.60 L389.9,757.60 L391.2,757.60 L392.5,757.60 L393.7,757.60 L395.0,757.60 L396.3,757.60 L397.6,757.60 L398.8,757.60 L400.1,757.60 L401.4,757.60 L402.7,757.60 L404.0,757.60 L405.2,757.60 L406.5,757.60 L407.8,757.60 L409.1,757.60 L410.4,757.60 L411.6,757.60 L412.9,757.60 L414.2,757.60 L415.5,757.60 L416.8,757.60 L418.0,757.60 L419.3,757.60 L420.6,757.60 L421.9,757.60 L423.2,757.60 L424.4,757.60 L425.7,757.60 L427.0,757.60 L428.3,757.60 L429.6,757.60 L430.8,757.60 L432.1,757.60 L433.4,757.60 L434.7,757.60 L436.0,757.60 L437.2,757.60 L438.5,757.60 L439.8,757.60 L441.1,757.60 L442.4,757.60 L443.6,757.60 L444.9,757.60 L446.2,757.60 L447.5,757.60 L448.8,757.60 L450.0,757.60 L451.3,757.60 L452.6,757.60 L453.9,757.60 L455.2,757.60 L456.4,757.60 L457.7,757.60 L459.0,757.60 L460.3,757.60 L461.6,757.60 L462.8,757.60 L464.1,757.60 L465.4,757.60 L466.7,757.60 L468.0,757.60 L469.2,757.60 L470.5,757.60 L471.8,757.60 L473.1,757.60 L474.4,757.60 L475.6,757.60 L476.9,757.60 L478.2,757.60 L479.5,757.60 L480.8,757.60 L482.0,757.60 L483.3,757.60 L484.6,757.60 L485.9,757.60 L487.2,757.60 L488.4,757.60 L489.7,757.60 L491.0,757.60 L492.3,757.60 L493.6,757.60 L494.8,757.60 L496.1,757.60 L497.4,757.60 L498.7,757.60 L500.0,757.60 L501.2,757.60 L502.5,757.60 L503.8,757.60 L505.1,757.60 L506.4,757.60 L507.6,757.60 L508.9,757.60 L510.2,757.60 L511.5,757.60 L512.8,757.60 L514.0,757.60 L515.3,757.60 L516.6,757.60 L517.9,757.60 L519.2,757.60 L520.4,757.60 L521.7,757.60 L523.0,757.60 L524.3,757.60 L525.5,757.60 L526.8,757.60 L528.1,757.60 L529.4,757.60 L530.7,757.60 L531.9,757.60 L533.2,757.60 L534.5,757.60 L535.8,757.60 L537.1,757.60 L538.3,757.60 L539.6,757.60 L540.9,757.60 L542.2,757.60 L543.5,757.60 L544.7,757.60 L546.0,757.60 L547.3,757.60 L548.6,757.60 L549.9,757.60 L551.1,757.60 L552.4,757.60 L553.7,757.60 L555.0,757.60 L556.3,757.60 L557.5,757.60 L558.8,757.60 L560.1,757.60 L561.4,757.60 L562.7,757.60 L563.9,757.60 L565.2,757.60 L566.5,757.60 L567.8,757.60 L569.1,757.60 L570.3,757.60 L571.6,757.60 L572.9,757.60 L574.2,757.60 L575.5,757.60 L576.7,757.60 L578.0,757.60 L579.3,757.60 L580.6,757.60 L581.9,757.60 L583.1,757.60 L584.4,757.60 L585.7,757.60 L587.0,757.60 L588.3,757.60 L589.5,757.60 L590.8,757.60 L592.1,757.60 L593.4,757.60 L594.7,757.60 L595.9,757.60 L597.2,757.60 L598.5,757.60 L599.8,757.60 L601.1,757.60 L602.3,757.60 L603.6,757.60 L604.9,757.60 L606.2,757.59 L607.5,757.59 L608.7,757.59 L610.0,757.59 L611.3,757.59 L612.6,757.59 L613.9,757.59 L615.1,757.59 L616.4,757.59 L617.7,757.59 L619.0,757.59 L620.3,757.59 L621.5,757.59 L622.8,757.59 L624.1,757.59 L625.4,757.58 L626.7,757.58 L627.9,757.58 L629.2,757.58 L630.5,757.58 L631.8,757.58 L633.1,757.58 L634.3,757.58 L635.6,757.58 L636.9,757.58 L638.2,757.57 L639.5,757.57 L640.7,757.57 L642.0,757.57 L643.3,757.57 L644.6,757.57 L645.9,757.57 L647.1,757.57 L648.4,757.56 L649.7,757.56 L651.0,757.56 L652.2,757.56 L653.5,757.56 L654.8,757.56 L656.1,757.55 L657.4,757.55 L658.6,757.55 L659.9,757.55 L661.2,757.55 L662.5,757.54 L663.8,757.54 L665.0,757.54 L666.3,757.54 L667.6,757.54 L668.9,757.53 L670.2,757.53 L671.4,757.53 L672.7,757.53 L674.0,757.53 L675.3,757.52 L676.6,757.52 L677.8,757.52 L679.1,757.52 L680.4,757.51 L681.7,757.51 L683.0,757.51 L684.2,757.50 L685.5,757.50 L686.8,757.50 L688.1,757.50 L689.4,757.49 L690.6,757.49 L691.9,757.49 L693.2,757.48 L694.5,757.48 L695.8,757.48 L697.0,757.47 L698.3,757.47 L699.6,757.47 L700.9,757.46 L702.2,757.46 L703.4,757.46 L704.7,757.45 L706.0,757.45 L707.3,757.45 L708.6,757.44 L709.8,757.44 L711.1,757.44 L712.4,757.43 L713.7,757.43 L715.0,757.42 L716.2,757.42 L717.5,757.42 L718.8,757.41 L720.1,757.41 L721.4,757.40 L722.6,757.40 L723.9,757.39 L725.2,757.39 L726.5,757.38 L727.8,757.38 L729.0,757.38 L730.3,757.37 L731.6,757.37 L732.9,757.36 L734.2,757.36 L735.4,757.35 L736.7,757.35 L738.0,757.34 L739.3,757.34 L740.6,757.33 L741.8,757.32 L743.1,757.32 L744.4,757.31 L745.7,757.31 L747.0,757.30 L748.2,757.30 L749.5,757.29 L750.8,757.29 L752.1,757.28 L753.4,757.27 L754.6,757.27 L755.9,757.26 L757.2,757.25 L758.5,757.25 L759.8,757.24 L761.0,757.24 L762.3,757.23 L763.6,757.22 L764.9,757.22 L766.2,757.21 L767.4,757.20 L768.7,757.20 L770.0,757.19 L771.3,757.18 L772.6,757.17 L773.8,757.17 L775.1,757.16 L776.4,757.15 L777.7,757.14 L779.0,757.14 L780.2,757.13 L781.5,757.12 L782.8,757.11 L784.1,757.11 L785.3,757.10 L786.6,757.09 L787.9,757.08 L789.2,757.07 L790.5,757.07 L791.7,757.06 L793.0,757.05 L794.3,757.04 L795.6,757.03 L796.9,757.02 L798.1,757.01 L799.4,757.01 L800.7,757.00 L802.0,756.99 L803.3,756.98 L804.5,756.97 L805.8,756.96 L807.1,756.95 L808.4,756.94 L809.7,756.93 L810.9,756.92 L812.2,756.91 L813.5,756.90 L814.8,756.89 L816.1,756.87 L817.3,756.85 L818.6,756.83 L819.9,756.80 L821.2,756.76 L822.5,756.71 L823.7,756.64 L825.0,756.56 L826.3,756.47 L827.6,756.37 L828.9,756.25 L830.1,756.13 L831.4,755.99 L832.7,755.84 L834.0,755.69 L835.3,755.52 L836.5,755.34 L837.8,755.15 L839.1,754.93 L840.4,754.70 L841.7,754.44 L842.9,754.16 L844.2,753.84 L845.5,753.49 L846.8,753.09 L848.1,752.65 L849.3,752.15 L850.6,751.60 L851.9,750.97 L853.2,750.29 L854.5,749.55 L855.7,748.75 L857.0,747.90 L858.3,747.00 L859.6,746.06 L860.9,745.08 L862.1,744.05 L863.4,742.98 L864.7,741.87 L866.0,740.72 L867.3,739.54 L868.5,738.32 L869.8,737.07 L871.1,735.81 L872.4,734.52 L873.7,733.21 L874.9,731.89 L876.2,730.56 L877.5,729.21 L878.8,727.86 L880.1,726.51 L881.3,725.16 L882.6,723.83 L883.9,722.52 L885.2,721.22 L886.5,719.95 L887.7,718.70 L889.0,717.48 L890.3,716.28 L891.6,715.11 L892.9,713.97 L894.1,712.87 L895.4,711.81 L896.7,710.79 L898.0,709.82 L899.3,708.89 L900.5,708.00 L901.8,707.16 L903.1,706.37 L904.4,705.63 L905.7,704.95 L906.9,704.32 L908.2,703.74 L909.5,703.21 L910.8,702.72 L912.0,702.27 L913.3,701.85 L914.6,701.47 L915.9,701.11 L917.2,700.78 L918.4,700.47 L919.7,700.18 L921.0,699.91 L922.3,699.66 L923.6,699.42 L924.8,699.20 L926.1,699.00 L927.4,698.81 L928.7,698.64 L930.0,698.49 L931.2,698.37 L932.5,698.28 L933.8,698.24 L935.1,698.23 L936.4,698.28 L937.6,698.37 L938.9,698.51 L940.2,698.71 L941.5,698.96 L942.8,699.26 L944.0,699.62 L945.3,700.05 L946.6,700.55 L947.9,701.12 L949.2,701.76 L950.4,702.49 L951.7,703.30 L953.0,704.21 L954.3,705.20 L955.6,706.29 L956.8,707.47 L958.1,708.74 L959.4,710.08 L960.7,711.50 L962.0,712.97 L963.2,714.48 L964.5,716.04 L965.8,717.63 L967.1,719.25 L968.4,720.88 L969.6,722.50 L970.9,724.12 L972.2,725.72 L973.5,727.28 L974.8,728.82 L976.0,730.32 L977.3,731.78 L978.6,733.21 L979.9,734.60 L981.2,735.95 L982.4,737.26 L983.7,738.53 L985.0,739.76 L986.3,740.95 L987.6,742.09 L988.8,743.17 L990.1,744.20 L991.4,745.18 L992.7,746.09 L994.0,746.96 L995.2,747.77 L996.5,748.53 L997.8,749.25 L999.1,749.93 L1000.4,750.57 L1001.6,751.17 L1002.9,751.74 L1004.2,752.28 L1005.5,752.78 L1006.8,753.25 L1008.0,753.67 L1009.3,754.06 L1010.6,754.41 L1011.9,754.72 L1013.2,754.99 L1014.4,755.24 L1015.7,755.45 L1017.0,755.64 L1018.3,755.81 L1019.6,755.96 L1020.8,756.09 L1022.1,756.21 L1023.4,756.31 L1024.7,756.40 L1026.0,756.47 L1027.2,756.54 L1028.5,756.60 L1029.8,756.65 L1031.1,756.70 L1032.4,756.75 L1033.6,756.79 L1034.9,756.83 L1036.2,756.87 L1037.5,756.91 L1038.7,756.94 L1040.0,756.97 L1041.3,757.01 L1042.6,757.04 L1043.9,757.07 L1045.1,757.11 L1046.4,757.14 L1047.7,757.18 L1049.0,757.21 L1050.3,757.24 L1051.5,757.28 L1052.8,757.31 L1054.1,757.34 L1055.4,757.37 L1056.7,757.40 L1057.9,757.43 L1059.2,757.46 L1060.5,757.49 L1061.8,757.51 L1063.1,757.53 L1064.3,757.55 L1065.6,757.56 L1066.9,757.58 L1068.2,757.59 L1069.5,757.59 L1070.7,757.60 L1072.0,757.60 L1073.3,757.60 L1074.6,757.60 L1075.9,757.60 L1077.1,757.60 L1078.4,757.60 L1079.7,757.60 L1081.0,757.60 L1082.3,757.60 L1083.5,757.60 L1084.8,757.60 L1086.1,757.60 L1087.4,757.60 L1088.7,757.60 L1089.9,757.60 L1091.2,757.60 L1092.5,757.60 L1093.8,757.60 L1095.1,757.60 L1096.3,757.60 L1097.6,757.60 L1098.9,757.60" fill="none" stroke="#000" stroke-width="2.85" stroke-linejoin="round" stroke-linecap="butt"/>
<line x1="332.3" x2="1098.9" y1="757.6" y2="757.6" stroke="#000" stroke-width="2.6" stroke-linecap="round"/>
<g fill="#228833">
<circle cx="879.5" cy="785.6" r="2.8"/><circle cx="906.2" cy="783.0" r="2.8"/><circle cx="904.9" cy="785.4" r="2.8"/><circle cx="907.5" cy="786.7" r="2.8"/><circle cx="945.3" cy="784.3" r="2.8"/><circle cx="928.1" cy="787.3" r="2.8"/><circle cx="957.7" cy="787.6" r="2.8"/><circle cx="956.1" cy="791.5" r="2.8"/><circle cx="916.0" cy="792.4" r="2.8"/><circle cx="903.6" cy="793.8" r="2.8"/><circle cx="929.0" cy="792.8" r="2.8"/><circle cx="944.4" cy="793.4" r="2.8"/><circle cx="944.4" cy="796.7" r="2.8"/><circle cx="969.8" cy="794.3" r="2.8"/><circle cx="962.5" cy="796.0" r="2.8"/><circle cx="984.1" cy="796.4" r="2.8"/><circle cx="892.6" cy="796.4" r="2.8"/><circle cx="896.7" cy="798.6" r="2.8"/><circle cx="895.2" cy="801.2" r="2.8"/><circle cx="932.9" cy="797.3" r="2.8"/><circle cx="959.6" cy="799.3" r="2.8"/><circle cx="924.8" cy="801.9" r="2.8"/><circle cx="887.3" cy="805.2" r="2.8"/><circle cx="914.0" cy="805.8" r="2.8"/><circle cx="915.7" cy="807.1" r="2.8"/><circle cx="937.5" cy="806.2" r="2.8"/><circle cx="936.6" cy="808.4" r="2.8"/><circle cx="950.5" cy="806.7" r="2.8"/><circle cx="967.6" cy="806.7" r="2.8"/><circle cx="962.5" cy="807.8" r="2.8"/><circle cx="984.3" cy="805.4" r="2.8"/><circle cx="920.8" cy="809.7" r="2.8"/><circle cx="878.2" cy="813.9" r="2.8"/><circle cx="925.5" cy="813.9" r="2.8"/><circle cx="935.1" cy="813.9" r="2.8"/><circle cx="936.6" cy="817.1" r="2.8"/><circle cx="947.6" cy="814.3" r="2.8"/><circle cx="957.9" cy="813.0" r="2.8"/><circle cx="962.2" cy="813.9" r="2.8"/><circle cx="898.8" cy="817.3" r="2.8"/><circle cx="901.9" cy="819.1" r="2.8"/><circle cx="958.3" cy="820.4" r="2.8"/><circle cx="966.8" cy="823.0" r="2.8"/><circle cx="927.1" cy="827.3" r="2.8"/><circle cx="950.8" cy="826.6" r="2.8"/><circle cx="945.5" cy="827.7" r="2.8"/><circle cx="911.8" cy="829.9" r="2.8"/><circle cx="943.6" cy="831.5" r="2.8"/><circle cx="949.8" cy="831.6" r="2.8"/><circle cx="912.7" cy="833.4" r="2.8"/><circle cx="909.5" cy="834.7" r="2.8"/><circle cx="920.5" cy="833.5" r="2.8"/><circle cx="953.4" cy="835.1" r="2.8"/><circle cx="970.9" cy="833.4" r="2.8"/><circle cx="934.5" cy="835.1" r="2.8"/><circle cx="875.0" cy="838.6" r="2.8"/><circle cx="903.6" cy="838.6" r="2.8"/><circle cx="891.9" cy="839.4" r="2.8"/><circle cx="887.3" cy="841.4" r="2.8"/><circle cx="898.4" cy="839.7" r="2.8"/><circle cx="929.7" cy="838.1" r="2.8"/><circle cx="936.8" cy="837.7" r="2.8"/><circle cx="940.7" cy="837.7" r="2.8"/><circle cx="935.5" cy="841.4" r="2.8"/><circle cx="899.1" cy="843.6" r="2.8"/><circle cx="971.1" cy="842.3" r="2.8"/><circle cx="915.1" cy="844.0" r="2.8"/><circle cx="923.8" cy="844.6" r="2.8"/><circle cx="931.6" cy="845.5" r="2.8"/><circle cx="880.2" cy="846.4" r="2.8"/><circle cx="882.8" cy="846.8" r="2.8"/><circle cx="995.0" cy="846.8" r="2.8"/><circle cx="886.0" cy="849.7" r="2.8"/><circle cx="900.4" cy="849.2" r="2.8"/><circle cx="895.4" cy="850.5" r="2.8"/><circle cx="950.5" cy="848.5" r="2.8"/><circle cx="953.1" cy="850.1" r="2.8"/><circle cx="917.9" cy="850.3" r="2.8"/><circle cx="916.2" cy="851.6" r="2.8"/><circle cx="945.5" cy="850.7" r="2.8"/><circle cx="940.7" cy="852.0" r="2.8"/><circle cx="952.4" cy="853.3" r="2.8"/><circle cx="884.7" cy="854.0" r="2.8"/><circle cx="876.7" cy="855.5" r="2.8"/><circle cx="891.2" cy="855.3" r="2.8"/><circle cx="902.3" cy="855.3" r="2.8"/><circle cx="910.5" cy="854.9" r="2.8"/><circle cx="950.5" cy="854.9" r="2.8"/><circle cx="955.1" cy="855.9" r="2.8"/><circle cx="994.1" cy="857.2" r="2.8"/><circle cx="906.5" cy="858.5" r="2.8"/><circle cx="944.4" cy="859.2" r="2.8"/><circle cx="969.0" cy="858.3" r="2.8"/>
</g>
<path d="M332.3,969.90 L333.6,969.90 L334.9,969.90 L336.1,969.90 L337.4,969.90 L338.7,969.90 L340.0,969.90 L341.3,969.90 L342.5,969.90 L343.8,969.90 L345.1,969.90 L346.4,969.90 L347.7,969.90 L348.9,969.90 L350.2,969.90 L351.5,969.90 L352.8,969.90 L354.1,969.90 L355.3,969.90 L356.6,969.90 L357.9,969.90 L359.2,969.90 L360.5,969.90 L361.7,969.90 L363.0,969.90 L364.3,969.90 L365.6,969.90 L366.9,969.90 L368.1,969.90 L369.4,969.90 L370.7,969.90 L372.0,969.90 L373.3,969.90 L374.5,969.90 L375.8,969.90 L377.1,969.90 L378.4,969.90 L379.7,969.90 L380.9,969.90 L382.2,969.90 L383.5,969.90 L384.8,969.90 L386.1,969.90 L387.3,969.90 L388.6,969.90 L389.9,969.90 L391.2,969.90 L392.5,969.90 L393.7,969.90 L395.0,969.90 L396.3,969.90 L397.6,969.90 L398.8,969.90 L400.1,969.90 L401.4,969.90 L402.7,969.90 L404.0,969.90 L405.2,969.90 L406.5,969.90 L407.8,969.90 L409.1,969.90 L410.4,969.90 L411.6,969.90 L412.9,969.90 L414.2,969.90 L415.5,969.90 L416.8,969.90 L418.0,969.90 L419.3,969.90 L420.6,969.90 L421.9,969.90 L423.2,969.90 L424.4,969.90 L425.7,969.90 L427.0,969.90 L428.3,969.90 L429.6,969.90 L430.8,969.90 L432.1,969.90 L433.4,969.90 L434.7,969.90 L436.0,969.90 L437.2,969.90 L438.5,969.90 L439.8,969.90 L441.1,969.90 L442.4,969.90 L443.6,969.90 L444.9,969.90 L446.2,969.90 L447.5,969.90 L448.8,969.90 L450.0,969.90 L451.3,969.90 L452.6,969.90 L453.9,969.90 L455.2,969.90 L456.4,969.90 L457.7,969.90 L459.0,969.90 L460.3,969.90 L461.6,969.90 L462.8,969.90 L464.1,969.90 L465.4,969.90 L466.7,969.90 L468.0,969.90 L469.2,969.90 L470.5,969.90 L471.8,969.90 L473.1,969.90 L474.4,969.90 L475.6,969.90 L476.9,969.90 L478.2,969.90 L479.5,969.90 L480.8,969.90 L482.0,969.90 L483.3,969.90 L484.6,969.90 L485.9,969.90 L487.2,969.90 L488.4,969.90 L489.7,969.90 L491.0,969.90 L492.3,969.90 L493.6,969.90 L494.8,969.90 L496.1,969.90 L497.4,969.90 L498.7,969.90 L500.0,969.90 L501.2,969.90 L502.5,969.90 L503.8,969.90 L505.1,969.90 L506.4,969.90 L507.6,969.90 L508.9,969.90 L510.2,969.90 L511.5,969.90 L512.8,969.90 L514.0,969.90 L515.3,969.90 L516.6,969.90 L517.9,969.90 L519.2,969.90 L520.4,969.90 L521.7,969.90 L523.0,969.90 L524.3,969.90 L525.5,969.90 L526.8,969.90 L528.1,969.90 L529.4,969.90 L530.7,969.90 L531.9,969.90 L533.2,969.90 L534.5,969.90 L535.8,969.90 L537.1,969.90 L538.3,969.90 L539.6,969.90 L540.9,969.90 L542.2,969.90 L543.5,969.90 L544.7,969.90 L546.0,969.90 L547.3,969.90 L548.6,969.90 L549.9,969.90 L551.1,969.90 L552.4,969.90 L553.7,969.90 L555.0,969.90 L556.3,969.90 L557.5,969.90 L558.8,969.90 L560.1,969.90 L561.4,969.90 L562.7,969.90 L563.9,969.90 L565.2,969.90 L566.5,969.90 L567.8,969.90 L569.1,969.90 L570.3,969.90 L571.6,969.90 L572.9,969.90 L574.2,969.90 L575.5,969.90 L576.7,969.90 L578.0,969.90 L579.3,969.90 L580.6,969.90 L581.9,969.90 L583.1,969.90 L584.4,969.90 L585.7,969.90 L587.0,969.90 L588.3,969.90 L589.5,969.90 L590.8,969.90 L592.1,969.90 L593.4,969.89 L594.7,969.89 L595.9,969.89 L597.2,969.89 L598.5,969.89 L599.8,969.89 L601.1,969.89 L602.3,969.89 L603.6,969.89 L604.9,969.89 L606.2,969.89 L607.5,969.89 L608.7,969.89 L610.0,969.89 L611.3,969.89 L612.6,969.89 L613.9,969.89 L615.1,969.88 L616.4,969.88 L617.7,969.88 L619.0,969.88 L620.3,969.88 L621.5,969.88 L622.8,969.88 L624.1,969.88 L625.4,969.88 L626.7,969.88 L627.9,969.87 L629.2,969.87 L630.5,969.87 L631.8,969.87 L633.1,969.87 L634.3,969.87 L635.6,969.87 L636.9,969.87 L638.2,969.87 L639.5,969.86 L640.7,969.86 L642.0,969.86 L643.3,969.86 L644.6,969.86 L645.9,969.86 L647.1,969.85 L648.4,969.85 L649.7,969.85 L651.0,969.85 L652.2,969.85 L653.5,969.85 L654.8,969.84 L656.1,969.84 L657.4,969.84 L658.6,969.84 L659.9,969.84 L661.2,969.84 L662.5,969.83 L663.8,969.83 L665.0,969.83 L666.3,969.83 L667.6,969.82 L668.9,969.82 L670.2,969.82 L671.4,969.82 L672.7,969.82 L674.0,969.81 L675.3,969.81 L676.6,969.81 L677.8,969.81 L679.1,969.80 L680.4,969.80 L681.7,969.80 L683.0,969.80 L684.2,969.79 L685.5,969.79 L686.8,969.79 L688.1,969.78 L689.4,969.78 L690.6,969.78 L691.9,969.78 L693.2,969.77 L694.5,969.77 L695.8,969.77 L697.0,969.76 L698.3,969.76 L699.6,969.76 L700.9,969.75 L702.2,969.75 L703.4,969.75 L704.7,969.74 L706.0,969.74 L707.3,969.74 L708.6,969.73 L709.8,969.73 L711.1,969.72 L712.4,969.72 L713.7,969.72 L715.0,969.71 L716.2,969.71 L717.5,969.71 L718.8,969.70 L720.1,969.70 L721.4,969.69 L722.6,969.69 L723.9,969.68 L725.2,969.68 L726.5,969.68 L727.8,969.67 L729.0,969.67 L730.3,969.66 L731.6,969.66 L732.9,969.65 L734.2,969.65 L735.4,969.64 L736.7,969.64 L738.0,969.63 L739.3,969.63 L740.6,969.62 L741.8,969.62 L743.1,969.61 L744.4,969.61 L745.7,969.60 L747.0,969.60 L748.2,969.59 L749.5,969.59 L750.8,969.58 L752.1,969.58 L753.4,969.57 L754.6,969.57 L755.9,969.56 L757.2,969.55 L758.5,969.55 L759.8,969.54 L761.0,969.54 L762.3,969.53 L763.6,969.52 L764.9,969.52 L766.2,969.51 L767.4,969.51 L768.7,969.50 L770.0,969.49 L771.3,969.49 L772.6,969.48 L773.8,969.47 L775.1,969.47 L776.4,969.46 L777.7,969.45 L779.0,969.45 L780.2,969.44 L781.5,969.43 L782.8,969.42 L784.1,969.41 L785.3,969.40 L786.6,969.38 L787.9,969.36 L789.2,969.33 L790.5,969.29 L791.7,969.24 L793.0,969.18 L794.3,969.11 L795.6,969.03 L796.9,968.94 L798.1,968.85 L799.4,968.74 L800.7,968.63 L802.0,968.52 L803.3,968.40 L804.5,968.27 L805.8,968.15 L807.1,968.02 L808.4,967.89 L809.7,967.75 L810.9,967.61 L812.2,967.46 L813.5,967.30 L814.8,967.13 L816.1,966.94 L817.3,966.74 L818.6,966.53 L819.9,966.28 L821.2,966.01 L822.5,965.71 L823.7,965.36 L825.0,964.97 L826.3,964.53 L827.6,964.04 L828.9,963.51 L830.1,962.94 L831.4,962.33 L832.7,961.69 L834.0,961.02 L835.3,960.33 L836.5,959.61 L837.8,958.87 L839.1,958.10 L840.4,957.31 L841.7,956.50 L842.9,955.67 L844.2,954.83 L845.5,953.97 L846.8,953.10 L848.1,952.22 L849.3,951.34 L850.6,950.45 L851.9,949.56 L853.2,948.67 L854.5,947.80 L855.7,946.95 L857.0,946.12 L858.3,945.31 L859.6,944.53 L860.9,943.78 L862.1,943.06 L863.4,942.36 L864.7,941.70 L866.0,941.08 L867.3,940.50 L868.5,939.95 L869.8,939.45 L871.1,938.99 L872.4,938.56 L873.7,938.16 L874.9,937.81 L876.2,937.49 L877.5,937.22 L878.8,936.99 L880.1,936.80 L881.3,936.66 L882.6,936.57 L883.9,936.50 L885.2,936.46 L886.5,936.44 L887.7,936.43 L889.0,936.42 L890.3,936.40 L891.6,936.38 L892.9,936.35 L894.1,936.30 L895.4,936.22 L896.7,936.11 L898.0,935.97 L899.3,935.79 L900.5,935.57 L901.8,935.32 L903.1,935.02 L904.4,934.68 L905.7,934.28 L906.9,933.83 L908.2,933.31 L909.5,932.72 L910.8,932.08 L912.0,931.39 L913.3,930.65 L914.6,929.89 L915.9,929.10 L917.2,928.30 L918.4,927.49 L919.7,926.67 L921.0,925.86 L922.3,925.05 L923.6,924.26 L924.8,923.51 L926.1,922.80 L927.4,922.14 L928.7,921.54 L930.0,921.01 L931.2,920.53 L932.5,920.11 L933.8,919.75 L935.1,919.45 L936.4,919.20 L937.6,919.03 L938.9,918.92 L940.2,918.87 L941.5,918.90 L942.8,918.99 L944.0,919.13 L945.3,919.34 L946.6,919.61 L947.9,919.93 L949.2,920.33 L950.4,920.81 L951.7,921.38 L953.0,922.04 L954.3,922.79 L955.6,923.63 L956.8,924.54 L958.1,925.52 L959.4,926.55 L960.7,927.62 L962.0,928.72 L963.2,929.86 L964.5,931.02 L965.8,932.21 L967.1,933.43 L968.4,934.66 L969.6,935.91 L970.9,937.16 L972.2,938.42 L973.5,939.67 L974.8,940.92 L976.0,942.16 L977.3,943.39 L978.6,944.61 L979.9,945.82 L981.2,947.00 L982.4,948.16 L983.7,949.28 L985.0,950.38 L986.3,951.44 L987.6,952.47 L988.8,953.47 L990.1,954.43 L991.4,955.35 L992.7,956.23 L994.0,957.07 L995.2,957.87 L996.5,958.62 L997.8,959.32 L999.1,959.98 L1000.4,960.60 L1001.6,961.18 L1002.9,961.72 L1004.2,962.22 L1005.5,962.68 L1006.8,963.10 L1008.0,963.48 L1009.3,963.82 L1010.6,964.12 L1011.9,964.39 L1013.2,964.64 L1014.4,964.87 L1015.7,965.07 L1017.0,965.27 L1018.3,965.45 L1019.6,965.61 L1020.8,965.77 L1022.1,965.92 L1023.4,966.07 L1024.7,966.21 L1026.0,966.34 L1027.2,966.46 L1028.5,966.58 L1029.8,966.70 L1031.1,966.81 L1032.4,966.92 L1033.6,967.02 L1034.9,967.12 L1036.2,967.22 L1037.5,967.31 L1038.7,967.40 L1040.0,967.49 L1041.3,967.58 L1042.6,967.66 L1043.9,967.74 L1045.1,967.82 L1046.4,967.90 L1047.7,967.98 L1049.0,968.06 L1050.3,968.13 L1051.5,968.21 L1052.8,968.28 L1054.1,968.34 L1055.4,968.41 L1056.7,968.47 L1057.9,968.53 L1059.2,968.58 L1060.5,968.63 L1061.8,968.68 L1063.1,968.72 L1064.3,968.75 L1065.6,968.78 L1066.9,968.81 L1068.2,968.83 L1069.5,968.85 L1070.7,968.87 L1072.0,968.89 L1073.3,968.90 L1074.6,968.91 L1075.9,968.92 L1077.1,968.94 L1078.4,968.95 L1079.7,968.96 L1081.0,968.98 L1082.3,969.01 L1083.5,969.05 L1084.8,969.10 L1086.1,969.16 L1087.4,969.26 L1088.7,969.37 L1089.9,969.50 L1091.2,969.64 L1092.5,969.76 L1093.8,969.86 L1095.1,969.90 L1096.3,969.90 L1097.6,969.90 L1098.9,969.90 L1098.9,969.9 L332.3,969.9 Z" fill="#CCBB44" stroke="none"/>
<path d="M332.3,969.90 L333.6,969.90 L334.9,969.90 L336.1,969.90 L337.4,969.90 L338.7,969.90 L340.0,969.90 L341.3,969.90 L342.5,969.90 L343.8,969.90 L345.1,969.90 L346.4,969.90 L347.7,969.90 L348.9,969.90 L350.2,969.90 L351.5,969.90 L352.8,969.90 L354.1,969.90 L355.3,969.90 L356.6,969.90 L357.9,969.90 L359.2,969.90 L360.5,969.90 L361.7,969.90 L363.0,969.90 L364.3,969.90 L365.6,969.90 L366.9,969.90 L368.1,969.90 L369.4,969.90 L370.7,969.90 L372.0,969.90 L373.3,969.90 L374.5,969.90 L375.8,969.90 L377.1,969.90 L378.4,969.90 L379.7,969.90 L380.9,969.90 L382.2,969.90 L383.5,969.90 L384.8,969.90 L386.1,969.90 L387.3,969.90 L388.6,969.90 L389.9,969.90 L391.2,969.90 L392.5,969.90 L393.7,969.90 L395.0,969.90 L396.3,969.90 L397.6,969.90 L398.8,969.90 L400.1,969.90 L401.4,969.90 L402.7,969.90 L404.0,969.90 L405.2,969.90 L406.5,969.90 L407.8,969.90 L409.1,969.90 L410.4,969.90 L411.6,969.90 L412.9,969.90 L414.2,969.90 L415.5,969.90 L416.8,969.90 L418.0,969.90 L419.3,969.90 L420.6,969.90 L421.9,969.90 L423.2,969.90 L424.4,969.90 L425.7,969.90 L427.0,969.90 L428.3,969.90 L429.6,969.90 L430.8,969.90 L432.1,969.90 L433.4,969.90 L434.7,969.90 L436.0,969.90 L437.2,969.90 L438.5,969.90 L439.8,969.90 L441.1,969.90 L442.4,969.90 L443.6,969.90 L444.9,969.90 L446.2,969.90 L447.5,969.90 L448.8,969.90 L450.0,969.90 L451.3,969.90 L452.6,969.90 L453.9,969.90 L455.2,969.90 L456.4,969.90 L457.7,969.90 L459.0,969.90 L460.3,969.90 L461.6,969.90 L462.8,969.90 L464.1,969.90 L465.4,969.90 L466.7,969.90 L468.0,969.90 L469.2,969.90 L470.5,969.90 L471.8,969.90 L473.1,969.90 L474.4,969.90 L475.6,969.90 L476.9,969.90 L478.2,969.90 L479.5,969.90 L480.8,969.90 L482.0,969.90 L483.3,969.90 L484.6,969.90 L485.9,969.90 L487.2,969.90 L488.4,969.90 L489.7,969.90 L491.0,969.90 L492.3,969.90 L493.6,969.90 L494.8,969.90 L496.1,969.90 L497.4,969.90 L498.7,969.90 L500.0,969.90 L501.2,969.90 L502.5,969.90 L503.8,969.90 L505.1,969.90 L506.4,969.90 L507.6,969.90 L508.9,969.90 L510.2,969.90 L511.5,969.90 L512.8,969.90 L514.0,969.90 L515.3,969.90 L516.6,969.90 L517.9,969.90 L519.2,969.90 L520.4,969.90 L521.7,969.90 L523.0,969.90 L524.3,969.90 L525.5,969.90 L526.8,969.90 L528.1,969.90 L529.4,969.90 L530.7,969.90 L531.9,969.90 L533.2,969.90 L534.5,969.90 L535.8,969.90 L537.1,969.90 L538.3,969.90 L539.6,969.90 L540.9,969.90 L542.2,969.90 L543.5,969.90 L544.7,969.90 L546.0,969.90 L547.3,969.90 L548.6,969.90 L549.9,969.90 L551.1,969.90 L552.4,969.90 L553.7,969.90 L555.0,969.90 L556.3,969.90 L557.5,969.90 L558.8,969.90 L560.1,969.90 L561.4,969.90 L562.7,969.90 L563.9,969.90 L565.2,969.90 L566.5,969.90 L567.8,969.90 L569.1,969.90 L570.3,969.90 L571.6,969.90 L572.9,969.90 L574.2,969.90 L575.5,969.90 L576.7,969.90 L578.0,969.90 L579.3,969.90 L580.6,969.90 L581.9,969.90 L583.1,969.90 L584.4,969.90 L585.7,969.90 L587.0,969.90 L588.3,969.90 L589.5,969.90 L590.8,969.90 L592.1,969.90 L593.4,969.89 L594.7,969.89 L595.9,969.89 L597.2,969.89 L598.5,969.89 L599.8,969.89 L601.1,969.89 L602.3,969.89 L603.6,969.89 L604.9,969.89 L606.2,969.89 L607.5,969.89 L608.7,969.89 L610.0,969.89 L611.3,969.89 L612.6,969.89 L613.9,969.89 L615.1,969.88 L616.4,969.88 L617.7,969.88 L619.0,969.88 L620.3,969.88 L621.5,969.88 L622.8,969.88 L624.1,969.88 L625.4,969.88 L626.7,969.88 L627.9,969.87 L629.2,969.87 L630.5,969.87 L631.8,969.87 L633.1,969.87 L634.3,969.87 L635.6,969.87 L636.9,969.87 L638.2,969.87 L639.5,969.86 L640.7,969.86 L642.0,969.86 L643.3,969.86 L644.6,969.86 L645.9,969.86 L647.1,969.85 L648.4,969.85 L649.7,969.85 L651.0,969.85 L652.2,969.85 L653.5,969.85 L654.8,969.84 L656.1,969.84 L657.4,969.84 L658.6,969.84 L659.9,969.84 L661.2,969.84 L662.5,969.83 L663.8,969.83 L665.0,969.83 L666.3,969.83 L667.6,969.82 L668.9,969.82 L670.2,969.82 L671.4,969.82 L672.7,969.82 L674.0,969.81 L675.3,969.81 L676.6,969.81 L677.8,969.81 L679.1,969.80 L680.4,969.80 L681.7,969.80 L683.0,969.80 L684.2,969.79 L685.5,969.79 L686.8,969.79 L688.1,969.78 L689.4,969.78 L690.6,969.78 L691.9,969.78 L693.2,969.77 L694.5,969.77 L695.8,969.77 L697.0,969.76 L698.3,969.76 L699.6,969.76 L700.9,969.75 L702.2,969.75 L703.4,969.75 L704.7,969.74 L706.0,969.74 L707.3,969.74 L708.6,969.73 L709.8,969.73 L711.1,969.72 L712.4,969.72 L713.7,969.72 L715.0,969.71 L716.2,969.71 L717.5,969.71 L718.8,969.70 L720.1,969.70 L721.4,969.69 L722.6,969.69 L723.9,969.68 L725.2,969.68 L726.5,969.68 L727.8,969.67 L729.0,969.67 L730.3,969.66 L731.6,969.66 L732.9,969.65 L734.2,969.65 L735.4,969.64 L736.7,969.64 L738.0,969.63 L739.3,969.63 L740.6,969.62 L741.8,969.62 L743.1,969.61 L744.4,969.61 L745.7,969.60 L747.0,969.60 L748.2,969.59 L749.5,969.59 L750.8,969.58 L752.1,969.58 L753.4,969.57 L754.6,969.57 L755.9,969.56 L757.2,969.55 L758.5,969.55 L759.8,969.54 L761.0,969.54 L762.3,969.53 L763.6,969.52 L764.9,969.52 L766.2,969.51 L767.4,969.51 L768.7,969.50 L770.0,969.49 L771.3,969.49 L772.6,969.48 L773.8,969.47 L775.1,969.47 L776.4,969.46 L777.7,969.45 L779.0,969.45 L780.2,969.44 L781.5,969.43 L782.8,969.42 L784.1,969.41 L785.3,969.40 L786.6,969.38 L787.9,969.36 L789.2,969.33 L790.5,969.29 L791.7,969.24 L793.0,969.18 L794.3,969.11 L795.6,969.03 L796.9,968.94 L798.1,968.85 L799.4,968.74 L800.7,968.63 L802.0,968.52 L803.3,968.40 L804.5,968.27 L805.8,968.15 L807.1,968.02 L808.4,967.89 L809.7,967.75 L810.9,967.61 L812.2,967.46 L813.5,967.30 L814.8,967.13 L816.1,966.94 L817.3,966.74 L818.6,966.53 L819.9,966.28 L821.2,966.01 L822.5,965.71 L823.7,965.36 L825.0,964.97 L826.3,964.53 L827.6,964.04 L828.9,963.51 L830.1,962.94 L831.4,962.33 L832.7,961.69 L834.0,961.02 L835.3,960.33 L836.5,959.61 L837.8,958.87 L839.1,958.10 L840.4,957.31 L841.7,956.50 L842.9,955.67 L844.2,954.83 L845.5,953.97 L846.8,953.10 L848.1,952.22 L849.3,951.34 L850.6,950.45 L851.9,949.56 L853.2,948.67 L854.5,947.80 L855.7,946.95 L857.0,946.12 L858.3,945.31 L859.6,944.53 L860.9,943.78 L862.1,943.06 L863.4,942.36 L864.7,941.70 L866.0,941.08 L867.3,940.50 L868.5,939.95 L869.8,939.45 L871.1,938.99 L872.4,938.56 L873.7,938.16 L874.9,937.81 L876.2,937.49 L877.5,937.22 L878.8,936.99 L880.1,936.80 L881.3,936.66 L882.6,936.57 L883.9,936.50 L885.2,936.46 L886.5,936.44 L887.7,936.43 L889.0,936.42 L890.3,936.40 L891.6,936.38 L892.9,936.35 L894.1,936.30 L895.4,936.22 L896.7,936.11 L898.0,935.97 L899.3,935.79 L900.5,935.57 L901.8,935.32 L903.1,935.02 L904.4,934.68 L905.7,934.28 L906.9,933.83 L908.2,933.31 L909.5,932.72 L910.8,932.08 L912.0,931.39 L913.3,930.65 L914.6,929.89 L915.9,929.10 L917.2,928.30 L918.4,927.49 L919.7,926.67 L921.0,925.86 L922.3,925.05 L923.6,924.26 L924.8,923.51 L926.1,922.80 L927.4,922.14 L928.7,921.54 L930.0,921.01 L931.2,920.53 L932.5,920.11 L933.8,919.75 L935.1,919.45 L936.4,919.20 L937.6,919.03 L938.9,918.92 L940.2,918.87 L941.5,918.90 L942.8,918.99 L944.0,919.13 L945.3,919.34 L946.6,919.61 L947.9,919.93 L949.2,920.33 L950.4,920.81 L951.7,921.38 L953.0,922.04 L954.3,922.79 L955.6,923.63 L956.8,924.54 L958.1,925.52 L959.4,926.55 L960.7,927.62 L962.0,928.72 L963.2,929.86 L964.5,931.02 L965.8,932.21 L967.1,933.43 L968.4,934.66 L969.6,935.91 L970.9,937.16 L972.2,938.42 L973.5,939.67 L974.8,940.92 L976.0,942.16 L977.3,943.39 L978.6,944.61 L979.9,945.82 L981.2,947.00 L982.4,948.16 L983.7,949.28 L985.0,950.38 L986.3,951.44 L987.6,952.47 L988.8,953.47 L990.1,954.43 L991.4,955.35 L992.7,956.23 L994.0,957.07 L995.2,957.87 L996.5,958.62 L997.8,959.32 L999.1,959.98 L1000.4,960.60 L1001.6,961.18 L1002.9,961.72 L1004.2,962.22 L1005.5,962.68 L1006.8,963.10 L1008.0,963.48 L1009.3,963.82 L1010.6,964.12 L1011.9,964.39 L1013.2,964.64 L1014.4,964.87 L1015.7,965.07 L1017.0,965.27 L1018.3,965.45 L1019.6,965.61 L1020.8,965.77 L1022.1,965.92 L1023.4,966.07 L1024.7,966.21 L1026.0,966.34 L1027.2,966.46 L1028.5,966.58 L1029.8,966.70 L1031.1,966.81 L1032.4,966.92 L1033.6,967.02 L1034.9,967.12 L1036.2,967.22 L1037.5,967.31 L1038.7,967.40 L1040.0,967.49 L1041.3,967.58 L1042.6,967.66 L1043.9,967.74 L1045.1,967.82 L1046.4,967.90 L1047.7,967.98 L1049.0,968.06 L1050.3,968.13 L1051.5,968.21 L1052.8,968.28 L1054.1,968.34 L1055.4,968.41 L1056.7,968.47 L1057.9,968.53 L1059.2,968.58 L1060.5,968.63 L1061.8,968.68 L1063.1,968.72 L1064.3,968.75 L1065.6,968.78 L1066.9,968.81 L1068.2,968.83 L1069.5,968.85 L1070.7,968.87 L1072.0,968.89 L1073.3,968.90 L1074.6,968.91 L1075.9,968.92 L1077.1,968.94 L1078.4,968.95 L1079.7,968.96 L1081.0,968.98 L1082.3,969.01 L1083.5,969.05 L1084.8,969.10 L1086.1,969.16 L1087.4,969.26 L1088.7,969.37 L1089.9,969.50 L1091.2,969.64 L1092.5,969.76 L1093.8,969.86 L1095.1,969.90 L1096.3,969.90 L1097.6,969.90 L1098.9,969.90" fill="none" stroke="#000" stroke-width="2.85" stroke-linejoin="round" stroke-linecap="butt"/>
<line x1="332.3" x2="1098.9" y1="969.9" y2="969.9" stroke="#000" stroke-width="2.6" stroke-linecap="round"/>
<g fill="#CCBB44">
<circle cx="837.5" cy="1017.6" r="2.8"/><circle cx="854.3" cy="998.3" r="2.8"/><circle cx="848.8" cy="1006.5" r="2.8"/><circle cx="855.6" cy="1003.2" r="2.8"/><circle cx="859.1" cy="1005.2" r="2.8"/><circle cx="877.1" cy="1002.2" r="2.8"/><circle cx="877.5" cy="1010.8" r="2.8"/><circle cx="887.8" cy="1011.0" r="2.8"/><circle cx="878.1" cy="1016.2" r="2.8"/><circle cx="880.3" cy="1018.2" r="2.8"/><circle cx="877.5" cy="1028.2" r="2.8"/><circle cx="860.2" cy="1030.8" r="2.8"/><circle cx="864.1" cy="1029.7" r="2.8"/><circle cx="913.2" cy="1011.3" r="2.8"/><circle cx="915.4" cy="1021.5" r="2.8"/><circle cx="928.8" cy="1012.7" r="2.8"/><circle cx="924.6" cy="1021.2" r="2.8"/><circle cx="929.2" cy="1020.4" r="2.8"/><circle cx="936.6" cy="1012.0" r="2.8"/><circle cx="939.6" cy="1011.7" r="2.8"/><circle cx="942.4" cy="1014.9" r="2.8"/><circle cx="940.6" cy="1020.8" r="2.8"/><circle cx="930.5" cy="1026.0" r="2.8"/><circle cx="936.3" cy="1027.1" r="2.8"/><circle cx="925.7" cy="1029.7" r="2.8"/><circle cx="931.8" cy="1029.3" r="2.8"/><circle cx="943.1" cy="1032.5" r="2.8"/><circle cx="938.3" cy="996.7" r="2.8"/><circle cx="945.1" cy="996.7" r="2.8"/><circle cx="942.8" cy="1000.2" r="2.8"/><circle cx="946.7" cy="1003.5" r="2.8"/><circle cx="961.3" cy="997.4" r="2.8"/><circle cx="959.5" cy="1002.6" r="2.8"/><circle cx="969.3" cy="1000.4" r="2.8"/><circle cx="962.4" cy="1007.1" r="2.8"/><circle cx="964.1" cy="1007.1" r="2.8"/><circle cx="962.1" cy="1018.6" r="2.8"/><circle cx="966.5" cy="1017.3" r="2.8"/><circle cx="957.6" cy="1023.8" r="2.8"/><circle cx="966.7" cy="1029.0" r="2.8"/><circle cx="966.0" cy="1031.2" r="2.8"/><circle cx="917.8" cy="1037.1" r="2.8"/><circle cx="863.4" cy="1042.9" r="2.8"/><circle cx="872.8" cy="1040.3" r="2.8"/><circle cx="874.9" cy="1042.0" r="2.8"/><circle cx="890.5" cy="1040.7" r="2.8"/><circle cx="891.4" cy="1045.5" r="2.8"/><circle cx="910.3" cy="1042.7" r="2.8"/><circle cx="907.3" cy="1046.2" r="2.8"/><circle cx="883.2" cy="1047.1" r="2.8"/><circle cx="878.4" cy="1048.5" r="2.8"/><circle cx="864.1" cy="1050.8" r="2.8"/><circle cx="906.4" cy="1050.1" r="2.8"/><circle cx="901.6" cy="1051.7" r="2.8"/><circle cx="923.3" cy="1045.9" r="2.8"/><circle cx="922.0" cy="1046.8" r="2.8"/><circle cx="937.0" cy="1042.0" r="2.8"/><circle cx="939.3" cy="1043.2" r="2.8"/><circle cx="948.3" cy="1039.9" r="2.8"/><circle cx="952.0" cy="1047.5" r="2.8"/><circle cx="944.1" cy="1049.7" r="2.8"/><circle cx="856.0" cy="1056.6" r="2.8"/><circle cx="896.0" cy="1055.3" r="2.8"/><circle cx="892.3" cy="1058.2" r="2.8"/><circle cx="903.8" cy="1056.9" r="2.8"/><circle cx="883.9" cy="1059.2" r="2.8"/><circle cx="897.0" cy="1061.8" r="2.8"/><circle cx="931.5" cy="1052.7" r="2.8"/><circle cx="933.1" cy="1055.7" r="2.8"/><circle cx="931.1" cy="1056.2" r="2.8"/><circle cx="942.8" cy="1053.4" r="2.8"/><circle cx="944.1" cy="1055.3" r="2.8"/><circle cx="953.0" cy="1057.5" r="2.8"/><circle cx="959.4" cy="1053.6" r="2.8"/><circle cx="972.8" cy="1051.7" r="2.8"/><circle cx="971.9" cy="1054.3" r="2.8"/><circle cx="920.7" cy="1058.6" r="2.8"/><circle cx="927.2" cy="1061.8" r="2.8"/><circle cx="923.6" cy="1065.3" r="2.8"/><circle cx="925.7" cy="1068.6" r="2.8"/><circle cx="940.0" cy="1063.8" r="2.8"/><circle cx="948.0" cy="1064.2" r="2.8"/><circle cx="954.8" cy="1064.4" r="2.8"/><circle cx="945.4" cy="1070.5" r="2.8"/><circle cx="952.0" cy="1071.3" r="2.8"/><circle cx="973.0" cy="1067.0" r="2.8"/><circle cx="865.4" cy="1068.3" r="2.8"/><circle cx="873.2" cy="1070.3" r="2.8"/><circle cx="881.0" cy="1066.1" r="2.8"/><circle cx="883.6" cy="1065.7" r="2.8"/><circle cx="886.2" cy="1068.6" r="2.8"/><circle cx="907.7" cy="1071.6" r="2.8"/><circle cx="997.6" cy="1002.8" r="2.8"/><circle cx="981.4" cy="1012.1" r="2.8"/><circle cx="978.2" cy="1026.1" r="2.8"/><circle cx="978.4" cy="1039.5" r="2.8"/><circle cx="1021.2" cy="1048.4" r="2.8"/><circle cx="996.5" cy="1064.4" r="2.8"/><circle cx="1043.6" cy="1070.1" r="2.8"/>
</g>
<path d="M332.3,1182.20 L333.6,1182.20 L334.9,1182.20 L336.1,1182.20 L337.4,1182.20 L338.7,1182.20 L340.0,1182.20 L341.3,1182.20 L342.5,1182.20 L343.8,1182.20 L345.1,1182.20 L346.4,1182.20 L347.7,1182.20 L348.9,1182.20 L350.2,1182.20 L351.5,1182.20 L352.8,1182.20 L354.1,1182.20 L355.3,1182.20 L356.6,1182.20 L357.9,1182.20 L359.2,1182.20 L360.5,1182.20 L361.7,1182.20 L363.0,1182.20 L364.3,1182.20 L365.6,1182.20 L366.9,1182.20 L368.1,1182.20 L369.4,1182.20 L370.7,1182.20 L372.0,1182.20 L373.3,1182.20 L374.5,1182.20 L375.8,1182.20 L377.1,1182.20 L378.4,1182.20 L379.7,1182.20 L380.9,1182.20 L382.2,1182.20 L383.5,1182.20 L384.8,1182.20 L386.1,1182.20 L387.3,1182.20 L388.6,1182.20 L389.9,1182.20 L391.2,1182.20 L392.5,1182.20 L393.7,1182.20 L395.0,1182.20 L396.3,1182.20 L397.6,1182.20 L398.8,1182.20 L400.1,1182.20 L401.4,1182.20 L402.7,1182.20 L404.0,1182.20 L405.2,1182.20 L406.5,1182.20 L407.8,1182.20 L409.1,1182.20 L410.4,1182.20 L411.6,1182.20 L412.9,1182.20 L414.2,1182.20 L415.5,1182.20 L416.8,1182.20 L418.0,1182.20 L419.3,1182.20 L420.6,1182.20 L421.9,1182.20 L423.2,1182.20 L424.4,1182.20 L425.7,1182.20 L427.0,1182.20 L428.3,1182.20 L429.6,1182.20 L430.8,1182.20 L432.1,1182.20 L433.4,1182.20 L434.7,1182.20 L436.0,1182.20 L437.2,1182.20 L438.5,1182.20 L439.8,1182.20 L441.1,1182.20 L442.4,1182.20 L443.6,1182.20 L444.9,1182.20 L446.2,1182.20 L447.5,1182.20 L448.8,1182.20 L450.0,1182.20 L451.3,1182.20 L452.6,1182.20 L453.9,1182.20 L455.2,1182.20 L456.4,1182.20 L457.7,1182.20 L459.0,1182.20 L460.3,1182.20 L461.6,1182.20 L462.8,1182.20 L464.1,1182.20 L465.4,1182.20 L466.7,1182.20 L468.0,1182.20 L469.2,1182.20 L470.5,1182.20 L471.8,1182.20 L473.1,1182.20 L474.4,1182.20 L475.6,1182.20 L476.9,1182.20 L478.2,1182.20 L479.5,1182.20 L480.8,1182.20 L482.0,1182.20 L483.3,1182.20 L484.6,1182.20 L485.9,1182.20 L487.2,1182.20 L488.4,1182.20 L489.7,1182.20 L491.0,1182.20 L492.3,1182.20 L493.6,1182.20 L494.8,1182.20 L496.1,1182.20 L497.4,1182.20 L498.7,1182.20 L500.0,1182.20 L501.2,1182.20 L502.5,1182.19 L503.8,1182.18 L505.1,1182.17 L506.4,1182.16 L507.6,1182.14 L508.9,1182.13 L510.2,1182.11 L511.5,1182.09 L512.8,1182.06 L514.0,1182.03 L515.3,1182.01 L516.6,1181.98 L517.9,1181.94 L519.2,1181.91 L520.4,1181.87 L521.7,1181.83 L523.0,1181.79 L524.3,1181.75 L525.5,1181.71 L526.8,1181.67 L528.1,1181.62 L529.4,1181.57 L530.7,1181.51 L531.9,1181.45 L533.2,1181.39 L534.5,1181.31 L535.8,1181.23 L537.1,1181.14 L538.3,1181.04 L539.6,1180.93 L540.9,1180.81 L542.2,1180.70 L543.5,1180.58 L544.7,1180.47 L546.0,1180.36 L547.3,1180.26 L548.6,1180.15 L549.9,1180.06 L551.1,1179.96 L552.4,1179.87 L553.7,1179.78 L555.0,1179.70 L556.3,1179.62 L557.5,1179.55 L558.8,1179.50 L560.1,1179.45 L561.4,1179.42 L562.7,1179.40 L563.9,1179.40 L565.2,1179.41 L566.5,1179.44 L567.8,1179.48 L569.1,1179.54 L570.3,1179.61 L571.6,1179.68 L572.9,1179.76 L574.2,1179.85 L575.5,1179.94 L576.7,1180.03 L578.0,1180.13 L579.3,1180.22 L580.6,1180.32 L581.9,1180.43 L583.1,1180.54 L584.4,1180.64 L585.7,1180.75 L587.0,1180.86 L588.3,1180.97 L589.5,1181.07 L590.8,1181.16 L592.1,1181.25 L593.4,1181.32 L594.7,1181.38 L595.9,1181.44 L597.2,1181.49 L598.5,1181.54 L599.8,1181.58 L601.1,1181.61 L602.3,1181.65 L603.6,1181.68 L604.9,1181.71 L606.2,1181.74 L607.5,1181.77 L608.7,1181.79 L610.0,1181.81 L611.3,1181.83 L612.6,1181.85 L613.9,1181.86 L615.1,1181.88 L616.4,1181.89 L617.7,1181.89 L619.0,1181.90 L620.3,1181.90 L621.5,1181.90 L622.8,1181.90 L624.1,1181.89 L625.4,1181.89 L626.7,1181.88 L627.9,1181.87 L629.2,1181.86 L630.5,1181.85 L631.8,1181.83 L633.1,1181.82 L634.3,1181.80 L635.6,1181.78 L636.9,1181.77 L638.2,1181.75 L639.5,1181.73 L640.7,1181.70 L642.0,1181.68 L643.3,1181.66 L644.6,1181.64 L645.9,1181.61 L647.1,1181.59 L648.4,1181.56 L649.7,1181.53 L651.0,1181.50 L652.2,1181.47 L653.5,1181.44 L654.8,1181.41 L656.1,1181.37 L657.4,1181.32 L658.6,1181.27 L659.9,1181.22 L661.2,1181.16 L662.5,1181.10 L663.8,1181.04 L665.0,1180.97 L666.3,1180.91 L667.6,1180.86 L668.9,1180.81 L670.2,1180.77 L671.4,1180.73 L672.7,1180.71 L674.0,1180.70 L675.3,1180.70 L676.6,1180.72 L677.8,1180.74 L679.1,1180.78 L680.4,1180.83 L681.7,1180.88 L683.0,1180.94 L684.2,1181.01 L685.5,1181.07 L686.8,1181.13 L688.1,1181.20 L689.4,1181.25 L690.6,1181.30 L691.9,1181.34 L693.2,1181.37 L694.5,1181.39 L695.8,1181.41 L697.0,1181.42 L698.3,1181.42 L699.6,1181.42 L700.9,1181.42 L702.2,1181.41 L703.4,1181.41 L704.7,1181.41 L706.0,1181.40 L707.3,1181.40 L708.6,1181.40 L709.8,1181.40 L711.1,1181.40 L712.4,1181.41 L713.7,1181.41 L715.0,1181.41 L716.2,1181.41 L717.5,1181.41 L718.8,1181.39 L720.1,1181.36 L721.4,1181.30 L722.6,1181.23 L723.9,1181.14 L725.2,1181.02 L726.5,1180.89 L727.8,1180.73 L729.0,1180.57 L730.3,1180.39 L731.6,1180.21 L732.9,1180.02 L734.2,1179.81 L735.4,1179.60 L736.7,1179.38 L738.0,1179.14 L739.3,1178.90 L740.6,1178.64 L741.8,1178.38 L743.1,1178.11 L744.4,1177.83 L745.7,1177.54 L747.0,1177.25 L748.2,1176.94 L749.5,1176.64 L750.8,1176.32 L752.1,1176.00 L753.4,1175.66 L754.6,1175.32 L755.9,1174.97 L757.2,1174.61 L758.5,1174.23 L759.8,1173.85 L761.0,1173.45 L762.3,1173.04 L763.6,1172.62 L764.9,1172.18 L766.2,1171.72 L767.4,1171.25 L768.7,1170.75 L770.0,1170.23 L771.3,1169.70 L772.6,1169.14 L773.8,1168.56 L775.1,1167.96 L776.4,1167.34 L777.7,1166.71 L779.0,1166.05 L780.2,1165.38 L781.5,1164.69 L782.8,1163.99 L784.1,1163.28 L785.3,1162.56 L786.6,1161.84 L787.9,1161.12 L789.2,1160.41 L790.5,1159.71 L791.7,1159.03 L793.0,1158.36 L794.3,1157.70 L795.6,1157.07 L796.9,1156.46 L798.1,1155.89 L799.4,1155.35 L800.7,1154.86 L802.0,1154.41 L803.3,1154.01 L804.5,1153.64 L805.8,1153.31 L807.1,1153.02 L808.4,1152.76 L809.7,1152.54 L810.9,1152.37 L812.2,1152.24 L813.5,1152.16 L814.8,1152.13 L816.1,1152.14 L817.3,1152.21 L818.6,1152.31 L819.9,1152.45 L821.2,1152.62 L822.5,1152.83 L823.7,1153.06 L825.0,1153.33 L826.3,1153.62 L827.6,1153.96 L828.9,1154.32 L830.1,1154.72 L831.4,1155.13 L832.7,1155.56 L834.0,1155.98 L835.3,1156.38 L836.5,1156.75 L837.8,1157.10 L839.1,1157.40 L840.4,1157.67 L841.7,1157.89 L842.9,1158.07 L844.2,1158.21 L845.5,1158.30 L846.8,1158.34 L848.1,1158.32 L849.3,1158.25 L850.6,1158.14 L851.9,1157.98 L853.2,1157.78 L854.5,1157.55 L855.7,1157.29 L857.0,1157.00 L858.3,1156.68 L859.6,1156.33 L860.9,1155.96 L862.1,1155.56 L863.4,1155.12 L864.7,1154.66 L866.0,1154.18 L867.3,1153.69 L868.5,1153.18 L869.8,1152.68 L871.1,1152.18 L872.4,1151.68 L873.7,1151.19 L874.9,1150.70 L876.2,1150.22 L877.5,1149.75 L878.8,1149.29 L880.1,1148.83 L881.3,1148.38 L882.6,1147.95 L883.9,1147.53 L885.2,1147.13 L886.5,1146.74 L887.7,1146.37 L889.0,1146.02 L890.3,1145.69 L891.6,1145.37 L892.9,1145.07 L894.1,1144.81 L895.4,1144.58 L896.7,1144.39 L898.0,1144.26 L899.3,1144.18 L900.5,1144.16 L901.8,1144.20 L903.1,1144.30 L904.4,1144.45 L905.7,1144.65 L906.9,1144.90 L908.2,1145.18 L909.5,1145.51 L910.8,1145.88 L912.0,1146.30 L913.3,1146.77 L914.6,1147.29 L915.9,1147.87 L917.2,1148.51 L918.4,1149.19 L919.7,1149.92 L921.0,1150.67 L922.3,1151.46 L923.6,1152.26 L924.8,1153.07 L926.1,1153.89 L927.4,1154.72 L928.7,1155.55 L930.0,1156.40 L931.2,1157.25 L932.5,1158.11 L933.8,1158.98 L935.1,1159.84 L936.4,1160.70 L937.6,1161.55 L938.9,1162.39 L940.2,1163.21 L941.5,1164.02 L942.8,1164.81 L944.0,1165.58 L945.3,1166.35 L946.6,1167.09 L947.9,1167.82 L949.2,1168.53 L950.4,1169.21 L951.7,1169.87 L953.0,1170.50 L954.3,1171.10 L955.6,1171.67 L956.8,1172.21 L958.1,1172.73 L959.4,1173.22 L960.7,1173.68 L962.0,1174.13 L963.2,1174.55 L964.5,1174.95 L965.8,1175.33 L967.1,1175.69 L968.4,1176.03 L969.6,1176.34 L970.9,1176.64 L972.2,1176.93 L973.5,1177.19 L974.8,1177.45 L976.0,1177.68 L977.3,1177.91 L978.6,1178.12 L979.9,1178.31 L981.2,1178.49 L982.4,1178.66 L983.7,1178.80 L985.0,1178.94 L986.3,1179.06 L987.6,1179.16 L988.8,1179.26 L990.1,1179.35 L991.4,1179.44 L992.7,1179.52 L994.0,1179.59 L995.2,1179.67 L996.5,1179.73 L997.8,1179.80 L999.1,1179.85 L1000.4,1179.91 L1001.6,1179.96 L1002.9,1180.00 L1004.2,1180.05 L1005.5,1180.09 L1006.8,1180.12 L1008.0,1180.15 L1009.3,1180.18 L1010.6,1180.20 L1011.9,1180.22 L1013.2,1180.24 L1014.4,1180.26 L1015.7,1180.28 L1017.0,1180.29 L1018.3,1180.30 L1019.6,1180.32 L1020.8,1180.33 L1022.1,1180.34 L1023.4,1180.35 L1024.7,1180.37 L1026.0,1180.38 L1027.2,1180.39 L1028.5,1180.41 L1029.8,1180.42 L1031.1,1180.44 L1032.4,1180.46 L1033.6,1180.49 L1034.9,1180.51 L1036.2,1180.54 L1037.5,1180.57 L1038.7,1180.60 L1040.0,1180.63 L1041.3,1180.67 L1042.6,1180.71 L1043.9,1180.75 L1045.1,1180.79 L1046.4,1180.83 L1047.7,1180.88 L1049.0,1180.92 L1050.3,1180.97 L1051.5,1181.02 L1052.8,1181.07 L1054.1,1181.11 L1055.4,1181.16 L1056.7,1181.22 L1057.9,1181.27 L1059.2,1181.32 L1060.5,1181.38 L1061.8,1181.44 L1063.1,1181.50 L1064.3,1181.57 L1065.6,1181.64 L1066.9,1181.71 L1068.2,1181.78 L1069.5,1181.85 L1070.7,1181.92 L1072.0,1181.98 L1073.3,1182.04 L1074.6,1182.09 L1075.9,1182.13 L1077.1,1182.16 L1078.4,1182.19 L1079.7,1182.20 L1081.0,1182.20 L1082.3,1182.20 L1083.5,1182.20 L1084.8,1182.20 L1086.1,1182.20 L1087.4,1182.20 L1088.7,1182.20 L1089.9,1182.20 L1091.2,1182.20 L1092.5,1182.20 L1093.8,1182.20 L1095.1,1182.20 L1096.3,1182.20 L1097.6,1182.20 L1098.9,1182.20 L1098.9,1182.2 L332.3,1182.2 Z" fill="#66CCEE" stroke="none"/>
<path d="M332.3,1182.20 L333.6,1182.20 L334.9,1182.20 L336.1,1182.20 L337.4,1182.20 L338.7,1182.20 L340.0,1182.20 L341.3,1182.20 L342.5,1182.20 L343.8,1182.20 L345.1,1182.20 L346.4,1182.20 L347.7,1182.20 L348.9,1182.20 L350.2,1182.20 L351.5,1182.20 L352.8,1182.20 L354.1,1182.20 L355.3,1182.20 L356.6,1182.20 L357.9,1182.20 L359.2,1182.20 L360.5,1182.20 L361.7,1182.20 L363.0,1182.20 L364.3,1182.20 L365.6,1182.20 L366.9,1182.20 L368.1,1182.20 L369.4,1182.20 L370.7,1182.20 L372.0,1182.20 L373.3,1182.20 L374.5,1182.20 L375.8,1182.20 L377.1,1182.20 L378.4,1182.20 L379.7,1182.20 L380.9,1182.20 L382.2,1182.20 L383.5,1182.20 L384.8,1182.20 L386.1,1182.20 L387.3,1182.20 L388.6,1182.20 L389.9,1182.20 L391.2,1182.20 L392.5,1182.20 L393.7,1182.20 L395.0,1182.20 L396.3,1182.20 L397.6,1182.20 L398.8,1182.20 L400.1,1182.20 L401.4,1182.20 L402.7,1182.20 L404.0,1182.20 L405.2,1182.20 L406.5,1182.20 L407.8,1182.20 L409.1,1182.20 L410.4,1182.20 L411.6,1182.20 L412.9,1182.20 L414.2,1182.20 L415.5,1182.20 L416.8,1182.20 L418.0,1182.20 L419.3,1182.20 L420.6,1182.20 L421.9,1182.20 L423.2,1182.20 L424.4,1182.20 L425.7,1182.20 L427.0,1182.20 L428.3,1182.20 L429.6,1182.20 L430.8,1182.20 L432.1,1182.20 L433.4,1182.20 L434.7,1182.20 L436.0,1182.20 L437.2,1182.20 L438.5,1182.20 L439.8,1182.20 L441.1,1182.20 L442.4,1182.20 L443.6,1182.20 L444.9,1182.20 L446.2,1182.20 L447.5,1182.20 L448.8,1182.20 L450.0,1182.20 L451.3,1182.20 L452.6,1182.20 L453.9,1182.20 L455.2,1182.20 L456.4,1182.20 L457.7,1182.20 L459.0,1182.20 L460.3,1182.20 L461.6,1182.20 L462.8,1182.20 L464.1,1182.20 L465.4,1182.20 L466.7,1182.20 L468.0,1182.20 L469.2,1182.20 L470.5,1182.20 L471.8,1182.20 L473.1,1182.20 L474.4,1182.20 L475.6,1182.20 L476.9,1182.20 L478.2,1182.20 L479.5,1182.20 L480.8,1182.20 L482.0,1182.20 L483.3,1182.20 L484.6,1182.20 L485.9,1182.20 L487.2,1182.20 L488.4,1182.20 L489.7,1182.20 L491.0,1182.20 L492.3,1182.20 L493.6,1182.20 L494.8,1182.20 L496.1,1182.20 L497.4,1182.20 L498.7,1182.20 L500.0,1182.20 L501.2,1182.20 L502.5,1182.19 L503.8,1182.18 L505.1,1182.17 L506.4,1182.16 L507.6,1182.14 L508.9,1182.13 L510.2,1182.11 L511.5,1182.09 L512.8,1182.06 L514.0,1182.03 L515.3,1182.01 L516.6,1181.98 L517.9,1181.94 L519.2,1181.91 L520.4,1181.87 L521.7,1181.83 L523.0,1181.79 L524.3,1181.75 L525.5,1181.71 L526.8,1181.67 L528.1,1181.62 L529.4,1181.57 L530.7,1181.51 L531.9,1181.45 L533.2,1181.39 L534.5,1181.31 L535.8,1181.23 L537.1,1181.14 L538.3,1181.04 L539.6,1180.93 L540.9,1180.81 L542.2,1180.70 L543.5,1180.58 L544.7,1180.47 L546.0,1180.36 L547.3,1180.26 L548.6,1180.15 L549.9,1180.06 L551.1,1179.96 L552.4,1179.87 L553.7,1179.78 L555.0,1179.70 L556.3,1179.62 L557.5,1179.55 L558.8,1179.50 L560.1,1179.45 L561.4,1179.42 L562.7,1179.40 L563.9,1179.40 L565.2,1179.41 L566.5,1179.44 L567.8,1179.48 L569.1,1179.54 L570.3,1179.61 L571.6,1179.68 L572.9,1179.76 L574.2,1179.85 L575.5,1179.94 L576.7,1180.03 L578.0,1180.13 L579.3,1180.22 L580.6,1180.32 L581.9,1180.43 L583.1,1180.54 L584.4,1180.64 L585.7,1180.75 L587.0,1180.86 L588.3,1180.97 L589.5,1181.07 L590.8,1181.16 L592.1,1181.25 L593.4,1181.32 L594.7,1181.38 L595.9,1181.44 L597.2,1181.49 L598.5,1181.54 L599.8,1181.58 L601.1,1181.61 L602.3,1181.65 L603.6,1181.68 L604.9,1181.71 L606.2,1181.74 L607.5,1181.77 L608.7,1181.79 L610.0,1181.81 L611.3,1181.83 L612.6,1181.85 L613.9,1181.86 L615.1,1181.88 L616.4,1181.89 L617.7,1181.89 L619.0,1181.90 L620.3,1181.90 L621.5,1181.90 L622.8,1181.90 L624.1,1181.89 L625.4,1181.89 L626.7,1181.88 L627.9,1181.87 L629.2,1181.86 L630.5,1181.85 L631.8,1181.83 L633.1,1181.82 L634.3,1181.80 L635.6,1181.78 L636.9,1181.77 L638.2,1181.75 L639.5,1181.73 L640.7,1181.70 L642.0,1181.68 L643.3,1181.66 L644.6,1181.64 L645.9,1181.61 L647.1,1181.59 L648.4,1181.56 L649.7,1181.53 L651.0,1181.50 L652.2,1181.47 L653.5,1181.44 L654.8,1181.41 L656.1,1181.37 L657.4,1181.32 L658.6,1181.27 L659.9,1181.22 L661.2,1181.16 L662.5,1181.10 L663.8,1181.04 L665.0,1180.97 L666.3,1180.91 L667.6,1180.86 L668.9,1180.81 L670.2,1180.77 L671.4,1180.73 L672.7,1180.71 L674.0,1180.70 L675.3,1180.70 L676.6,1180.72 L677.8,1180.74 L679.1,1180.78 L680.4,1180.83 L681.7,1180.88 L683.0,1180.94 L684.2,1181.01 L685.5,1181.07 L686.8,1181.13 L688.1,1181.20 L689.4,1181.25 L690.6,1181.30 L691.9,1181.34 L693.2,1181.37 L694.5,1181.39 L695.8,1181.41 L697.0,1181.42 L698.3,1181.42 L699.6,1181.42 L700.9,1181.42 L702.2,1181.41 L703.4,1181.41 L704.7,1181.41 L706.0,1181.40 L707.3,1181.40 L708.6,1181.40 L709.8,1181.40 L711.1,1181.40 L712.4,1181.41 L713.7,1181.41 L715.0,1181.41 L716.2,1181.41 L717.5,1181.41 L718.8,1181.39 L720.1,1181.36 L721.4,1181.30 L722.6,1181.23 L723.9,1181.14 L725.2,1181.02 L726.5,1180.89 L727.8,1180.73 L729.0,1180.57 L730.3,1180.39 L731.6,1180.21 L732.9,1180.02 L734.2,1179.81 L735.4,1179.60 L736.7,1179.38 L738.0,1179.14 L739.3,1178.90 L740.6,1178.64 L741.8,1178.38 L743.1,1178.11 L744.4,1177.83 L745.7,1177.54 L747.0,1177.25 L748.2,1176.94 L749.5,1176.64 L750.8,1176.32 L752.1,1176.00 L753.4,1175.66 L754.6,1175.32 L755.9,1174.97 L757.2,1174.61 L758.5,1174.23 L759.8,1173.85 L761.0,1173.45 L762.3,1173.04 L763.6,1172.62 L764.9,1172.18 L766.2,1171.72 L767.4,1171.25 L768.7,1170.75 L770.0,1170.23 L771.3,1169.70 L772.6,1169.14 L773.8,1168.56 L775.1,1167.96 L776.4,1167.34 L777.7,1166.71 L779.0,1166.05 L780.2,1165.38 L781.5,1164.69 L782.8,1163.99 L784.1,1163.28 L785.3,1162.56 L786.6,1161.84 L787.9,1161.12 L789.2,1160.41 L790.5,1159.71 L791.7,1159.03 L793.0,1158.36 L794.3,1157.70 L795.6,1157.07 L796.9,1156.46 L798.1,1155.89 L799.4,1155.35 L800.7,1154.86 L802.0,1154.41 L803.3,1154.01 L804.5,1153.64 L805.8,1153.31 L807.1,1153.02 L808.4,1152.76 L809.7,1152.54 L810.9,1152.37 L812.2,1152.24 L813.5,1152.16 L814.8,1152.13 L816.1,1152.14 L817.3,1152.21 L818.6,1152.31 L819.9,1152.45 L821.2,1152.62 L822.5,1152.83 L823.7,1153.06 L825.0,1153.33 L826.3,1153.62 L827.6,1153.96 L828.9,1154.32 L830.1,1154.72 L831.4,1155.13 L832.7,1155.56 L834.0,1155.98 L835.3,1156.38 L836.5,1156.75 L837.8,1157.10 L839.1,1157.40 L840.4,1157.67 L841.7,1157.89 L842.9,1158.07 L844.2,1158.21 L845.5,1158.30 L846.8,1158.34 L848.1,1158.32 L849.3,1158.25 L850.6,1158.14 L851.9,1157.98 L853.2,1157.78 L854.5,1157.55 L855.7,1157.29 L857.0,1157.00 L858.3,1156.68 L859.6,1156.33 L860.9,1155.96 L862.1,1155.56 L863.4,1155.12 L864.7,1154.66 L866.0,1154.18 L867.3,1153.69 L868.5,1153.18 L869.8,1152.68 L871.1,1152.18 L872.4,1151.68 L873.7,1151.19 L874.9,1150.70 L876.2,1150.22 L877.5,1149.75 L878.8,1149.29 L880.1,1148.83 L881.3,1148.38 L882.6,1147.95 L883.9,1147.53 L885.2,1147.13 L886.5,1146.74 L887.7,1146.37 L889.0,1146.02 L890.3,1145.69 L891.6,1145.37 L892.9,1145.07 L894.1,1144.81 L895.4,1144.58 L896.7,1144.39 L898.0,1144.26 L899.3,1144.18 L900.5,1144.16 L901.8,1144.20 L903.1,1144.30 L904.4,1144.45 L905.7,1144.65 L906.9,1144.90 L908.2,1145.18 L909.5,1145.51 L910.8,1145.88 L912.0,1146.30 L913.3,1146.77 L914.6,1147.29 L915.9,1147.87 L917.2,1148.51 L918.4,1149.19 L919.7,1149.92 L921.0,1150.67 L922.3,1151.46 L923.6,1152.26 L924.8,1153.07 L926.1,1153.89 L927.4,1154.72 L928.7,1155.55 L930.0,1156.40 L931.2,1157.25 L932.5,1158.11 L933.8,1158.98 L935.1,1159.84 L936.4,1160.70 L937.6,1161.55 L938.9,1162.39 L940.2,1163.21 L941.5,1164.02 L942.8,1164.81 L944.0,1165.58 L945.3,1166.35 L946.6,1167.09 L947.9,1167.82 L949.2,1168.53 L950.4,1169.21 L951.7,1169.87 L953.0,1170.50 L954.3,1171.10 L955.6,1171.67 L956.8,1172.21 L958.1,1172.73 L959.4,1173.22 L960.7,1173.68 L962.0,1174.13 L963.2,1174.55 L964.5,1174.95 L965.8,1175.33 L967.1,1175.69 L968.4,1176.03 L969.6,1176.34 L970.9,1176.64 L972.2,1176.93 L973.5,1177.19 L974.8,1177.45 L976.0,1177.68 L977.3,1177.91 L978.6,1178.12 L979.9,1178.31 L981.2,1178.49 L982.4,1178.66 L983.7,1178.80 L985.0,1178.94 L986.3,1179.06 L987.6,1179.16 L988.8,1179.26 L990.1,1179.35 L991.4,1179.44 L992.7,1179.52 L994.0,1179.59 L995.2,1179.67 L996.5,1179.73 L997.8,1179.80 L999.1,1179.85 L1000.4,1179.91 L1001.6,1179.96 L1002.9,1180.00 L1004.2,1180.05 L1005.5,1180.09 L1006.8,1180.12 L1008.0,1180.15 L1009.3,1180.18 L1010.6,1180.20 L1011.9,1180.22 L1013.2,1180.24 L1014.4,1180.26 L1015.7,1180.28 L1017.0,1180.29 L1018.3,1180.30 L1019.6,1180.32 L1020.8,1180.33 L1022.1,1180.34 L1023.4,1180.35 L1024.7,1180.37 L1026.0,1180.38 L1027.2,1180.39 L1028.5,1180.41 L1029.8,1180.42 L1031.1,1180.44 L1032.4,1180.46 L1033.6,1180.49 L1034.9,1180.51 L1036.2,1180.54 L1037.5,1180.57 L1038.7,1180.60 L1040.0,1180.63 L1041.3,1180.67 L1042.6,1180.71 L1043.9,1180.75 L1045.1,1180.79 L1046.4,1180.83 L1047.7,1180.88 L1049.0,1180.92 L1050.3,1180.97 L1051.5,1181.02 L1052.8,1181.07 L1054.1,1181.11 L1055.4,1181.16 L1056.7,1181.22 L1057.9,1181.27 L1059.2,1181.32 L1060.5,1181.38 L1061.8,1181.44 L1063.1,1181.50 L1064.3,1181.57 L1065.6,1181.64 L1066.9,1181.71 L1068.2,1181.78 L1069.5,1181.85 L1070.7,1181.92 L1072.0,1181.98 L1073.3,1182.04 L1074.6,1182.09 L1075.9,1182.13 L1077.1,1182.16 L1078.4,1182.19 L1079.7,1182.20 L1081.0,1182.20 L1082.3,1182.20 L1083.5,1182.20 L1084.8,1182.20 L1086.1,1182.20 L1087.4,1182.20 L1088.7,1182.20 L1089.9,1182.20 L1091.2,1182.20 L1092.5,1182.20 L1093.8,1182.20 L1095.1,1182.20 L1096.3,1182.20 L1097.6,1182.20 L1098.9,1182.20" fill="none" stroke="#000" stroke-width="2.85" stroke-linejoin="round" stroke-linecap="butt"/>
<line x1="332.3" x2="1098.9" y1="1182.2" y2="1182.2" stroke="#000" stroke-width="2.6" stroke-linecap="round"/>
<g fill="#66CCEE">
<circle cx="760.4" cy="1217.1" r="2.8"/><circle cx="764.6" cy="1228.2" r="2.8"/><circle cx="758.7" cy="1258.5" r="2.8"/><circle cx="766.7" cy="1257.9" r="2.8"/><circle cx="793.9" cy="1227.3" r="2.8"/><circle cx="803.4" cy="1218.2" r="2.8"/><circle cx="818.6" cy="1216.7" r="2.8"/><circle cx="814.7" cy="1221.4" r="2.8"/><circle cx="830.1" cy="1226.2" r="2.8"/><circle cx="791.9" cy="1238.2" r="2.8"/><circle cx="792.6" cy="1240.2" r="2.8"/><circle cx="796.5" cy="1240.6" r="2.8"/><circle cx="812.5" cy="1237.7" r="2.8"/><circle cx="818.4" cy="1236.7" r="2.8"/><circle cx="819.4" cy="1240.2" r="2.8"/><circle cx="811.6" cy="1248.6" r="2.8"/><circle cx="821.4" cy="1248.4" r="2.8"/><circle cx="827.1" cy="1249.7" r="2.8"/><circle cx="816.8" cy="1252.3" r="2.8"/><circle cx="824.0" cy="1252.9" r="2.8"/><circle cx="831.0" cy="1254.5" r="2.8"/><circle cx="818.6" cy="1256.6" r="2.8"/><circle cx="792.3" cy="1259.2" r="2.8"/><circle cx="795.2" cy="1260.0" r="2.8"/><circle cx="823.8" cy="1267.3" r="2.8"/><circle cx="806.4" cy="1272.2" r="2.8"/><circle cx="788.8" cy="1276.8" r="2.8"/><circle cx="795.3" cy="1275.5" r="2.8"/><circle cx="814.2" cy="1275.1" r="2.8"/><circle cx="821.0" cy="1273.5" r="2.8"/><circle cx="823.2" cy="1274.2" r="2.8"/><circle cx="832.0" cy="1276.1" r="2.8"/><circle cx="802.1" cy="1280.9" r="2.8"/><circle cx="803.1" cy="1282.2" r="2.8"/><circle cx="850.7" cy="1211.5" r="2.8"/><circle cx="859.4" cy="1211.5" r="2.8"/><circle cx="855.7" cy="1216.5" r="2.8"/><circle cx="850.5" cy="1222.1" r="2.8"/><circle cx="849.6" cy="1231.7" r="2.8"/><circle cx="857.2" cy="1231.1" r="2.8"/><circle cx="873.4" cy="1218.0" r="2.8"/><circle cx="872.4" cy="1223.4" r="2.8"/><circle cx="878.0" cy="1223.6" r="2.8"/><circle cx="873.3" cy="1226.6" r="2.8"/><circle cx="871.4" cy="1230.2" r="2.8"/><circle cx="888.0" cy="1231.5" r="2.8"/><circle cx="872.4" cy="1237.3" r="2.8"/><circle cx="870.1" cy="1243.6" r="2.8"/><circle cx="875.9" cy="1250.2" r="2.8"/><circle cx="861.3" cy="1254.9" r="2.8"/><circle cx="857.2" cy="1258.5" r="2.8"/><circle cx="857.8" cy="1262.3" r="2.8"/><circle cx="867.8" cy="1263.1" r="2.8"/><circle cx="887.1" cy="1264.7" r="2.8"/><circle cx="893.6" cy="1264.3" r="2.8"/><circle cx="890.6" cy="1270.3" r="2.8"/><circle cx="881.9" cy="1277.9" r="2.8"/><circle cx="880.9" cy="1280.3" r="2.8"/><circle cx="898.6" cy="1221.0" r="2.8"/><circle cx="904.9" cy="1216.8" r="2.8"/><circle cx="906.0" cy="1213.8" r="2.8"/><circle cx="908.1" cy="1215.1" r="2.8"/><circle cx="909.7" cy="1212.4" r="2.8"/><circle cx="931.9" cy="1207.8" r="2.8"/><circle cx="938.1" cy="1208.8" r="2.8"/><circle cx="951.8" cy="1220.0" r="2.8"/><circle cx="940.0" cy="1224.9" r="2.8"/><circle cx="924.3" cy="1226.1" r="2.8"/><circle cx="947.4" cy="1227.6" r="2.8"/><circle cx="911.1" cy="1229.2" r="2.8"/><circle cx="903.8" cy="1231.9" r="2.8"/><circle cx="962.5" cy="1232.1" r="2.8"/><circle cx="984.2" cy="1223.8" r="2.8"/><circle cx="997.4" cy="1208.6" r="2.8"/><circle cx="898.5" cy="1238.5" r="2.8"/><circle cx="909.4" cy="1238.5" r="2.8"/><circle cx="910.6" cy="1240.4" r="2.8"/><circle cx="895.7" cy="1244.4" r="2.8"/><circle cx="901.5" cy="1245.3" r="2.8"/><circle cx="898.8" cy="1250.3" r="2.8"/><circle cx="914.3" cy="1248.8" r="2.8"/><circle cx="919.4" cy="1247.5" r="2.8"/><circle cx="1035.4" cy="1248.5" r="2.8"/><circle cx="939.9" cy="1254.9" r="2.8"/><circle cx="911.1" cy="1257.2" r="2.8"/><circle cx="915.1" cy="1256.1" r="2.8"/><circle cx="897.2" cy="1260.6" r="2.8"/><circle cx="899.0" cy="1261.9" r="2.8"/><circle cx="905.6" cy="1263.5" r="2.8"/><circle cx="909.7" cy="1263.8" r="2.8"/><circle cx="931.2" cy="1262.8" r="2.8"/><circle cx="930.4" cy="1266.5" r="2.8"/><circle cx="924.9" cy="1273.1" r="2.8"/><circle cx="931.7" cy="1273.6" r="2.8"/><circle cx="911.1" cy="1281.0" r="2.8"/><circle cx="584.0" cy="1225.6" r="2.8"/><circle cx="558.3" cy="1238.9" r="2.8"/><circle cx="556.7" cy="1254.7" r="2.8"/><circle cx="678.9" cy="1219.3" r="2.8"/>
</g>
<path d="M332.3,1394.50 L333.6,1394.49 L334.9,1394.47 L336.1,1394.45 L337.4,1394.42 L338.7,1394.40 L340.0,1394.37 L341.3,1394.34 L342.5,1394.31 L343.8,1394.28 L345.1,1394.25 L346.4,1394.22 L347.7,1394.19 L348.9,1394.16 L350.2,1394.12 L351.5,1394.09 L352.8,1394.05 L354.1,1394.01 L355.3,1393.97 L356.6,1393.93 L357.9,1393.89 L359.2,1393.85 L360.5,1393.81 L361.7,1393.76 L363.0,1393.72 L364.3,1393.68 L365.6,1393.63 L366.9,1393.58 L368.1,1393.54 L369.4,1393.49 L370.7,1393.44 L372.0,1393.39 L373.3,1393.35 L374.5,1393.30 L375.8,1393.25 L377.1,1393.20 L378.4,1393.15 L379.7,1393.10 L380.9,1393.04 L382.2,1392.99 L383.5,1392.94 L384.8,1392.88 L386.1,1392.82 L387.3,1392.77 L388.6,1392.71 L389.9,1392.65 L391.2,1392.60 L392.5,1392.54 L393.7,1392.49 L395.0,1392.44 L396.3,1392.40 L397.6,1392.35 L398.8,1392.31 L400.1,1392.27 L401.4,1392.24 L402.7,1392.21 L404.0,1392.18 L405.2,1392.15 L406.5,1392.13 L407.8,1392.11 L409.1,1392.09 L410.4,1392.07 L411.6,1392.05 L412.9,1392.03 L414.2,1392.02 L415.5,1392.01 L416.8,1392.00 L418.0,1391.99 L419.3,1392.00 L420.6,1392.00 L421.9,1392.02 L423.2,1392.04 L424.4,1392.07 L425.7,1392.10 L427.0,1392.13 L428.3,1392.17 L429.6,1392.20 L430.8,1392.23 L432.1,1392.23 L433.4,1392.22 L434.7,1392.17 L436.0,1392.09 L437.2,1391.98 L438.5,1391.86 L439.8,1391.71 L441.1,1391.57 L442.4,1391.43 L443.6,1391.31 L444.9,1391.18 L446.2,1391.06 L447.5,1390.92 L448.8,1390.77 L450.0,1390.61 L451.3,1390.42 L452.6,1390.21 L453.9,1389.99 L455.2,1389.75 L456.4,1389.50 L457.7,1389.23 L459.0,1388.96 L460.3,1388.67 L461.6,1388.37 L462.8,1388.06 L464.1,1387.73 L465.4,1387.39 L466.7,1387.03 L468.0,1386.66 L469.2,1386.28 L470.5,1385.89 L471.8,1385.49 L473.1,1385.08 L474.4,1384.67 L475.6,1384.26 L476.9,1383.85 L478.2,1383.44 L479.5,1383.04 L480.8,1382.64 L482.0,1382.25 L483.3,1381.86 L484.6,1381.49 L485.9,1381.14 L487.2,1380.80 L488.4,1380.49 L489.7,1380.20 L491.0,1379.94 L492.3,1379.70 L493.6,1379.49 L494.8,1379.30 L496.1,1379.13 L497.4,1378.98 L498.7,1378.85 L500.0,1378.74 L501.2,1378.65 L502.5,1378.57 L503.8,1378.51 L505.1,1378.48 L506.4,1378.47 L507.6,1378.48 L508.9,1378.52 L510.2,1378.59 L511.5,1378.67 L512.8,1378.78 L514.0,1378.91 L515.3,1379.06 L516.6,1379.23 L517.9,1379.42 L519.2,1379.63 L520.4,1379.86 L521.7,1380.10 L523.0,1380.35 L524.3,1380.61 L525.5,1380.88 L526.8,1381.16 L528.1,1381.44 L529.4,1381.72 L530.7,1382.00 L531.9,1382.28 L533.2,1382.56 L534.5,1382.83 L535.8,1383.10 L537.1,1383.35 L538.3,1383.59 L539.6,1383.83 L540.9,1384.04 L542.2,1384.25 L543.5,1384.43 L544.7,1384.61 L546.0,1384.76 L547.3,1384.90 L548.6,1385.02 L549.9,1385.13 L551.1,1385.22 L552.4,1385.30 L553.7,1385.35 L555.0,1385.39 L556.3,1385.42 L557.5,1385.42 L558.8,1385.41 L560.1,1385.38 L561.4,1385.33 L562.7,1385.27 L563.9,1385.21 L565.2,1385.13 L566.5,1385.03 L567.8,1384.93 L569.1,1384.83 L570.3,1384.71 L571.6,1384.60 L572.9,1384.48 L574.2,1384.37 L575.5,1384.26 L576.7,1384.16 L578.0,1384.07 L579.3,1383.99 L580.6,1383.93 L581.9,1383.88 L583.1,1383.85 L584.4,1383.83 L585.7,1383.82 L587.0,1383.83 L588.3,1383.84 L589.5,1383.87 L590.8,1383.92 L592.1,1383.98 L593.4,1384.06 L594.7,1384.15 L595.9,1384.25 L597.2,1384.36 L598.5,1384.46 L599.8,1384.57 L601.1,1384.66 L602.3,1384.76 L603.6,1384.85 L604.9,1384.93 L606.2,1385.01 L607.5,1385.09 L608.7,1385.16 L610.0,1385.22 L611.3,1385.28 L612.6,1385.33 L613.9,1385.37 L615.1,1385.40 L616.4,1385.41 L617.7,1385.42 L619.0,1385.41 L620.3,1385.39 L621.5,1385.36 L622.8,1385.32 L624.1,1385.26 L625.4,1385.20 L626.7,1385.14 L627.9,1385.06 L629.2,1384.99 L630.5,1384.91 L631.8,1384.84 L633.1,1384.76 L634.3,1384.68 L635.6,1384.59 L636.9,1384.51 L638.2,1384.43 L639.5,1384.34 L640.7,1384.25 L642.0,1384.17 L643.3,1384.08 L644.6,1384.00 L645.9,1383.93 L647.1,1383.85 L648.4,1383.79 L649.7,1383.72 L651.0,1383.67 L652.2,1383.61 L653.5,1383.56 L654.8,1383.52 L656.1,1383.47 L657.4,1383.43 L658.6,1383.39 L659.9,1383.34 L661.2,1383.30 L662.5,1383.26 L663.8,1383.21 L665.0,1383.16 L666.3,1383.10 L667.6,1383.05 L668.9,1382.99 L670.2,1382.93 L671.4,1382.87 L672.7,1382.82 L674.0,1382.77 L675.3,1382.74 L676.6,1382.71 L677.8,1382.71 L679.1,1382.71 L680.4,1382.74 L681.7,1382.78 L683.0,1382.84 L684.2,1382.90 L685.5,1382.98 L686.8,1383.06 L688.1,1383.15 L689.4,1383.23 L690.6,1383.32 L691.9,1383.41 L693.2,1383.49 L694.5,1383.58 L695.8,1383.66 L697.0,1383.73 L698.3,1383.80 L699.6,1383.86 L700.9,1383.91 L702.2,1383.94 L703.4,1383.96 L704.7,1383.97 L706.0,1383.96 L707.3,1383.95 L708.6,1383.91 L709.8,1383.86 L711.1,1383.79 L712.4,1383.69 L713.7,1383.57 L715.0,1383.42 L716.2,1383.26 L717.5,1383.08 L718.8,1382.89 L720.1,1382.70 L721.4,1382.51 L722.6,1382.33 L723.9,1382.15 L725.2,1381.97 L726.5,1381.80 L727.8,1381.63 L729.0,1381.47 L730.3,1381.31 L731.6,1381.15 L732.9,1381.00 L734.2,1380.84 L735.4,1380.69 L736.7,1380.55 L738.0,1380.40 L739.3,1380.26 L740.6,1380.12 L741.8,1379.97 L743.1,1379.83 L744.4,1379.69 L745.7,1379.54 L747.0,1379.39 L748.2,1379.24 L749.5,1379.08 L750.8,1378.93 L752.1,1378.77 L753.4,1378.62 L754.6,1378.47 L755.9,1378.32 L757.2,1378.19 L758.5,1378.06 L759.8,1377.94 L761.0,1377.83 L762.3,1377.72 L763.6,1377.62 L764.9,1377.53 L766.2,1377.45 L767.4,1377.37 L768.7,1377.29 L770.0,1377.23 L771.3,1377.18 L772.6,1377.14 L773.8,1377.11 L775.1,1377.10 L776.4,1377.10 L777.7,1377.12 L779.0,1377.15 L780.2,1377.19 L781.5,1377.25 L782.8,1377.32 L784.1,1377.40 L785.3,1377.49 L786.6,1377.58 L787.9,1377.69 L789.2,1377.80 L790.5,1377.91 L791.7,1378.04 L793.0,1378.17 L794.3,1378.31 L795.6,1378.47 L796.9,1378.63 L798.1,1378.80 L799.4,1378.99 L800.7,1379.18 L802.0,1379.37 L803.3,1379.57 L804.5,1379.77 L805.8,1379.96 L807.1,1380.15 L808.4,1380.35 L809.7,1380.53 L810.9,1380.72 L812.2,1380.90 L813.5,1381.09 L814.8,1381.27 L816.1,1381.45 L817.3,1381.62 L818.6,1381.80 L819.9,1381.97 L821.2,1382.14 L822.5,1382.31 L823.7,1382.47 L825.0,1382.63 L826.3,1382.78 L827.6,1382.93 L828.9,1383.07 L830.1,1383.22 L831.4,1383.36 L832.7,1383.50 L834.0,1383.64 L835.3,1383.77 L836.5,1383.90 L837.8,1384.01 L839.1,1384.11 L840.4,1384.20 L841.7,1384.27 L842.9,1384.32 L844.2,1384.35 L845.5,1384.36 L846.8,1384.35 L848.1,1384.33 L849.3,1384.28 L850.6,1384.23 L851.9,1384.17 L853.2,1384.10 L854.5,1384.02 L855.7,1383.95 L857.0,1383.88 L858.3,1383.82 L859.6,1383.77 L860.9,1383.72 L862.1,1383.68 L863.4,1383.65 L864.7,1383.62 L866.0,1383.60 L867.3,1383.60 L868.5,1383.60 L869.8,1383.63 L871.1,1383.68 L872.4,1383.76 L873.7,1383.87 L874.9,1384.01 L876.2,1384.17 L877.5,1384.37 L878.8,1384.58 L880.1,1384.79 L881.3,1385.02 L882.6,1385.24 L883.9,1385.47 L885.2,1385.70 L886.5,1385.92 L887.7,1386.15 L889.0,1386.37 L890.3,1386.60 L891.6,1386.82 L892.9,1387.04 L894.1,1387.26 L895.4,1387.48 L896.7,1387.70 L898.0,1387.92 L899.3,1388.13 L900.5,1388.34 L901.8,1388.56 L903.1,1388.76 L904.4,1388.97 L905.7,1389.17 L906.9,1389.37 L908.2,1389.56 L909.5,1389.75 L910.8,1389.93 L912.0,1390.11 L913.3,1390.28 L914.6,1390.45 L915.9,1390.62 L917.2,1390.78 L918.4,1390.93 L919.7,1391.09 L921.0,1391.24 L922.3,1391.38 L923.6,1391.53 L924.8,1391.66 L926.1,1391.80 L927.4,1391.93 L928.7,1392.07 L930.0,1392.20 L931.2,1392.32 L932.5,1392.45 L933.8,1392.57 L935.1,1392.70 L936.4,1392.81 L937.6,1392.93 L938.9,1393.04 L940.2,1393.14 L941.5,1393.24 L942.8,1393.33 L944.0,1393.41 L945.3,1393.49 L946.6,1393.56 L947.9,1393.62 L949.2,1393.68 L950.4,1393.74 L951.7,1393.79 L953.0,1393.84 L954.3,1393.88 L955.6,1393.93 L956.8,1393.97 L958.1,1394.01 L959.4,1394.05 L960.7,1394.08 L962.0,1394.11 L963.2,1394.14 L964.5,1394.17 L965.8,1394.19 L967.1,1394.21 L968.4,1394.23 L969.6,1394.25 L970.9,1394.26 L972.2,1394.27 L973.5,1394.28 L974.8,1394.29 L976.0,1394.30 L977.3,1394.31 L978.6,1394.32 L979.9,1394.33 L981.2,1394.33 L982.4,1394.34 L983.7,1394.35 L985.0,1394.36 L986.3,1394.36 L987.6,1394.37 L988.8,1394.38 L990.1,1394.39 L991.4,1394.39 L992.7,1394.40 L994.0,1394.40 L995.2,1394.41 L996.5,1394.42 L997.8,1394.42 L999.1,1394.43 L1000.4,1394.43 L1001.6,1394.44 L1002.9,1394.44 L1004.2,1394.45 L1005.5,1394.45 L1006.8,1394.45 L1008.0,1394.46 L1009.3,1394.46 L1010.6,1394.47 L1011.9,1394.47 L1013.2,1394.47 L1014.4,1394.48 L1015.7,1394.48 L1017.0,1394.48 L1018.3,1394.48 L1019.6,1394.49 L1020.8,1394.49 L1022.1,1394.49 L1023.4,1394.49 L1024.7,1394.49 L1026.0,1394.50 L1027.2,1394.50 L1028.5,1394.50 L1029.8,1394.50 L1031.1,1394.50 L1032.4,1394.50 L1033.6,1394.50 L1034.9,1394.50 L1036.2,1394.50 L1037.5,1394.50 L1038.7,1394.50 L1040.0,1394.50 L1041.3,1394.50 L1042.6,1394.50 L1043.9,1394.50 L1045.1,1394.50 L1046.4,1394.50 L1047.7,1394.50 L1049.0,1394.50 L1050.3,1394.50 L1051.5,1394.50 L1052.8,1394.50 L1054.1,1394.50 L1055.4,1394.50 L1056.7,1394.50 L1057.9,1394.50 L1059.2,1394.50 L1060.5,1394.50 L1061.8,1394.50 L1063.1,1394.50 L1064.3,1394.50 L1065.6,1394.50 L1066.9,1394.50 L1068.2,1394.50 L1069.5,1394.50 L1070.7,1394.50 L1072.0,1394.50 L1073.3,1394.50 L1074.6,1394.50 L1075.9,1394.50 L1077.1,1394.50 L1078.4,1394.50 L1079.7,1394.50 L1081.0,1394.50 L1082.3,1394.50 L1083.5,1394.50 L1084.8,1394.50 L1086.1,1394.50 L1087.4,1394.50 L1088.7,1394.50 L1089.9,1394.50 L1091.2,1394.50 L1092.5,1394.50 L1093.8,1394.50 L1095.1,1394.50 L1096.3,1394.50 L1097.6,1394.50 L1098.9,1394.50 L1098.9,1394.5 L332.3,1394.5 Z" fill="#AA3377" stroke="none"/>
<path d="M332.3,1394.50 L333.6,1394.49 L334.9,1394.47 L336.1,1394.45 L337.4,1394.42 L338.7,1394.40 L340.0,1394.37 L341.3,1394.34 L342.5,1394.31 L343.8,1394.28 L345.1,1394.25 L346.4,1394.22 L347.7,1394.19 L348.9,1394.16 L350.2,1394.12 L351.5,1394.09 L352.8,1394.05 L354.1,1394.01 L355.3,1393.97 L356.6,1393.93 L357.9,1393.89 L359.2,1393.85 L360.5,1393.81 L361.7,1393.76 L363.0,1393.72 L364.3,1393.68 L365.6,1393.63 L366.9,1393.58 L368.1,1393.54 L369.4,1393.49 L370.7,1393.44 L372.0,1393.39 L373.3,1393.35 L374.5,1393.30 L375.8,1393.25 L377.1,1393.20 L378.4,1393.15 L379.7,1393.10 L380.9,1393.04 L382.2,1392.99 L383.5,1392.94 L384.8,1392.88 L386.1,1392.82 L387.3,1392.77 L388.6,1392.71 L389.9,1392.65 L391.2,1392.60 L392.5,1392.54 L393.7,1392.49 L395.0,1392.44 L396.3,1392.40 L397.6,1392.35 L398.8,1392.31 L400.1,1392.27 L401.4,1392.24 L402.7,1392.21 L404.0,1392.18 L405.2,1392.15 L406.5,1392.13 L407.8,1392.11 L409.1,1392.09 L410.4,1392.07 L411.6,1392.05 L412.9,1392.03 L414.2,1392.02 L415.5,1392.01 L416.8,1392.00 L418.0,1391.99 L419.3,1392.00 L420.6,1392.00 L421.9,1392.02 L423.2,1392.04 L424.4,1392.07 L425.7,1392.10 L427.0,1392.13 L428.3,1392.17 L429.6,1392.20 L430.8,1392.23 L432.1,1392.23 L433.4,1392.22 L434.7,1392.17 L436.0,1392.09 L437.2,1391.98 L438.5,1391.86 L439.8,1391.71 L441.1,1391.57 L442.4,1391.43 L443.6,1391.31 L444.9,1391.18 L446.2,1391.06 L447.5,1390.92 L448.8,1390.77 L450.0,1390.61 L451.3,1390.42 L452.6,1390.21 L453.9,1389.99 L455.2,1389.75 L456.4,1389.50 L457.7,1389.23 L459.0,1388.96 L460.3,1388.67 L461.6,1388.37 L462.8,1388.06 L464.1,1387.73 L465.4,1387.39 L466.7,1387.03 L468.0,1386.66 L469.2,1386.28 L470.5,1385.89 L471.8,1385.49 L473.1,1385.08 L474.4,1384.67 L475.6,1384.26 L476.9,1383.85 L478.2,1383.44 L479.5,1383.04 L480.8,1382.64 L482.0,1382.25 L483.3,1381.86 L484.6,1381.49 L485.9,1381.14 L487.2,1380.80 L488.4,1380.49 L489.7,1380.20 L491.0,1379.94 L492.3,1379.70 L493.6,1379.49 L494.8,1379.30 L496.1,1379.13 L497.4,1378.98 L498.7,1378.85 L500.0,1378.74 L501.2,1378.65 L502.5,1378.57 L503.8,1378.51 L505.1,1378.48 L506.4,1378.47 L507.6,1378.48 L508.9,1378.52 L510.2,1378.59 L511.5,1378.67 L512.8,1378.78 L514.0,1378.91 L515.3,1379.06 L516.6,1379.23 L517.9,1379.42 L519.2,1379.63 L520.4,1379.86 L521.7,1380.10 L523.0,1380.35 L524.3,1380.61 L525.5,1380.88 L526.8,1381.16 L528.1,1381.44 L529.4,1381.72 L530.7,1382.00 L531.9,1382.28 L533.2,1382.56 L534.5,1382.83 L535.8,1383.10 L537.1,1383.35 L538.3,1383.59 L539.6,1383.83 L540.9,1384.04 L542.2,1384.25 L543.5,1384.43 L544.7,1384.61 L546.0,1384.76 L547.3,1384.90 L548.6,1385.02 L549.9,1385.13 L551.1,1385.22 L552.4,1385.30 L553.7,1385.35 L555.0,1385.39 L556.3,1385.42 L557.5,1385.42 L558.8,1385.41 L560.1,1385.38 L561.4,1385.33 L562.7,1385.27 L563.9,1385.21 L565.2,1385.13 L566.5,1385.03 L567.8,1384.93 L569.1,1384.83 L570.3,1384.71 L571.6,1384.60 L572.9,1384.48 L574.2,1384.37 L575.5,1384.26 L576.7,1384.16 L578.0,1384.07 L579.3,1383.99 L580.6,1383.93 L581.9,1383.88 L583.1,1383.85 L584.4,1383.83 L585.7,1383.82 L587.0,1383.83 L588.3,1383.84 L589.5,1383.87 L590.8,1383.92 L592.1,1383.98 L593.4,1384.06 L594.7,1384.15 L595.9,1384.25 L597.2,1384.36 L598.5,1384.46 L599.8,1384.57 L601.1,1384.66 L602.3,1384.76 L603.6,1384.85 L604.9,1384.93 L606.2,1385.01 L607.5,1385.09 L608.7,1385.16 L610.0,1385.22 L611.3,1385.28 L612.6,1385.33 L613.9,1385.37 L615.1,1385.40 L616.4,1385.41 L617.7,1385.42 L619.0,1385.41 L620.3,1385.39 L621.5,1385.36 L622.8,1385.32 L624.1,1385.26 L625.4,1385.20 L626.7,1385.14 L627.9,1385.06 L629.2,1384.99 L630.5,1384.91 L631.8,1384.84 L633.1,1384.76 L634.3,1384.68 L635.6,1384.59 L636.9,1384.51 L638.2,1384.43 L639.5,1384.34 L640.7,1384.25 L642.0,1384.17 L643.3,1384.08 L644.6,1384.00 L645.9,1383.93 L647.1,1383.85 L648.4,1383.79 L649.7,1383.72 L651.0,1383.67 L652.2,1383.61 L653.5,1383.56 L654.8,1383.52 L656.1,1383.47 L657.4,1383.43 L658.6,1383.39 L659.9,1383.34 L661.2,1383.30 L662.5,1383.26 L663.8,1383.21 L665.0,1383.16 L666.3,1383.10 L667.6,1383.05 L668.9,1382.99 L670.2,1382.93 L671.4,1382.87 L672.7,1382.82 L674.0,1382.77 L675.3,1382.74 L676.6,1382.71 L677.8,1382.71 L679.1,1382.71 L680.4,1382.74 L681.7,1382.78 L683.0,1382.84 L684.2,1382.90 L685.5,1382.98 L686.8,1383.06 L688.1,1383.15 L689.4,1383.23 L690.6,1383.32 L691.9,1383.41 L693.2,1383.49 L694.5,1383.58 L695.8,1383.66 L697.0,1383.73 L698.3,1383.80 L699.6,1383.86 L700.9,1383.91 L702.2,1383.94 L703.4,1383.96 L704.7,1383.97 L706.0,1383.96 L707.3,1383.95 L708.6,1383.91 L709.8,1383.86 L711.1,1383.79 L712.4,1383.69 L713.7,1383.57 L715.0,1383.42 L716.2,1383.26 L717.5,1383.08 L718.8,1382.89 L720.1,1382.70 L721.4,1382.51 L722.6,1382.33 L723.9,1382.15 L725.2,1381.97 L726.5,1381.80 L727.8,1381.63 L729.0,1381.47 L730.3,1381.31 L731.6,1381.15 L732.9,1381.00 L734.2,1380.84 L735.4,1380.69 L736.7,1380.55 L738.0,1380.40 L739.3,1380.26 L740.6,1380.12 L741.8,1379.97 L743.1,1379.83 L744.4,1379.69 L745.7,1379.54 L747.0,1379.39 L748.2,1379.24 L749.5,1379.08 L750.8,1378.93 L752.1,1378.77 L753.4,1378.62 L754.6,1378.47 L755.9,1378.32 L757.2,1378.19 L758.5,1378.06 L759.8,1377.94 L761.0,1377.83 L762.3,1377.72 L763.6,1377.62 L764.9,1377.53 L766.2,1377.45 L767.4,1377.37 L768.7,1377.29 L770.0,1377.23 L771.3,1377.18 L772.6,1377.14 L773.8,1377.11 L775.1,1377.10 L776.4,1377.10 L777.7,1377.12 L779.0,1377.15 L780.2,1377.19 L781.5,1377.25 L782.8,1377.32 L784.1,1377.40 L785.3,1377.49 L786.6,1377.58 L787.9,1377.69 L789.2,1377.80 L790.5,1377.91 L791.7,1378.04 L793.0,1378.17 L794.3,1378.31 L795.6,1378.47 L796.9,1378.63 L798.1,1378.80 L799.4,1378.99 L800.7,1379.18 L802.0,1379.37 L803.3,1379.57 L804.5,1379.77 L805.8,1379.96 L807.1,1380.15 L808.4,1380.35 L809.7,1380.53 L810.9,1380.72 L812.2,1380.90 L813.5,1381.09 L814.8,1381.27 L816.1,1381.45 L817.3,1381.62 L818.6,1381.80 L819.9,1381.97 L821.2,1382.14 L822.5,1382.31 L823.7,1382.47 L825.0,1382.63 L826.3,1382.78 L827.6,1382.93 L828.9,1383.07 L830.1,1383.22 L831.4,1383.36 L832.7,1383.50 L834.0,1383.64 L835.3,1383.77 L836.5,1383.90 L837.8,1384.01 L839.1,1384.11 L840.4,1384.20 L841.7,1384.27 L842.9,1384.32 L844.2,1384.35 L845.5,1384.36 L846.8,1384.35 L848.1,1384.33 L849.3,1384.28 L850.6,1384.23 L851.9,1384.17 L853.2,1384.10 L854.5,1384.02 L855.7,1383.95 L857.0,1383.88 L858.3,1383.82 L859.6,1383.77 L860.9,1383.72 L862.1,1383.68 L863.4,1383.65 L864.7,1383.62 L866.0,1383.60 L867.3,1383.60 L868.5,1383.60 L869.8,1383.63 L871.1,1383.68 L872.4,1383.76 L873.7,1383.87 L874.9,1384.01 L876.2,1384.17 L877.5,1384.37 L878.8,1384.58 L880.1,1384.79 L881.3,1385.02 L882.6,1385.24 L883.9,1385.47 L885.2,1385.70 L886.5,1385.92 L887.7,1386.15 L889.0,1386.37 L890.3,1386.60 L891.6,1386.82 L892.9,1387.04 L894.1,1387.26 L895.4,1387.48 L896.7,1387.70 L898.0,1387.92 L899.3,1388.13 L900.5,1388.34 L901.8,1388.56 L903.1,1388.76 L904.4,1388.97 L905.7,1389.17 L906.9,1389.37 L908.2,1389.56 L909.5,1389.75 L910.8,1389.93 L912.0,1390.11 L913.3,1390.28 L914.6,1390.45 L915.9,1390.62 L917.2,1390.78 L918.4,1390.93 L919.7,1391.09 L921.0,1391.24 L922.3,1391.38 L923.6,1391.53 L924.8,1391.66 L926.1,1391.80 L927.4,1391.93 L928.7,1392.07 L930.0,1392.20 L931.2,1392.32 L932.5,1392.45 L933.8,1392.57 L935.1,1392.70 L936.4,1392.81 L937.6,1392.93 L938.9,1393.04 L940.2,1393.14 L941.5,1393.24 L942.8,1393.33 L944.0,1393.41 L945.3,1393.49 L946.6,1393.56 L947.9,1393.62 L949.2,1393.68 L950.4,1393.74 L951.7,1393.79 L953.0,1393.84 L954.3,1393.88 L955.6,1393.93 L956.8,1393.97 L958.1,1394.01 L959.4,1394.05 L960.7,1394.08 L962.0,1394.11 L963.2,1394.14 L964.5,1394.17 L965.8,1394.19 L967.1,1394.21 L968.4,1394.23 L969.6,1394.25 L970.9,1394.26 L972.2,1394.27 L973.5,1394.28 L974.8,1394.29 L976.0,1394.30 L977.3,1394.31 L978.6,1394.32 L979.9,1394.33 L981.2,1394.33 L982.4,1394.34 L983.7,1394.35 L985.0,1394.36 L986.3,1394.36 L987.6,1394.37 L988.8,1394.38 L990.1,1394.39 L991.4,1394.39 L992.7,1394.40 L994.0,1394.40 L995.2,1394.41 L996.5,1394.42 L997.8,1394.42 L999.1,1394.43 L1000.4,1394.43 L1001.6,1394.44 L1002.9,1394.44 L1004.2,1394.45 L1005.5,1394.45 L1006.8,1394.45 L1008.0,1394.46 L1009.3,1394.46 L1010.6,1394.47 L1011.9,1394.47 L1013.2,1394.47 L1014.4,1394.48 L1015.7,1394.48 L1017.0,1394.48 L1018.3,1394.48 L1019.6,1394.49 L1020.8,1394.49 L1022.1,1394.49 L1023.4,1394.49 L1024.7,1394.49 L1026.0,1394.50 L1027.2,1394.50 L1028.5,1394.50 L1029.8,1394.50 L1031.1,1394.50 L1032.4,1394.50 L1033.6,1394.50 L1034.9,1394.50 L1036.2,1394.50 L1037.5,1394.50 L1038.7,1394.50 L1040.0,1394.50 L1041.3,1394.50 L1042.6,1394.50 L1043.9,1394.50 L1045.1,1394.50 L1046.4,1394.50 L1047.7,1394.50 L1049.0,1394.50 L1050.3,1394.50 L1051.5,1394.50 L1052.8,1394.50 L1054.1,1394.50 L1055.4,1394.50 L1056.7,1394.50 L1057.9,1394.50 L1059.2,1394.50 L1060.5,1394.50 L1061.8,1394.50 L1063.1,1394.50 L1064.3,1394.50 L1065.6,1394.50 L1066.9,1394.50 L1068.2,1394.50 L1069.5,1394.50 L1070.7,1394.50 L1072.0,1394.50 L1073.3,1394.50 L1074.6,1394.50 L1075.9,1394.50 L1077.1,1394.50 L1078.4,1394.50 L1079.7,1394.50 L1081.0,1394.50 L1082.3,1394.50 L1083.5,1394.50 L1084.8,1394.50 L1086.1,1394.50 L1087.4,1394.50 L1088.7,1394.50 L1089.9,1394.50 L1091.2,1394.50 L1092.5,1394.50 L1093.8,1394.50 L1095.1,1394.50 L1096.3,1394.50 L1097.6,1394.50 L1098.9,1394.50" fill="none" stroke="#000" stroke-width="2.85" stroke-linejoin="round" stroke-linecap="butt"/>
<line x1="332.3" x2="1098.9" y1="1394.5" y2="1394.5" stroke="#000" stroke-width="2.6" stroke-linecap="round"/>
<g fill="#AA3377">
<circle cx="387.7" cy="1488.1" r="2.8"/><circle cx="409.3" cy="1455.3" r="2.8"/><circle cx="427.7" cy="1449.0" r="2.8"/><circle cx="454.6" cy="1428.6" r="2.8"/><circle cx="492.6" cy="1428.9" r="2.8"/><circle cx="505.6" cy="1433.2" r="2.8"/><circle cx="501.2" cy="1438.8" r="2.8"/><circle cx="523.3" cy="1426.1" r="2.8"/><circle cx="530.4" cy="1423.7" r="2.8"/><circle cx="499.3" cy="1451.9" r="2.8"/><circle cx="511.2" cy="1452.5" r="2.8"/><circle cx="504.6" cy="1456.1" r="2.8"/><circle cx="490.1" cy="1460.2" r="2.8"/><circle cx="500.6" cy="1464.9" r="2.8"/><circle cx="487.3" cy="1469.8" r="2.8"/><circle cx="523.3" cy="1468.6" r="2.8"/><circle cx="526.6" cy="1472.6" r="2.8"/><circle cx="531.3" cy="1475.8" r="2.8"/><circle cx="471.7" cy="1489.1" r="2.8"/><circle cx="480.5" cy="1489.9" r="2.8"/><circle cx="504.1" cy="1495.0" r="2.8"/><circle cx="524.4" cy="1495.3" r="2.8"/><circle cx="542.2" cy="1454.7" r="2.8"/><circle cx="557.3" cy="1452.2" r="2.8"/><circle cx="565.9" cy="1462.7" r="2.8"/><circle cx="555.8" cy="1474.1" r="2.8"/><circle cx="578.8" cy="1449.4" r="2.8"/><circle cx="582.1" cy="1471.4" r="2.8"/><circle cx="583.3" cy="1475.4" r="2.8"/><circle cx="581.4" cy="1485.9" r="2.8"/><circle cx="599.1" cy="1430.8" r="2.8"/><circle cx="597.9" cy="1440.3" r="2.8"/><circle cx="594.5" cy="1493.1" r="2.8"/><circle cx="601.4" cy="1495.8" r="2.8"/><circle cx="618.0" cy="1435.3" r="2.8"/><circle cx="628.6" cy="1453.8" r="2.8"/><circle cx="623.1" cy="1473.5" r="2.8"/><circle cx="636.7" cy="1433.3" r="2.8"/><circle cx="637.3" cy="1489.7" r="2.8"/><circle cx="649.2" cy="1433.6" r="2.8"/><circle cx="646.0" cy="1473.8" r="2.8"/><circle cx="652.9" cy="1474.4" r="2.8"/><circle cx="658.0" cy="1429.4" r="2.8"/><circle cx="663.3" cy="1436.4" r="2.8"/><circle cx="664.1" cy="1488.8" r="2.8"/><circle cx="686.1" cy="1420.2" r="2.8"/><circle cx="690.4" cy="1427.0" r="2.8"/><circle cx="696.8" cy="1442.6" r="2.8"/><circle cx="687.3" cy="1459.9" r="2.8"/><circle cx="683.8" cy="1468.2" r="2.8"/><circle cx="684.4" cy="1481.9" r="2.8"/><circle cx="683.2" cy="1486.6" r="2.8"/><circle cx="714.9" cy="1426.5" r="2.8"/><circle cx="714.8" cy="1431.7" r="2.8"/><circle cx="723.9" cy="1459.9" r="2.8"/><circle cx="723.2" cy="1461.2" r="2.8"/><circle cx="725.4" cy="1475.2" r="2.8"/><circle cx="732.1" cy="1475.2" r="2.8"/><circle cx="736.2" cy="1475.4" r="2.8"/><circle cx="738.4" cy="1468.0" r="2.8"/><circle cx="743.3" cy="1454.0" r="2.8"/><circle cx="751.0" cy="1477.5" r="2.8"/><circle cx="751.0" cy="1489.4" r="2.8"/><circle cx="757.4" cy="1434.2" r="2.8"/><circle cx="762.2" cy="1447.5" r="2.8"/><circle cx="765.0" cy="1453.1" r="2.8"/><circle cx="769.4" cy="1423.0" r="2.8"/><circle cx="779.4" cy="1421.4" r="2.8"/><circle cx="774.3" cy="1454.1" r="2.8"/><circle cx="781.4" cy="1444.4" r="2.8"/><circle cx="788.7" cy="1453.1" r="2.8"/><circle cx="765.4" cy="1477.2" r="2.8"/><circle cx="770.0" cy="1472.1" r="2.8"/><circle cx="780.3" cy="1478.9" r="2.8"/><circle cx="790.5" cy="1463.4" r="2.8"/><circle cx="797.3" cy="1470.2" r="2.8"/><circle cx="799.8" cy="1484.3" r="2.8"/><circle cx="805.9" cy="1490.2" r="2.8"/><circle cx="801.6" cy="1424.8" r="2.8"/><circle cx="806.4" cy="1437.0" r="2.8"/><circle cx="803.0" cy="1442.6" r="2.8"/><circle cx="826.8" cy="1426.1" r="2.8"/><circle cx="827.4" cy="1429.4" r="2.8"/><circle cx="835.7" cy="1442.5" r="2.8"/><circle cx="846.3" cy="1429.8" r="2.8"/><circle cx="825.0" cy="1468.8" r="2.8"/><circle cx="819.3" cy="1482.2" r="2.8"/><circle cx="831.8" cy="1488.1" r="2.8"/><circle cx="853.5" cy="1493.1" r="2.8"/><circle cx="862.9" cy="1435.7" r="2.8"/><circle cx="867.9" cy="1446.7" r="2.8"/><circle cx="905.3" cy="1428.2" r="2.8"/><circle cx="914.8" cy="1449.6" r="2.8"/><circle cx="927.9" cy="1442.3" r="2.8"/><circle cx="879.2" cy="1474.6" r="2.8"/><circle cx="880.4" cy="1479.3" r="2.8"/><circle cx="869.1" cy="1479.4" r="2.8"/><circle cx="876.6" cy="1483.0" r="2.8"/><circle cx="873.5" cy="1488.0" r="2.8"/><circle cx="885.8" cy="1494.9" r="2.8"/>
</g>
<path d="M332.3,1606.80 L333.6,1606.80 L334.9,1606.80 L336.1,1606.80 L337.4,1606.80 L338.7,1606.80 L340.0,1606.79 L341.3,1606.79 L342.5,1606.79 L343.8,1606.80 L345.1,1606.80 L346.4,1606.80 L347.7,1606.80 L348.9,1606.80 L350.2,1606.80 L351.5,1606.80 L352.8,1606.80 L354.1,1606.80 L355.3,1606.80 L356.6,1606.80 L357.9,1606.80 L359.2,1606.80 L360.5,1606.80 L361.7,1606.80 L363.0,1606.80 L364.3,1606.80 L365.6,1606.80 L366.9,1606.80 L368.1,1606.80 L369.4,1606.80 L370.7,1606.80 L372.0,1606.80 L373.3,1606.80 L374.5,1606.80 L375.8,1606.80 L377.1,1606.80 L378.4,1606.80 L379.7,1606.79 L380.9,1606.77 L382.2,1606.74 L383.5,1606.70 L384.8,1606.65 L386.1,1606.59 L387.3,1606.52 L388.6,1606.44 L389.9,1606.36 L391.2,1606.27 L392.5,1606.17 L393.7,1606.07 L395.0,1605.96 L396.3,1605.84 L397.6,1605.72 L398.8,1605.60 L400.1,1605.46 L401.4,1605.32 L402.7,1605.18 L404.0,1605.02 L405.2,1604.87 L406.5,1604.71 L407.8,1604.55 L409.1,1604.39 L410.4,1604.22 L411.6,1604.06 L412.9,1603.90 L414.2,1603.74 L415.5,1603.59 L416.8,1603.44 L418.0,1603.30 L419.3,1603.17 L420.6,1603.06 L421.9,1602.96 L423.2,1602.87 L424.4,1602.79 L425.7,1602.73 L427.0,1602.67 L428.3,1602.62 L429.6,1602.58 L430.8,1602.55 L432.1,1602.52 L433.4,1602.51 L434.7,1602.50 L436.0,1602.50 L437.2,1602.51 L438.5,1602.53 L439.8,1602.56 L441.1,1602.59 L442.4,1602.61 L443.6,1602.64 L444.9,1602.67 L446.2,1602.69 L447.5,1602.71 L448.8,1602.72 L450.0,1602.73 L451.3,1602.74 L452.6,1602.74 L453.9,1602.75 L455.2,1602.75 L456.4,1602.74 L457.7,1602.74 L459.0,1602.72 L460.3,1602.70 L461.6,1602.67 L462.8,1602.63 L464.1,1602.58 L465.4,1602.51 L466.7,1602.43 L468.0,1602.33 L469.2,1602.22 L470.5,1602.10 L471.8,1601.96 L473.1,1601.80 L474.4,1601.63 L475.6,1601.42 L476.9,1601.20 L478.2,1600.95 L479.5,1600.67 L480.8,1600.37 L482.0,1600.04 L483.3,1599.68 L484.6,1599.30 L485.9,1598.88 L487.2,1598.43 L488.4,1597.94 L489.7,1597.42 L491.0,1596.88 L492.3,1596.32 L493.6,1595.75 L494.8,1595.17 L496.1,1594.58 L497.4,1594.01 L498.7,1593.43 L500.0,1592.86 L501.2,1592.30 L502.5,1591.75 L503.8,1591.20 L505.1,1590.67 L506.4,1590.15 L507.6,1589.64 L508.9,1589.15 L510.2,1588.68 L511.5,1588.23 L512.8,1587.79 L514.0,1587.38 L515.3,1587.00 L516.6,1586.65 L517.9,1586.34 L519.2,1586.07 L520.4,1585.83 L521.7,1585.63 L523.0,1585.46 L524.3,1585.32 L525.5,1585.21 L526.8,1585.12 L528.1,1585.06 L529.4,1585.02 L530.7,1585.00 L531.9,1585.01 L533.2,1585.03 L534.5,1585.08 L535.8,1585.12 L537.1,1585.17 L538.3,1585.21 L539.6,1585.23 L540.9,1585.22 L542.2,1585.18 L543.5,1585.10 L544.7,1584.98 L546.0,1584.82 L547.3,1584.63 L548.6,1584.41 L549.9,1584.15 L551.1,1583.87 L552.4,1583.57 L553.7,1583.24 L555.0,1582.88 L556.3,1582.51 L557.5,1582.14 L558.8,1581.76 L560.1,1581.38 L561.4,1581.02 L562.7,1580.68 L563.9,1580.36 L565.2,1580.05 L566.5,1579.77 L567.8,1579.51 L569.1,1579.27 L570.3,1579.05 L571.6,1578.86 L572.9,1578.69 L574.2,1578.56 L575.5,1578.45 L576.7,1578.38 L578.0,1578.34 L579.3,1578.34 L580.6,1578.37 L581.9,1578.44 L583.1,1578.54 L584.4,1578.66 L585.7,1578.79 L587.0,1578.94 L588.3,1579.09 L589.5,1579.25 L590.8,1579.42 L592.1,1579.60 L593.4,1579.82 L594.7,1580.06 L595.9,1580.35 L597.2,1580.68 L598.5,1581.04 L599.8,1581.42 L601.1,1581.80 L602.3,1582.16 L603.6,1582.48 L604.9,1582.76 L606.2,1582.99 L607.5,1583.18 L608.7,1583.34 L610.0,1583.47 L611.3,1583.59 L612.6,1583.70 L613.9,1583.81 L615.1,1583.91 L616.4,1584.00 L617.7,1584.10 L619.0,1584.20 L620.3,1584.30 L621.5,1584.41 L622.8,1584.53 L624.1,1584.66 L625.4,1584.80 L626.7,1584.96 L627.9,1585.14 L629.2,1585.33 L630.5,1585.55 L631.8,1585.80 L633.1,1586.08 L634.3,1586.40 L635.6,1586.75 L636.9,1587.15 L638.2,1587.57 L639.5,1588.03 L640.7,1588.50 L642.0,1588.98 L643.3,1589.46 L644.6,1589.94 L645.9,1590.41 L647.1,1590.88 L648.4,1591.33 L649.7,1591.77 L651.0,1592.20 L652.2,1592.62 L653.5,1593.02 L654.8,1593.40 L656.1,1593.77 L657.4,1594.11 L658.6,1594.42 L659.9,1594.70 L661.2,1594.95 L662.5,1595.15 L663.8,1595.32 L665.0,1595.45 L666.3,1595.55 L667.6,1595.62 L668.9,1595.65 L670.2,1595.65 L671.4,1595.62 L672.7,1595.54 L674.0,1595.43 L675.3,1595.29 L676.6,1595.12 L677.8,1594.94 L679.1,1594.75 L680.4,1594.56 L681.7,1594.37 L683.0,1594.20 L684.2,1594.04 L685.5,1593.90 L686.8,1593.76 L688.1,1593.64 L689.4,1593.53 L690.6,1593.43 L691.9,1593.34 L693.2,1593.26 L694.5,1593.20 L695.8,1593.15 L697.0,1593.12 L698.3,1593.10 L699.6,1593.11 L700.9,1593.14 L702.2,1593.20 L703.4,1593.28 L704.7,1593.40 L706.0,1593.53 L707.3,1593.69 L708.6,1593.85 L709.8,1594.03 L711.1,1594.21 L712.4,1594.39 L713.7,1594.58 L715.0,1594.77 L716.2,1594.95 L717.5,1595.13 L718.8,1595.31 L720.1,1595.47 L721.4,1595.63 L722.6,1595.77 L723.9,1595.89 L725.2,1596.00 L726.5,1596.10 L727.8,1596.19 L729.0,1596.28 L730.3,1596.36 L731.6,1596.43 L732.9,1596.50 L734.2,1596.57 L735.4,1596.64 L736.7,1596.71 L738.0,1596.78 L739.3,1596.85 L740.6,1596.93 L741.8,1597.00 L743.1,1597.08 L744.4,1597.16 L745.7,1597.26 L747.0,1597.37 L748.2,1597.49 L749.5,1597.63 L750.8,1597.78 L752.1,1597.96 L753.4,1598.15 L754.6,1598.35 L755.9,1598.55 L757.2,1598.77 L758.5,1598.98 L759.8,1599.20 L761.0,1599.41 L762.3,1599.62 L763.6,1599.82 L764.9,1600.02 L766.2,1600.22 L767.4,1600.42 L768.7,1600.61 L770.0,1600.81 L771.3,1601.00 L772.6,1601.19 L773.8,1601.37 L775.1,1601.55 L776.4,1601.73 L777.7,1601.90 L779.0,1602.06 L780.2,1602.23 L781.5,1602.39 L782.8,1602.54 L784.1,1602.69 L785.3,1602.85 L786.6,1603.00 L787.9,1603.15 L789.2,1603.30 L790.5,1603.46 L791.7,1603.63 L793.0,1603.80 L794.3,1603.98 L795.6,1604.17 L796.9,1604.36 L798.1,1604.56 L799.4,1604.75 L800.7,1604.94 L802.0,1605.12 L803.3,1605.29 L804.5,1605.43 L805.8,1605.56 L807.1,1605.66 L808.4,1605.75 L809.7,1605.82 L810.9,1605.87 L812.2,1605.92 L813.5,1605.96 L814.8,1605.99 L816.1,1606.01 L817.3,1606.03 L818.6,1606.04 L819.9,1606.04 L821.2,1606.04 L822.5,1606.04 L823.7,1606.03 L825.0,1606.02 L826.3,1606.00 L827.6,1605.99 L828.9,1605.97 L830.1,1605.95 L831.4,1605.92 L832.7,1605.90 L834.0,1605.87 L835.3,1605.84 L836.5,1605.80 L837.8,1605.77 L839.1,1605.73 L840.4,1605.69 L841.7,1605.64 L842.9,1605.60 L844.2,1605.55 L845.5,1605.50 L846.8,1605.46 L848.1,1605.41 L849.3,1605.37 L850.6,1605.33 L851.9,1605.30 L853.2,1605.27 L854.5,1605.26 L855.7,1605.25 L857.0,1605.25 L858.3,1605.26 L859.6,1605.28 L860.9,1605.31 L862.1,1605.34 L863.4,1605.38 L864.7,1605.42 L866.0,1605.47 L867.3,1605.51 L868.5,1605.56 L869.8,1605.62 L871.1,1605.67 L872.4,1605.73 L873.7,1605.78 L874.9,1605.84 L876.2,1605.90 L877.5,1605.97 L878.8,1606.03 L880.1,1606.09 L881.3,1606.15 L882.6,1606.20 L883.9,1606.26 L885.2,1606.31 L886.5,1606.35 L887.7,1606.40 L889.0,1606.44 L890.3,1606.48 L891.6,1606.52 L892.9,1606.56 L894.1,1606.59 L895.4,1606.62 L896.7,1606.65 L898.0,1606.67 L899.3,1606.69 L900.5,1606.71 L901.8,1606.72 L903.1,1606.74 L904.4,1606.75 L905.7,1606.76 L906.9,1606.77 L908.2,1606.78 L909.5,1606.78 L910.8,1606.79 L912.0,1606.79 L913.3,1606.80 L914.6,1606.80 L915.9,1606.80 L917.2,1606.80 L918.4,1606.80 L919.7,1606.80 L921.0,1606.80 L922.3,1606.80 L923.6,1606.80 L924.8,1606.80 L926.1,1606.80 L927.4,1606.80 L928.7,1606.80 L930.0,1606.80 L931.2,1606.80 L932.5,1606.80 L933.8,1606.80 L935.1,1606.80 L936.4,1606.80 L937.6,1606.80 L938.9,1606.80 L940.2,1606.80 L941.5,1606.80 L942.8,1606.80 L944.0,1606.80 L945.3,1606.80 L946.6,1606.80 L947.9,1606.80 L949.2,1606.80 L950.4,1606.80 L951.7,1606.80 L953.0,1606.80 L954.3,1606.80 L955.6,1606.80 L956.8,1606.80 L958.1,1606.80 L959.4,1606.80 L960.7,1606.80 L962.0,1606.80 L963.2,1606.80 L964.5,1606.80 L965.8,1606.80 L967.1,1606.80 L968.4,1606.80 L969.6,1606.80 L970.9,1606.80 L972.2,1606.80 L973.5,1606.80 L974.8,1606.80 L976.0,1606.80 L977.3,1606.80 L978.6,1606.80 L979.9,1606.80 L981.2,1606.80 L982.4,1606.80 L983.7,1606.80 L985.0,1606.80 L986.3,1606.80 L987.6,1606.80 L988.8,1606.80 L990.1,1606.80 L991.4,1606.80 L992.7,1606.80 L994.0,1606.80 L995.2,1606.80 L996.5,1606.80 L997.8,1606.80 L999.1,1606.80 L1000.4,1606.80 L1001.6,1606.80 L1002.9,1606.80 L1004.2,1606.80 L1005.5,1606.80 L1006.8,1606.80 L1008.0,1606.80 L1009.3,1606.80 L1010.6,1606.80 L1011.9,1606.80 L1013.2,1606.80 L1014.4,1606.80 L1015.7,1606.80 L1017.0,1606.80 L1018.3,1606.80 L1019.6,1606.80 L1020.8,1606.80 L1022.1,1606.80 L1023.4,1606.80 L1024.7,1606.80 L1026.0,1606.80 L1027.2,1606.80 L1028.5,1606.80 L1029.8,1606.80 L1031.1,1606.80 L1032.4,1606.80 L1033.6,1606.80 L1034.9,1606.80 L1036.2,1606.80 L1037.5,1606.80 L1038.7,1606.80 L1040.0,1606.80 L1041.3,1606.80 L1042.6,1606.80 L1043.9,1606.80 L1045.1,1606.80 L1046.4,1606.80 L1047.7,1606.80 L1049.0,1606.80 L1050.3,1606.80 L1051.5,1606.80 L1052.8,1606.80 L1054.1,1606.80 L1055.4,1606.80 L1056.7,1606.80 L1057.9,1606.80 L1059.2,1606.80 L1060.5,1606.80 L1061.8,1606.80 L1063.1,1606.80 L1064.3,1606.80 L1065.6,1606.80 L1066.9,1606.80 L1068.2,1606.80 L1069.5,1606.80 L1070.7,1606.80 L1072.0,1606.80 L1073.3,1606.80 L1074.6,1606.80 L1075.9,1606.80 L1077.1,1606.80 L1078.4,1606.80 L1079.7,1606.80 L1081.0,1606.80 L1082.3,1606.80 L1083.5,1606.80 L1084.8,1606.80 L1086.1,1606.80 L1087.4,1606.80 L1088.7,1606.80 L1089.9,1606.80 L1091.2,1606.80 L1092.5,1606.80 L1093.8,1606.80 L1095.1,1606.80 L1096.3,1606.80 L1097.6,1606.80 L1098.9,1606.80 L1098.9,1606.8 L332.3,1606.8 Z" fill="#BBBBBB" stroke="none"/>
<path d="M332.3,1606.80 L333.6,1606.80 L334.9,1606.80 L336.1,1606.80 L337.4,1606.80 L338.7,1606.80 L340.0,1606.79 L341.3,1606.79 L342.5,1606.79 L343.8,1606.80 L345.1,1606.80 L346.4,1606.80 L347.7,1606.80 L348.9,1606.80 L350.2,1606.80 L351.5,1606.80 L352.8,1606.80 L354.1,1606.80 L355.3,1606.80 L356.6,1606.80 L357.9,1606.80 L359.2,1606.80 L360.5,1606.80 L361.7,1606.80 L363.0,1606.80 L364.3,1606.80 L365.6,1606.80 L366.9,1606.80 L368.1,1606.80 L369.4,1606.80 L370.7,1606.80 L372.0,1606.80 L373.3,1606.80 L374.5,1606.80 L375.8,1606.80 L377.1,1606.80 L378.4,1606.80 L379.7,1606.79 L380.9,1606.77 L382.2,1606.74 L383.5,1606.70 L384.8,1606.65 L386.1,1606.59 L387.3,1606.52 L388.6,1606.44 L389.9,1606.36 L391.2,1606.27 L392.5,1606.17 L393.7,1606.07 L395.0,1605.96 L396.3,1605.84 L397.6,1605.72 L398.8,1605.60 L400.1,1605.46 L401.4,1605.32 L402.7,1605.18 L404.0,1605.02 L405.2,1604.87 L406.5,1604.71 L407.8,1604.55 L409.1,1604.39 L410.4,1604.22 L411.6,1604.06 L412.9,1603.90 L414.2,1603.74 L415.5,1603.59 L416.8,1603.44 L418.0,1603.30 L419.3,1603.17 L420.6,1603.06 L421.9,1602.96 L423.2,1602.87 L424.4,1602.79 L425.7,1602.73 L427.0,1602.67 L428.3,1602.62 L429.6,1602.58 L430.8,1602.55 L432.1,1602.52 L433.4,1602.51 L434.7,1602.50 L436.0,1602.50 L437.2,1602.51 L438.5,1602.53 L439.8,1602.56 L441.1,1602.59 L442.4,1602.61 L443.6,1602.64 L444.9,1602.67 L446.2,1602.69 L447.5,1602.71 L448.8,1602.72 L450.0,1602.73 L451.3,1602.74 L452.6,1602.74 L453.9,1602.75 L455.2,1602.75 L456.4,1602.74 L457.7,1602.74 L459.0,1602.72 L460.3,1602.70 L461.6,1602.67 L462.8,1602.63 L464.1,1602.58 L465.4,1602.51 L466.7,1602.43 L468.0,1602.33 L469.2,1602.22 L470.5,1602.10 L471.8,1601.96 L473.1,1601.80 L474.4,1601.63 L475.6,1601.42 L476.9,1601.20 L478.2,1600.95 L479.5,1600.67 L480.8,1600.37 L482.0,1600.04 L483.3,1599.68 L484.6,1599.30 L485.9,1598.88 L487.2,1598.43 L488.4,1597.94 L489.7,1597.42 L491.0,1596.88 L492.3,1596.32 L493.6,1595.75 L494.8,1595.17 L496.1,1594.58 L497.4,1594.01 L498.7,1593.43 L500.0,1592.86 L501.2,1592.30 L502.5,1591.75 L503.8,1591.20 L505.1,1590.67 L506.4,1590.15 L507.6,1589.64 L508.9,1589.15 L510.2,1588.68 L511.5,1588.23 L512.8,1587.79 L514.0,1587.38 L515.3,1587.00 L516.6,1586.65 L517.9,1586.34 L519.2,1586.07 L520.4,1585.83 L521.7,1585.63 L523.0,1585.46 L524.3,1585.32 L525.5,1585.21 L526.8,1585.12 L528.1,1585.06 L529.4,1585.02 L530.7,1585.00 L531.9,1585.01 L533.2,1585.03 L534.5,1585.08 L535.8,1585.12 L537.1,1585.17 L538.3,1585.21 L539.6,1585.23 L540.9,1585.22 L542.2,1585.18 L543.5,1585.10 L544.7,1584.98 L546.0,1584.82 L547.3,1584.63 L548.6,1584.41 L549.9,1584.15 L551.1,1583.87 L552.4,1583.57 L553.7,1583.24 L555.0,1582.88 L556.3,1582.51 L557.5,1582.14 L558.8,1581.76 L560.1,1581.38 L561.4,1581.02 L562.7,1580.68 L563.9,1580.36 L565.2,1580.05 L566.5,1579.77 L567.8,1579.51 L569.1,1579.27 L570.3,1579.05 L571.6,1578.86 L572.9,1578.69 L574.2,1578.56 L575.5,1578.45 L576.7,1578.38 L578.0,1578.34 L579.3,1578.34 L580.6,1578.37 L581.9,1578.44 L583.1,1578.54 L584.4,1578.66 L585.7,1578.79 L587.0,1578.94 L588.3,1579.09 L589.5,1579.25 L590.8,1579.42 L592.1,1579.60 L593.4,1579.82 L594.7,1580.06 L595.9,1580.35 L597.2,1580.68 L598.5,1581.04 L599.8,1581.42 L601.1,1581.80 L602.3,1582.16 L603.6,1582.48 L604.9,1582.76 L606.2,1582.99 L607.5,1583.18 L608.7,1583.34 L610.0,1583.47 L611.3,1583.59 L612.6,1583.70 L613.9,1583.81 L615.1,1583.91 L616.4,1584.00 L617.7,1584.10 L619.0,1584.20 L620.3,1584.30 L621.5,1584.41 L622.8,1584.53 L624.1,1584.66 L625.4,1584.80 L626.7,1584.96 L627.9,1585.14 L629.2,1585.33 L630.5,1585.55 L631.8,1585.80 L633.1,1586.08 L634.3,1586.40 L635.6,1586.75 L636.9,1587.15 L638.2,1587.57 L639.5,1588.03 L640.7,1588.50 L642.0,1588.98 L643.3,1589.46 L644.6,1589.94 L645.9,1590.41 L647.1,1590.88 L648.4,1591.33 L649.7,1591.77 L651.0,1592.20 L652.2,1592.62 L653.5,1593.02 L654.8,1593.40 L656.1,1593.77 L657.4,1594.11 L658.6,1594.42 L659.9,1594.70 L661.2,1594.95 L662.5,1595.15 L663.8,1595.32 L665.0,1595.45 L666.3,1595.55 L667.6,1595.62 L668.9,1595.65 L670.2,1595.65 L671.4,1595.62 L672.7,1595.54 L674.0,1595.43 L675.3,1595.29 L676.6,1595.12 L677.8,1594.94 L679.1,1594.75 L680.4,1594.56 L681.7,1594.37 L683.0,1594.20 L684.2,1594.04 L685.5,1593.90 L686.8,1593.76 L688.1,1593.64 L689.4,1593.53 L690.6,1593.43 L691.9,1593.34 L693.2,1593.26 L694.5,1593.20 L695.8,1593.15 L697.0,1593.12 L698.3,1593.10 L699.6,1593.11 L700.9,1593.14 L702.2,1593.20 L703.4,1593.28 L704.7,1593.40 L706.0,1593.53 L707.3,1593.69 L708.6,1593.85 L709.8,1594.03 L711.1,1594.21 L712.4,1594.39 L713.7,1594.58 L715.0,1594.77 L716.2,1594.95 L717.5,1595.13 L718.8,1595.31 L720.1,1595.47 L721.4,1595.63 L722.6,1595.77 L723.9,1595.89 L725.2,1596.00 L726.5,1596.10 L727.8,1596.19 L729.0,1596.28 L730.3,1596.36 L731.6,1596.43 L732.9,1596.50 L734.2,1596.57 L735.4,1596.64 L736.7,1596.71 L738.0,1596.78 L739.3,1596.85 L740.6,1596.93 L741.8,1597.00 L743.1,1597.08 L744.4,1597.16 L745.7,1597.26 L747.0,1597.37 L748.2,1597.49 L749.5,1597.63 L750.8,1597.78 L752.1,1597.96 L753.4,1598.15 L754.6,1598.35 L755.9,1598.55 L757.2,1598.77 L758.5,1598.98 L759.8,1599.20 L761.0,1599.41 L762.3,1599.62 L763.6,1599.82 L764.9,1600.02 L766.2,1600.22 L767.4,1600.42 L768.7,1600.61 L770.0,1600.81 L771.3,1601.00 L772.6,1601.19 L773.8,1601.37 L775.1,1601.55 L776.4,1601.73 L777.7,1601.90 L779.0,1602.06 L780.2,1602.23 L781.5,1602.39 L782.8,1602.54 L784.1,1602.69 L785.3,1602.85 L786.6,1603.00 L787.9,1603.15 L789.2,1603.30 L790.5,1603.46 L791.7,1603.63 L793.0,1603.80 L794.3,1603.98 L795.6,1604.17 L796.9,1604.36 L798.1,1604.56 L799.4,1604.75 L800.7,1604.94 L802.0,1605.12 L803.3,1605.29 L804.5,1605.43 L805.8,1605.56 L807.1,1605.66 L808.4,1605.75 L809.7,1605.82 L810.9,1605.87 L812.2,1605.92 L813.5,1605.96 L814.8,1605.99 L816.1,1606.01 L817.3,1606.03 L818.6,1606.04 L819.9,1606.04 L821.2,1606.04 L822.5,1606.04 L823.7,1606.03 L825.0,1606.02 L826.3,1606.00 L827.6,1605.99 L828.9,1605.97 L830.1,1605.95 L831.4,1605.92 L832.7,1605.90 L834.0,1605.87 L835.3,1605.84 L836.5,1605.80 L837.8,1605.77 L839.1,1605.73 L840.4,1605.69 L841.7,1605.64 L842.9,1605.60 L844.2,1605.55 L845.5,1605.50 L846.8,1605.46 L848.1,1605.41 L849.3,1605.37 L850.6,1605.33 L851.9,1605.30 L853.2,1605.27 L854.5,1605.26 L855.7,1605.25 L857.0,1605.25 L858.3,1605.26 L859.6,1605.28 L860.9,1605.31 L862.1,1605.34 L863.4,1605.38 L864.7,1605.42 L866.0,1605.47 L867.3,1605.51 L868.5,1605.56 L869.8,1605.62 L871.1,1605.67 L872.4,1605.73 L873.7,1605.78 L874.9,1605.84 L876.2,1605.90 L877.5,1605.97 L878.8,1606.03 L880.1,1606.09 L881.3,1606.15 L882.6,1606.20 L883.9,1606.26 L885.2,1606.31 L886.5,1606.35 L887.7,1606.40 L889.0,1606.44 L890.3,1606.48 L891.6,1606.52 L892.9,1606.56 L894.1,1606.59 L895.4,1606.62 L896.7,1606.65 L898.0,1606.67 L899.3,1606.69 L900.5,1606.71 L901.8,1606.72 L903.1,1606.74 L904.4,1606.75 L905.7,1606.76 L906.9,1606.77 L908.2,1606.78 L909.5,1606.78 L910.8,1606.79 L912.0,1606.79 L913.3,1606.80 L914.6,1606.80 L915.9,1606.80 L917.2,1606.80 L918.4,1606.80 L919.7,1606.80 L921.0,1606.80 L922.3,1606.80 L923.6,1606.80 L924.8,1606.80 L926.1,1606.80 L927.4,1606.80 L928.7,1606.80 L930.0,1606.80 L931.2,1606.80 L932.5,1606.80 L933.8,1606.80 L935.1,1606.80 L936.4,1606.80 L937.6,1606.80 L938.9,1606.80 L940.2,1606.80 L941.5,1606.80 L942.8,1606.80 L944.0,1606.80 L945.3,1606.80 L946.6,1606.80 L947.9,1606.80 L949.2,1606.80 L950.4,1606.80 L951.7,1606.80 L953.0,1606.80 L954.3,1606.80 L955.6,1606.80 L956.8,1606.80 L958.1,1606.80 L959.4,1606.80 L960.7,1606.80 L962.0,1606.80 L963.2,1606.80 L964.5,1606.80 L965.8,1606.80 L967.1,1606.80 L968.4,1606.80 L969.6,1606.80 L970.9,1606.80 L972.2,1606.80 L973.5,1606.80 L974.8,1606.80 L976.0,1606.80 L977.3,1606.80 L978.6,1606.80 L979.9,1606.80 L981.2,1606.80 L982.4,1606.80 L983.7,1606.80 L985.0,1606.80 L986.3,1606.80 L987.6,1606.80 L988.8,1606.80 L990.1,1606.80 L991.4,1606.80 L992.7,1606.80 L994.0,1606.80 L995.2,1606.80 L996.5,1606.80 L997.8,1606.80 L999.1,1606.80 L1000.4,1606.80 L1001.6,1606.80 L1002.9,1606.80 L1004.2,1606.80 L1005.5,1606.80 L1006.8,1606.80 L1008.0,1606.80 L1009.3,1606.80 L1010.6,1606.80 L1011.9,1606.80 L1013.2,1606.80 L1014.4,1606.80 L1015.7,1606.80 L1017.0,1606.80 L1018.3,1606.80 L1019.6,1606.80 L1020.8,1606.80 L1022.1,1606.80 L1023.4,1606.80 L1024.7,1606.80 L1026.0,1606.80 L1027.2,1606.80 L1028.5,1606.80 L1029.8,1606.80 L1031.1,1606.80 L1032.4,1606.80 L1033.6,1606.80 L1034.9,1606.80 L1036.2,1606.80 L1037.5,1606.80 L1038.7,1606.80 L1040.0,1606.80 L1041.3,1606.80 L1042.6,1606.80 L1043.9,1606.80 L1045.1,1606.80 L1046.4,1606.80 L1047.7,1606.80 L1049.0,1606.80 L1050.3,1606.80 L1051.5,1606.80 L1052.8,1606.80 L1054.1,1606.80 L1055.4,1606.80 L1056.7,1606.80 L1057.9,1606.80 L1059.2,1606.80 L1060.5,1606.80 L1061.8,1606.80 L1063.1,1606.80 L1064.3,1606.80 L1065.6,1606.80 L1066.9,1606.80 L1068.2,1606.80 L1069.5,1606.80 L1070.7,1606.80 L1072.0,1606.80 L1073.3,1606.80 L1074.6,1606.80 L1075.9,1606.80 L1077.1,1606.80 L1078.4,1606.80 L1079.7,1606.80 L1081.0,1606.80 L1082.3,1606.80 L1083.5,1606.80 L1084.8,1606.80 L1086.1,1606.80 L1087.4,1606.80 L1088.7,1606.80 L1089.9,1606.80 L1091.2,1606.80 L1092.5,1606.80 L1093.8,1606.80 L1095.1,1606.80 L1096.3,1606.80 L1097.6,1606.80 L1098.9,1606.80" fill="none" stroke="#000" stroke-width="2.85" stroke-linejoin="round" stroke-linecap="butt"/>
<line x1="332.3" x2="1098.9" y1="1606.8" y2="1606.8" stroke="#000" stroke-width="2.6" stroke-linecap="round"/>
<g fill="#BBBBBB">
<circle cx="427.1" cy="1699.7" r="2.8"/><circle cx="434.9" cy="1700.9" r="2.8"/><circle cx="435.7" cy="1670.3" r="2.8"/><circle cx="456.3" cy="1674.5" r="2.8"/><circle cx="476.2" cy="1650.4" r="2.8"/><circle cx="483.6" cy="1688.3" r="2.8"/><circle cx="504.0" cy="1684.5" r="2.8"/><circle cx="507.2" cy="1692.3" r="2.8"/><circle cx="507.1" cy="1694.2" r="2.8"/><circle cx="507.7" cy="1701.9" r="2.8"/><circle cx="508.9" cy="1706.9" r="2.8"/><circle cx="511.7" cy="1668.8" r="2.8"/><circle cx="515.9" cy="1670.5" r="2.8"/><circle cx="516.4" cy="1660.7" r="2.8"/><circle cx="519.2" cy="1689.5" r="2.8"/><circle cx="522.6" cy="1690.8" r="2.8"/><circle cx="524.2" cy="1650.8" r="2.8"/><circle cx="528.2" cy="1641.8" r="2.8"/><circle cx="527.6" cy="1655.7" r="2.8"/><circle cx="532.8" cy="1651.3" r="2.8"/><circle cx="529.5" cy="1675.5" r="2.8"/><circle cx="528.2" cy="1683.0" r="2.8"/><circle cx="538.2" cy="1662.4" r="2.8"/><circle cx="543.5" cy="1665.5" r="2.8"/><circle cx="544.9" cy="1646.0" r="2.8"/><circle cx="552.5" cy="1701.3" r="2.8"/><circle cx="558.2" cy="1671.4" r="2.8"/><circle cx="557.9" cy="1633.3" r="2.8"/><circle cx="561.1" cy="1633.4" r="2.8"/><circle cx="563.6" cy="1651.0" r="2.8"/><circle cx="568.6" cy="1645.4" r="2.8"/><circle cx="567.0" cy="1657.6" r="2.8"/><circle cx="569.5" cy="1656.6" r="2.8"/><circle cx="573.2" cy="1659.4" r="2.8"/><circle cx="568.5" cy="1669.3" r="2.8"/><circle cx="572.8" cy="1670.5" r="2.8"/><circle cx="565.8" cy="1695.4" r="2.8"/><circle cx="571.4" cy="1701.3" r="2.8"/><circle cx="573.6" cy="1699.7" r="2.8"/><circle cx="581.5" cy="1666.8" r="2.8"/><circle cx="578.8" cy="1671.9" r="2.8"/><circle cx="580.6" cy="1673.7" r="2.8"/><circle cx="583.7" cy="1692.5" r="2.8"/><circle cx="584.3" cy="1648.5" r="2.8"/><circle cx="592.0" cy="1643.6" r="2.8"/><circle cx="589.3" cy="1651.7" r="2.8"/><circle cx="589.8" cy="1653.9" r="2.8"/><circle cx="587.1" cy="1667.7" r="2.8"/><circle cx="592.9" cy="1668.4" r="2.8"/><circle cx="600.8" cy="1667.8" r="2.8"/><circle cx="589.0" cy="1678.9" r="2.8"/><circle cx="598.6" cy="1686.3" r="2.8"/><circle cx="590.9" cy="1696.7" r="2.8"/><circle cx="606.7" cy="1653.9" r="2.8"/><circle cx="609.7" cy="1653.5" r="2.8"/><circle cx="615.6" cy="1653.8" r="2.8"/><circle cx="622.2" cy="1654.5" r="2.8"/><circle cx="620.3" cy="1643.3" r="2.8"/><circle cx="624.1" cy="1637.0" r="2.8"/><circle cx="630.6" cy="1642.3" r="2.8"/><circle cx="637.3" cy="1646.6" r="2.8"/><circle cx="642.4" cy="1643.8" r="2.8"/><circle cx="657.3" cy="1635.8" r="2.8"/><circle cx="660.0" cy="1638.4" r="2.8"/><circle cx="637.7" cy="1667.8" r="2.8"/><circle cx="648.3" cy="1666.6" r="2.8"/><circle cx="621.6" cy="1678.3" r="2.8"/><circle cx="631.1" cy="1686.7" r="2.8"/><circle cx="621.5" cy="1695.4" r="2.8"/><circle cx="613.4" cy="1706.6" r="2.8"/><circle cx="629.8" cy="1702.2" r="2.8"/><circle cx="638.5" cy="1701.2" r="2.8"/><circle cx="640.4" cy="1699.8" r="2.8"/><circle cx="678.6" cy="1651.4" r="2.8"/><circle cx="680.7" cy="1666.2" r="2.8"/><circle cx="686.7" cy="1668.3" r="2.8"/><circle cx="691.3" cy="1661.9" r="2.8"/><circle cx="704.1" cy="1645.4" r="2.8"/><circle cx="703.7" cy="1663.2" r="2.8"/><circle cx="704.7" cy="1665.0" r="2.8"/><circle cx="682.6" cy="1679.2" r="2.8"/><circle cx="693.7" cy="1680.1" r="2.8"/><circle cx="708.7" cy="1681.5" r="2.8"/><circle cx="694.5" cy="1704.9" r="2.8"/><circle cx="717.4" cy="1690.7" r="2.8"/><circle cx="719.6" cy="1693.8" r="2.8"/><circle cx="732.0" cy="1688.5" r="2.8"/><circle cx="734.4" cy="1651.6" r="2.8"/><circle cx="742.5" cy="1692.8" r="2.8"/><circle cx="743.2" cy="1697.5" r="2.8"/><circle cx="761.3" cy="1635.2" r="2.8"/><circle cx="755.6" cy="1646.4" r="2.8"/><circle cx="763.4" cy="1652.2" r="2.8"/><circle cx="786.9" cy="1639.0" r="2.8"/><circle cx="791.2" cy="1660.9" r="2.8"/><circle cx="747.5" cy="1678.9" r="2.8"/><circle cx="791.7" cy="1705.9" r="2.8"/><circle cx="856.4" cy="1684.9" r="2.8"/>
</g>
</g>
<rect x="294.85" y="15.3" width="841.85" height="1782.0" fill="none" stroke="#b3b3b3" stroke-width="1.35"/>
<g stroke="#b3b3b3" stroke-width="1.4">
<line x1="286.85" x2="294.85" y1="184.3" y2="184.3"/>
<line x1="286.85" x2="294.85" y1="396.6" y2="396.6"/>
<line x1="286.85" x2="294.85" y1="608.9" y2="608.9"/>
<line x1="286.85" x2="294.85" y1="821.2" y2="821.2"/>
<line x1="286.85" x2="294.85" y1="1033.5" y2="1033.5"/>
<line x1="286.85" x2="294.85" y1="1245.8" y2="1245.8"/>
<line x1="286.85" x2="294.85" y1="1458.1" y2="1458.1"/>
<line x1="286.85" x2="294.85" y1="1670.4" y2="1670.4"/>
<line x1="415.0" x2="415.0" y1="1797.3" y2="1805.3"/>
<line x1="573.6" x2="573.6" y1="1797.3" y2="1805.3"/>
<line x1="732.2" x2="732.2" y1="1797.3" y2="1805.3"/>
<line x1="890.8" x2="890.8" y1="1797.3" y2="1805.3"/>
<line x1="1049.4" x2="1049.4" y1="1797.3" y2="1805.3"/>
</g>
<text class="tk" transform="translate(280.3,200.4) scale(0.953,1)" text-anchor="end">8x8</text>
<text class="tk" transform="translate(280.3,412.7) scale(0.953,1)" text-anchor="end">16x16</text>
<text class="tk" transform="translate(280.3,625.0) scale(0.953,1)" text-anchor="end">32x32</text>
<text class="tk" transform="translate(280.3,837.3) scale(0.953,1)" text-anchor="end">64x64</text>
<text class="tk" transform="translate(280.3,1049.6) scale(0.953,1)" text-anchor="end">128x128</text>
<text class="tk" transform="translate(280.3,1261.9) scale(0.953,1)" text-anchor="end">256x256</text>
<text class="tk" transform="translate(280.3,1474.2) scale(0.953,1)" text-anchor="end">512x512</text>
<text class="tk" transform="translate(280.3,1686.5) scale(0.953,1)" text-anchor="end">1024x1024</text>
<text class="tk" transform="translate(415.0,1842.3) scale(0.953,1)" text-anchor="middle">-20</text>
<text class="tk" transform="translate(573.6,1842.3) scale(0.953,1)" text-anchor="middle">-10</text>
<text class="tk" transform="translate(732.2,1842.3) scale(0.953,1)" text-anchor="middle">0</text>
<text class="tk" transform="translate(890.8,1842.3) scale(0.953,1)" text-anchor="middle">10</text>
<text class="tk" transform="translate(1049.4,1842.3) scale(0.953,1)" text-anchor="middle">20</text>
<text class="ti" x="716.2" y="1894.3" text-anchor="middle">Evolved restraint buffer</text>
<text class="ti" transform="translate(50,906) rotate(-90)" text-anchor="middle">Organism size</text>
</svg></body></html>
